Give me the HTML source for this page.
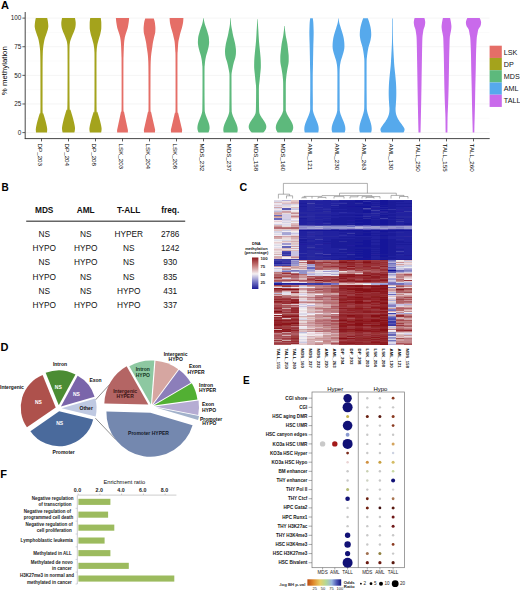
<!DOCTYPE html>
<html><head><meta charset="utf-8"><style>
html,body{margin:0;padding:0;background:#fff;}
body{width:520px;height:591px;overflow:hidden;}
svg{display:block;font-family:"Liberation Sans", sans-serif;}
text{font-family:"Liberation Sans", sans-serif;}
</style></head><body>
<svg width="520" height="591" viewBox="0 0 520 591" font-family="Liberation Sans, sans-serif">
<rect width="520" height="591" fill="#fff"/>
<text x="1" y="9.3" font-size="11" font-weight="bold" >A</text>
<line x1="25.5" x2="489.5" y1="132.60" y2="132.60" stroke="#ececec" stroke-width="0.6"/>
<line x1="25.5" x2="489.5" y1="103.97" y2="103.97" stroke="#ececec" stroke-width="0.6"/>
<line x1="25.5" x2="489.5" y1="75.35" y2="75.35" stroke="#ececec" stroke-width="0.6"/>
<line x1="25.5" x2="489.5" y1="46.72" y2="46.72" stroke="#ececec" stroke-width="0.6"/>
<line x1="25.5" x2="489.5" y1="18.10" y2="18.10" stroke="#ececec" stroke-width="0.6"/>
<line x1="25.5" x2="489.5" y1="118.29" y2="118.29" stroke="#f6f6f6" stroke-width="0.5"/>
<line x1="25.5" x2="489.5" y1="89.66" y2="89.66" stroke="#f6f6f6" stroke-width="0.5"/>
<line x1="25.5" x2="489.5" y1="61.04" y2="61.04" stroke="#f6f6f6" stroke-width="0.5"/>
<line x1="25.5" x2="489.5" y1="32.41" y2="32.41" stroke="#f6f6f6" stroke-width="0.5"/>
<path d="M47.20,18.10 L47.27,18.41 L47.36,18.84 L47.48,19.35 L47.60,19.90 L47.71,20.45 L47.80,20.96 L47.88,21.44 L47.94,21.93 L48.00,22.41 L48.06,22.89 L48.11,23.36 L48.15,23.82 L48.19,24.28 L48.24,24.72 L48.27,25.16 L48.30,25.60 L48.31,26.03 L48.30,26.46 L48.27,26.88 L48.22,27.29 L48.16,27.70 L48.08,28.12 L48.00,28.54 L47.90,28.98 L47.79,29.43 L47.67,29.91 L47.54,30.39 L47.40,30.87 L47.25,31.36 L47.10,31.84 L46.94,32.32 L46.78,32.79 L46.61,33.27 L46.44,33.75 L46.27,34.23 L46.10,34.70 L45.93,35.18 L45.76,35.66 L45.59,36.13 L45.42,36.61 L45.26,37.09 L45.10,37.56 L44.95,38.04 L44.81,38.52 L44.67,39.00 L44.54,39.47 L44.41,39.95 L44.30,40.43 L44.20,40.91 L44.11,41.39 L44.02,41.88 L43.95,42.36 L43.87,42.83 L43.80,43.29 L43.73,43.72 L43.66,44.12 L43.59,44.51 L43.53,44.91 L43.47,45.34 L43.40,45.81 L43.33,46.33 L43.26,46.89 L43.19,47.48 L43.12,48.07 L43.06,48.67 L43.00,49.24 L42.96,49.71 L42.92,50.06 L42.89,50.41 L42.86,50.87 L42.83,51.55 L42.80,52.56 L42.76,53.79 L42.73,55.11 L42.69,56.65 L42.66,58.54 L42.62,60.92 L42.60,63.90 L42.58,67.78 L42.57,72.52 L42.56,77.74 L42.55,83.06 L42.55,88.12 L42.55,92.52 L42.55,96.43 L42.54,100.17 L42.53,103.64 L42.53,106.73 L42.56,109.36 L42.60,111.42 L42.67,112.73 L42.77,113.33 L42.89,113.46 L43.01,113.36 L43.14,113.26 L43.25,113.39 L43.36,113.72 L43.47,114.05 L43.57,114.38 L43.68,114.70 L43.78,115.03 L43.88,115.36 L43.98,115.69 L44.09,116.02 L44.19,116.35 L44.29,116.68 L44.39,117.00 L44.48,117.33 L44.58,117.66 L44.68,117.99 L44.78,118.32 L44.87,118.65 L44.96,118.98 L45.06,119.31 L45.15,119.63 L45.24,119.96 L45.33,120.29 L45.42,120.62 L45.51,120.95 L45.60,121.28 L45.68,121.61 L45.77,121.93 L45.85,122.26 L45.94,122.59 L46.02,122.92 L46.10,123.25 L46.18,123.58 L46.25,123.91 L46.33,124.24 L46.41,124.56 L46.48,124.89 L46.55,125.22 L46.62,125.55 L46.69,125.88 L46.75,126.21 L46.82,126.54 L46.88,126.86 L46.94,127.19 L46.99,127.53 L47.04,127.89 L47.09,128.25 L47.14,128.59 L47.17,128.90 L47.20,129.16 L47.21,129.37 L47.22,129.53 L47.21,129.66 L47.20,129.78 L47.19,129.89 L47.19,130.02 L47.18,130.17 L47.17,130.31 L47.17,130.45 L47.16,130.60 L47.15,130.74 L47.14,130.88 L47.13,131.03 L47.12,131.17 L47.11,131.31 L47.10,131.45 L47.09,131.60 L47.07,131.74 L47.06,131.89 L47.04,132.06 L47.02,132.22 L47.00,132.38 L46.98,132.51 L46.97,132.60 L36.03,132.60 L36.02,132.51 L36.00,132.38 L35.98,132.22 L35.96,132.06 L35.94,131.89 L35.93,131.74 L35.91,131.60 L35.90,131.45 L35.89,131.31 L35.88,131.17 L35.87,131.03 L35.86,130.88 L35.85,130.74 L35.84,130.60 L35.83,130.45 L35.83,130.31 L35.82,130.17 L35.81,130.02 L35.81,129.89 L35.80,129.78 L35.79,129.66 L35.78,129.53 L35.79,129.37 L35.80,129.16 L35.83,128.90 L35.86,128.59 L35.91,128.25 L35.96,127.89 L36.01,127.53 L36.06,127.19 L36.12,126.86 L36.18,126.54 L36.25,126.21 L36.31,125.88 L36.38,125.55 L36.45,125.22 L36.52,124.89 L36.59,124.56 L36.67,124.24 L36.75,123.91 L36.82,123.58 L36.90,123.25 L36.98,122.92 L37.06,122.59 L37.15,122.26 L37.23,121.93 L37.32,121.61 L37.40,121.28 L37.49,120.95 L37.58,120.62 L37.67,120.29 L37.76,119.96 L37.85,119.63 L37.94,119.31 L38.04,118.98 L38.13,118.65 L38.22,118.32 L38.32,117.99 L38.42,117.66 L38.52,117.33 L38.61,117.00 L38.71,116.68 L38.81,116.35 L38.91,116.02 L39.02,115.69 L39.12,115.36 L39.22,115.03 L39.32,114.70 L39.43,114.38 L39.53,114.05 L39.64,113.72 L39.75,113.39 L39.86,113.26 L39.99,113.36 L40.11,113.46 L40.23,113.33 L40.33,112.73 L40.40,111.42 L40.44,109.36 L40.47,106.73 L40.47,103.64 L40.46,100.17 L40.45,96.43 L40.45,92.52 L40.45,88.12 L40.45,83.06 L40.44,77.74 L40.43,72.52 L40.42,67.78 L40.40,63.90 L40.38,60.92 L40.34,58.54 L40.31,56.65 L40.27,55.11 L40.24,53.79 L40.20,52.56 L40.17,51.55 L40.14,50.87 L40.11,50.41 L40.08,50.06 L40.04,49.71 L40.00,49.24 L39.94,48.67 L39.88,48.07 L39.81,47.48 L39.74,46.89 L39.67,46.33 L39.60,45.81 L39.53,45.34 L39.47,44.91 L39.41,44.51 L39.34,44.12 L39.27,43.72 L39.20,43.29 L39.13,42.83 L39.05,42.36 L38.98,41.88 L38.89,41.39 L38.80,40.91 L38.70,40.43 L38.59,39.95 L38.46,39.47 L38.33,39.00 L38.19,38.52 L38.05,38.04 L37.90,37.56 L37.74,37.09 L37.58,36.61 L37.41,36.13 L37.24,35.66 L37.07,35.18 L36.90,34.70 L36.73,34.23 L36.56,33.75 L36.39,33.27 L36.22,32.79 L36.06,32.32 L35.90,31.84 L35.75,31.36 L35.60,30.87 L35.46,30.39 L35.33,29.91 L35.21,29.43 L35.10,28.98 L35.00,28.54 L34.92,28.12 L34.84,27.70 L34.78,27.29 L34.73,26.88 L34.70,26.46 L34.69,26.03 L34.70,25.60 L34.73,25.16 L34.76,24.72 L34.81,24.28 L34.85,23.82 L34.89,23.36 L34.94,22.89 L35.00,22.41 L35.06,21.93 L35.12,21.44 L35.20,20.96 L35.29,20.45 L35.40,19.90 L35.52,19.35 L35.64,18.84 L35.73,18.41 L35.80,18.10Z" fill="#A4A31C"/>
<path d="M75.00,18.10 L75.06,18.42 L75.14,18.88 L75.24,19.41 L75.34,19.97 L75.43,20.51 L75.50,20.96 L75.55,21.33 L75.60,21.65 L75.64,21.95 L75.67,22.24 L75.69,22.56 L75.70,22.91 L75.70,23.31 L75.70,23.74 L75.69,24.20 L75.67,24.66 L75.64,25.11 L75.60,25.54 L75.55,25.96 L75.50,26.37 L75.44,26.77 L75.37,27.16 L75.29,27.56 L75.20,27.95 L75.10,28.34 L75.00,28.72 L74.88,29.10 L74.76,29.48 L74.63,29.86 L74.50,30.24 L74.36,30.62 L74.22,31.00 L74.07,31.38 L73.91,31.76 L73.76,32.15 L73.60,32.53 L73.44,32.91 L73.27,33.29 L73.10,33.67 L72.93,34.05 L72.76,34.44 L72.60,34.82 L72.44,35.20 L72.29,35.58 L72.14,35.96 L72.00,36.34 L71.85,36.73 L71.70,37.11 L71.55,37.49 L71.39,37.87 L71.24,38.25 L71.09,38.63 L70.94,39.02 L70.80,39.40 L70.67,39.78 L70.54,40.16 L70.42,40.54 L70.30,40.92 L70.19,41.31 L70.10,41.69 L70.02,42.07 L69.95,42.45 L69.89,42.83 L69.84,43.21 L69.80,43.60 L69.75,43.98 L69.71,44.27 L69.67,44.47 L69.64,44.66 L69.61,44.96 L69.59,45.46 L69.56,46.27 L69.54,47.27 L69.51,48.35 L69.49,49.64 L69.48,51.25 L69.46,53.30 L69.45,55.88 L69.44,59.17 L69.43,63.09 L69.43,67.44 L69.43,72.02 L69.44,76.63 L69.45,81.07 L69.47,85.68 L69.48,90.66 L69.50,95.67 L69.53,100.37 L69.58,104.40 L69.65,107.41 L69.74,109.18 L69.86,109.95 L70.00,110.06 L70.14,109.83 L70.28,109.60 L70.41,109.70 L70.53,110.08 L70.66,110.46 L70.78,110.84 L70.90,111.23 L71.02,111.61 L71.14,111.99 L71.26,112.37 L71.38,112.75 L71.50,113.13 L71.61,113.52 L71.73,113.90 L71.84,114.28 L71.96,114.66 L72.07,115.04 L72.18,115.42 L72.29,115.81 L72.40,116.19 L72.51,116.57 L72.62,116.95 L72.72,117.33 L72.83,117.71 L72.93,118.10 L73.03,118.48 L73.14,118.86 L73.24,119.24 L73.34,119.62 L73.43,120.00 L73.53,120.39 L73.62,120.77 L73.72,121.15 L73.81,121.53 L73.90,121.91 L73.99,122.29 L74.08,122.68 L74.16,123.06 L74.24,123.44 L74.32,123.82 L74.40,124.20 L74.48,124.58 L74.56,124.97 L74.63,125.35 L74.69,125.73 L74.76,126.12 L74.82,126.54 L74.88,126.95 L74.93,127.34 L74.97,127.70 L75.00,128.02 L75.01,128.28 L75.02,128.49 L75.01,128.66 L74.99,128.83 L74.97,128.99 L74.96,129.16 L74.94,129.36 L74.93,129.55 L74.91,129.74 L74.89,129.93 L74.86,130.12 L74.84,130.31 L74.81,130.50 L74.78,130.69 L74.75,130.88 L74.71,131.07 L74.67,131.26 L74.63,131.45 L74.59,131.66 L74.54,131.88 L74.48,132.10 L74.43,132.30 L74.38,132.48 L74.35,132.60 L62.65,132.60 L62.62,132.48 L62.57,132.30 L62.52,132.10 L62.46,131.88 L62.41,131.66 L62.37,131.45 L62.33,131.26 L62.29,131.07 L62.25,130.88 L62.22,130.69 L62.19,130.50 L62.16,130.31 L62.14,130.12 L62.11,129.93 L62.09,129.74 L62.07,129.55 L62.06,129.36 L62.04,129.16 L62.03,128.99 L62.01,128.83 L61.99,128.66 L61.98,128.49 L61.99,128.28 L62.00,128.02 L62.03,127.70 L62.07,127.34 L62.12,126.95 L62.18,126.54 L62.24,126.12 L62.31,125.73 L62.37,125.35 L62.44,124.97 L62.52,124.58 L62.60,124.20 L62.68,123.82 L62.76,123.44 L62.84,123.06 L62.92,122.68 L63.01,122.29 L63.10,121.91 L63.19,121.53 L63.28,121.15 L63.38,120.77 L63.47,120.39 L63.57,120.00 L63.66,119.62 L63.76,119.24 L63.86,118.86 L63.97,118.48 L64.07,118.10 L64.17,117.71 L64.28,117.33 L64.38,116.95 L64.49,116.57 L64.60,116.19 L64.71,115.81 L64.82,115.42 L64.93,115.04 L65.04,114.66 L65.16,114.28 L65.27,113.90 L65.39,113.52 L65.50,113.13 L65.62,112.75 L65.74,112.37 L65.86,111.99 L65.98,111.61 L66.10,111.23 L66.22,110.84 L66.34,110.46 L66.47,110.08 L66.59,109.70 L66.72,109.60 L66.86,109.83 L67.00,110.06 L67.14,109.95 L67.26,109.18 L67.35,107.41 L67.42,104.40 L67.47,100.37 L67.50,95.67 L67.52,90.66 L67.53,85.68 L67.55,81.07 L67.56,76.63 L67.57,72.02 L67.57,67.44 L67.57,63.09 L67.56,59.17 L67.55,55.88 L67.54,53.30 L67.52,51.25 L67.51,49.64 L67.49,48.35 L67.46,47.27 L67.44,46.27 L67.41,45.46 L67.39,44.96 L67.36,44.66 L67.33,44.47 L67.29,44.27 L67.25,43.98 L67.20,43.60 L67.16,43.21 L67.11,42.83 L67.05,42.45 L66.98,42.07 L66.90,41.69 L66.81,41.31 L66.70,40.92 L66.58,40.54 L66.46,40.16 L66.33,39.78 L66.20,39.40 L66.06,39.02 L65.91,38.63 L65.76,38.25 L65.61,37.87 L65.45,37.49 L65.30,37.11 L65.15,36.73 L65.00,36.34 L64.86,35.96 L64.71,35.58 L64.56,35.20 L64.40,34.82 L64.24,34.44 L64.07,34.05 L63.90,33.67 L63.73,33.29 L63.56,32.91 L63.40,32.53 L63.24,32.15 L63.09,31.76 L62.93,31.38 L62.78,31.00 L62.64,30.62 L62.50,30.24 L62.37,29.86 L62.24,29.48 L62.12,29.10 L62.00,28.72 L61.90,28.34 L61.80,27.95 L61.71,27.56 L61.63,27.16 L61.56,26.77 L61.50,26.37 L61.45,25.96 L61.40,25.54 L61.36,25.11 L61.33,24.66 L61.31,24.20 L61.30,23.74 L61.30,23.31 L61.30,22.91 L61.31,22.56 L61.33,22.24 L61.36,21.95 L61.40,21.65 L61.45,21.33 L61.50,20.96 L61.57,20.51 L61.66,19.97 L61.76,19.41 L61.86,18.88 L61.94,18.42 L62.00,18.10Z" fill="#A4A31C"/>
<path d="M100.80,18.10 L100.84,18.42 L100.90,18.88 L100.97,19.41 L101.04,19.97 L101.10,20.51 L101.15,20.96 L101.19,21.30 L101.22,21.56 L101.25,21.80 L101.27,22.07 L101.29,22.42 L101.30,22.91 L101.31,23.60 L101.32,24.46 L101.33,25.41 L101.32,26.36 L101.32,27.23 L101.30,27.95 L101.28,28.49 L101.24,28.91 L101.20,29.26 L101.16,29.58 L101.11,29.89 L101.05,30.24 L100.99,30.62 L100.92,31.00 L100.84,31.38 L100.76,31.76 L100.68,32.15 L100.60,32.53 L100.52,32.91 L100.44,33.29 L100.37,33.67 L100.28,34.05 L100.20,34.44 L100.10,34.82 L99.99,35.20 L99.88,35.58 L99.76,35.96 L99.64,36.34 L99.52,36.73 L99.40,37.11 L99.28,37.49 L99.16,37.87 L99.04,38.25 L98.93,38.63 L98.81,39.02 L98.70,39.40 L98.59,39.78 L98.49,40.16 L98.39,40.54 L98.30,40.92 L98.20,41.31 L98.10,41.69 L98.00,42.07 L97.89,42.45 L97.79,42.83 L97.69,43.21 L97.59,43.60 L97.50,43.98 L97.42,44.36 L97.35,44.74 L97.28,45.12 L97.22,45.50 L97.16,45.89 L97.10,46.27 L97.04,46.65 L96.99,47.03 L96.93,47.40 L96.89,47.79 L96.84,48.17 L96.80,48.56 L96.77,48.92 L96.74,49.26 L96.72,49.59 L96.69,49.97 L96.67,50.41 L96.65,50.96 L96.62,51.40 L96.59,51.67 L96.57,52.00 L96.54,52.65 L96.52,53.86 L96.50,55.88 L96.49,58.87 L96.49,62.65 L96.48,67.00 L96.49,71.67 L96.49,76.44 L96.50,81.07 L96.50,85.95 L96.50,91.34 L96.51,96.83 L96.52,102.00 L96.55,106.42 L96.60,109.70 L96.68,111.58 L96.79,112.36 L96.92,112.41 L97.05,112.08 L97.19,111.76 L97.31,111.80 L97.43,112.15 L97.54,112.50 L97.66,112.85 L97.77,113.20 L97.88,113.55 L97.99,113.90 L98.10,114.25 L98.22,114.60 L98.32,114.95 L98.43,115.30 L98.54,115.65 L98.65,116.00 L98.75,116.35 L98.86,116.70 L98.96,117.05 L99.07,117.40 L99.17,117.75 L99.27,118.10 L99.37,118.45 L99.47,118.80 L99.57,119.15 L99.67,119.50 L99.76,119.85 L99.86,120.20 L99.95,120.55 L100.04,120.90 L100.14,121.25 L100.23,121.60 L100.31,121.95 L100.40,122.29 L100.49,122.64 L100.57,122.99 L100.65,123.34 L100.74,123.69 L100.82,124.04 L100.89,124.39 L100.97,124.74 L101.04,125.09 L101.12,125.44 L101.19,125.79 L101.25,126.14 L101.31,126.49 L101.37,126.86 L101.43,127.23 L101.48,127.61 L101.53,127.97 L101.57,128.31 L101.60,128.59 L101.61,128.82 L101.62,129.01 L101.61,129.16 L101.60,129.30 L101.58,129.44 L101.57,129.59 L101.56,129.76 L101.55,129.93 L101.53,130.10 L101.52,130.26 L101.50,130.43 L101.48,130.60 L101.46,130.76 L101.43,130.93 L101.41,131.10 L101.38,131.26 L101.36,131.43 L101.33,131.60 L101.29,131.78 L101.25,131.97 L101.21,132.16 L101.17,132.34 L101.14,132.49 L101.11,132.60 L89.89,132.60 L89.86,132.49 L89.83,132.34 L89.79,132.16 L89.75,131.97 L89.71,131.78 L89.67,131.60 L89.64,131.43 L89.62,131.26 L89.59,131.10 L89.57,130.93 L89.54,130.76 L89.52,130.60 L89.50,130.43 L89.48,130.26 L89.47,130.10 L89.45,129.93 L89.44,129.76 L89.43,129.59 L89.42,129.44 L89.40,129.30 L89.39,129.16 L89.38,129.01 L89.39,128.82 L89.40,128.59 L89.43,128.31 L89.47,127.97 L89.52,127.61 L89.57,127.23 L89.63,126.86 L89.69,126.49 L89.75,126.14 L89.81,125.79 L89.88,125.44 L89.96,125.09 L90.03,124.74 L90.11,124.39 L90.18,124.04 L90.26,123.69 L90.35,123.34 L90.43,122.99 L90.51,122.64 L90.60,122.29 L90.69,121.95 L90.77,121.60 L90.86,121.25 L90.96,120.90 L91.05,120.55 L91.14,120.20 L91.24,119.85 L91.33,119.50 L91.43,119.15 L91.53,118.80 L91.63,118.45 L91.73,118.10 L91.83,117.75 L91.93,117.40 L92.04,117.05 L92.14,116.70 L92.25,116.35 L92.35,116.00 L92.46,115.65 L92.57,115.30 L92.68,114.95 L92.78,114.60 L92.90,114.25 L93.01,113.90 L93.12,113.55 L93.23,113.20 L93.34,112.85 L93.46,112.50 L93.57,112.15 L93.69,111.80 L93.81,111.76 L93.95,112.08 L94.08,112.41 L94.21,112.36 L94.32,111.58 L94.40,109.70 L94.45,106.42 L94.48,102.00 L94.49,96.83 L94.50,91.34 L94.50,85.95 L94.50,81.07 L94.51,76.44 L94.51,71.67 L94.52,67.00 L94.51,62.65 L94.51,58.87 L94.50,55.88 L94.48,53.86 L94.46,52.65 L94.43,52.00 L94.41,51.67 L94.38,51.40 L94.35,50.96 L94.33,50.41 L94.31,49.97 L94.28,49.59 L94.26,49.26 L94.23,48.92 L94.20,48.56 L94.16,48.17 L94.11,47.79 L94.07,47.40 L94.01,47.03 L93.96,46.65 L93.90,46.27 L93.84,45.89 L93.78,45.50 L93.72,45.12 L93.65,44.74 L93.58,44.36 L93.50,43.98 L93.41,43.60 L93.31,43.21 L93.21,42.83 L93.11,42.45 L93.00,42.07 L92.90,41.69 L92.80,41.31 L92.70,40.92 L92.61,40.54 L92.51,40.16 L92.41,39.78 L92.30,39.40 L92.19,39.02 L92.07,38.63 L91.96,38.25 L91.84,37.87 L91.72,37.49 L91.60,37.11 L91.48,36.73 L91.36,36.34 L91.24,35.96 L91.12,35.58 L91.01,35.20 L90.90,34.82 L90.80,34.44 L90.72,34.05 L90.63,33.67 L90.56,33.29 L90.48,32.91 L90.40,32.53 L90.32,32.15 L90.24,31.76 L90.16,31.38 L90.08,31.00 L90.01,30.62 L89.95,30.24 L89.89,29.89 L89.84,29.58 L89.80,29.26 L89.76,28.91 L89.72,28.49 L89.70,27.95 L89.68,27.23 L89.68,26.36 L89.67,25.41 L89.68,24.46 L89.69,23.60 L89.70,22.91 L89.71,22.42 L89.73,22.07 L89.75,21.80 L89.78,21.56 L89.81,21.30 L89.85,20.96 L89.90,20.51 L89.96,19.97 L90.03,19.41 L90.10,18.88 L90.16,18.42 L90.20,18.10Z" fill="#A4A31C"/>
<path d="M129.10,18.10 L129.08,18.38 L129.05,18.76 L129.02,19.22 L128.98,19.70 L128.94,20.18 L128.90,20.62 L128.86,21.01 L128.81,21.39 L128.76,21.76 L128.71,22.14 L128.66,22.52 L128.60,22.91 L128.54,23.32 L128.48,23.73 L128.41,24.15 L128.34,24.58 L128.27,25.01 L128.20,25.43 L128.12,25.85 L128.05,26.28 L127.97,26.70 L127.89,27.12 L127.80,27.54 L127.70,27.95 L127.60,28.34 L127.49,28.73 L127.37,29.11 L127.25,29.48 L127.12,29.86 L127.00,30.24 L126.87,30.62 L126.74,31.00 L126.60,31.38 L126.46,31.76 L126.33,32.15 L126.20,32.53 L126.08,32.91 L125.96,33.29 L125.84,33.67 L125.72,34.05 L125.61,34.44 L125.50,34.82 L125.39,35.20 L125.29,35.58 L125.18,35.96 L125.08,36.34 L124.99,36.73 L124.90,37.11 L124.82,37.49 L124.75,37.87 L124.68,38.25 L124.62,38.63 L124.56,39.02 L124.50,39.40 L124.44,39.75 L124.39,40.08 L124.34,40.40 L124.30,40.75 L124.25,41.17 L124.20,41.69 L124.15,42.31 L124.10,43.03 L124.04,43.81 L123.99,44.62 L123.94,45.45 L123.90,46.27 L123.86,47.09 L123.82,47.94 L123.79,48.80 L123.76,49.66 L123.73,50.50 L123.70,51.30 L123.67,52.06 L123.65,52.79 L123.62,53.49 L123.60,54.20 L123.58,54.91 L123.56,55.66 L123.54,56.25 L123.52,56.64 L123.50,57.04 L123.48,57.67 L123.46,58.74 L123.45,60.46 L123.44,62.90 L123.43,65.89 L123.42,69.32 L123.41,73.07 L123.40,77.03 L123.40,81.07 L123.40,85.62 L123.39,90.83 L123.39,96.24 L123.40,101.41 L123.41,105.85 L123.45,109.13 L123.51,111.00 L123.58,111.81 L123.67,111.90 L123.76,111.63 L123.86,111.37 L123.94,111.46 L124.03,111.84 L124.11,112.23 L124.19,112.62 L124.27,113.01 L124.36,113.40 L124.44,113.78 L124.52,114.17 L124.60,114.56 L124.69,114.95 L124.77,115.34 L124.85,115.72 L124.93,116.11 L125.02,116.50 L125.10,116.89 L125.18,117.28 L125.26,117.66 L125.35,118.05 L125.43,118.44 L125.51,118.83 L125.59,119.22 L125.67,119.60 L125.76,119.99 L125.84,120.38 L125.92,120.77 L126.00,121.16 L126.09,121.54 L126.17,121.93 L126.25,122.32 L126.33,122.71 L126.42,123.10 L126.50,123.48 L126.58,123.87 L126.66,124.26 L126.75,124.65 L126.83,125.04 L126.91,125.42 L126.99,125.81 L127.08,126.20 L127.16,126.59 L127.24,126.98 L127.32,127.36 L127.41,127.75 L127.49,128.16 L127.59,128.59 L127.68,129.02 L127.77,129.43 L127.85,129.79 L127.90,130.08 L127.93,130.28 L127.94,130.42 L127.93,130.50 L127.92,130.56 L127.90,130.63 L127.90,130.71 L127.90,130.82 L127.89,130.92 L127.89,131.03 L127.89,131.13 L127.89,131.24 L127.89,131.34 L127.88,131.45 L127.88,131.55 L127.88,131.66 L127.88,131.76 L127.87,131.87 L127.87,131.97 L127.87,132.08 L127.86,132.20 L127.86,132.32 L127.85,132.44 L127.85,132.53 L127.85,132.60 L117.15,132.60 L117.15,132.53 L117.15,132.44 L117.14,132.32 L117.14,132.20 L117.13,132.08 L117.13,131.97 L117.13,131.87 L117.12,131.76 L117.12,131.66 L117.12,131.55 L117.12,131.45 L117.11,131.34 L117.11,131.24 L117.11,131.13 L117.11,131.03 L117.11,130.92 L117.10,130.82 L117.10,130.71 L117.10,130.63 L117.08,130.56 L117.07,130.50 L117.06,130.42 L117.07,130.28 L117.10,130.08 L117.15,129.79 L117.23,129.43 L117.32,129.02 L117.41,128.59 L117.51,128.16 L117.59,127.75 L117.68,127.36 L117.76,126.98 L117.84,126.59 L117.92,126.20 L118.01,125.81 L118.09,125.42 L118.17,125.04 L118.25,124.65 L118.34,124.26 L118.42,123.87 L118.50,123.48 L118.58,123.10 L118.67,122.71 L118.75,122.32 L118.83,121.93 L118.91,121.54 L119.00,121.16 L119.08,120.77 L119.16,120.38 L119.24,119.99 L119.33,119.60 L119.41,119.22 L119.49,118.83 L119.57,118.44 L119.65,118.05 L119.74,117.66 L119.82,117.28 L119.90,116.89 L119.98,116.50 L120.07,116.11 L120.15,115.72 L120.23,115.34 L120.31,114.95 L120.40,114.56 L120.48,114.17 L120.56,113.78 L120.64,113.40 L120.73,113.01 L120.81,112.62 L120.89,112.23 L120.97,111.84 L121.06,111.46 L121.14,111.37 L121.24,111.63 L121.33,111.90 L121.42,111.81 L121.49,111.00 L121.55,109.13 L121.59,105.85 L121.60,101.41 L121.61,96.24 L121.61,90.83 L121.60,85.62 L121.60,81.07 L121.60,77.03 L121.59,73.07 L121.58,69.32 L121.57,65.89 L121.56,62.90 L121.55,60.46 L121.54,58.74 L121.52,57.67 L121.50,57.04 L121.48,56.64 L121.46,56.25 L121.44,55.66 L121.42,54.91 L121.40,54.20 L121.38,53.49 L121.35,52.79 L121.33,52.06 L121.30,51.30 L121.27,50.50 L121.24,49.66 L121.21,48.80 L121.18,47.94 L121.14,47.09 L121.10,46.27 L121.06,45.45 L121.01,44.62 L120.96,43.81 L120.90,43.03 L120.85,42.31 L120.80,41.69 L120.75,41.17 L120.70,40.75 L120.66,40.40 L120.61,40.08 L120.56,39.75 L120.50,39.40 L120.44,39.02 L120.38,38.63 L120.32,38.25 L120.25,37.87 L120.18,37.49 L120.10,37.11 L120.01,36.73 L119.92,36.34 L119.82,35.96 L119.71,35.58 L119.61,35.20 L119.50,34.82 L119.39,34.44 L119.28,34.05 L119.16,33.67 L119.04,33.29 L118.92,32.91 L118.80,32.53 L118.67,32.15 L118.54,31.76 L118.40,31.38 L118.26,31.00 L118.13,30.62 L118.00,30.24 L117.88,29.86 L117.75,29.48 L117.63,29.11 L117.51,28.73 L117.40,28.34 L117.30,27.95 L117.20,27.54 L117.11,27.12 L117.03,26.70 L116.95,26.28 L116.88,25.85 L116.80,25.43 L116.73,25.01 L116.66,24.58 L116.59,24.15 L116.52,23.73 L116.46,23.32 L116.40,22.91 L116.34,22.52 L116.29,22.14 L116.24,21.76 L116.19,21.39 L116.14,21.01 L116.10,20.62 L116.06,20.18 L116.02,19.70 L115.98,19.22 L115.95,18.76 L115.92,18.38 L115.90,18.10Z" fill="#E56E67"/>
<path d="M153.80,18.56 L153.88,18.82 L153.99,19.20 L154.12,19.64 L154.26,20.11 L154.39,20.56 L154.50,20.96 L154.59,21.31 L154.66,21.62 L154.72,21.92 L154.79,22.23 L154.84,22.55 L154.90,22.91 L154.96,23.31 L155.01,23.74 L155.06,24.20 L155.11,24.66 L155.16,25.11 L155.20,25.54 L155.24,25.96 L155.28,26.37 L155.32,26.77 L155.36,27.16 L155.38,27.56 L155.40,27.95 L155.41,28.34 L155.41,28.72 L155.40,29.10 L155.38,29.48 L155.37,29.86 L155.35,30.24 L155.33,30.62 L155.32,31.00 L155.30,31.38 L155.28,31.76 L155.25,32.15 L155.20,32.53 L155.14,32.91 L155.06,33.29 L154.98,33.67 L154.89,34.05 L154.79,34.44 L154.70,34.82 L154.60,35.20 L154.50,35.58 L154.40,35.96 L154.30,36.34 L154.20,36.73 L154.10,37.11 L154.01,37.49 L153.93,37.87 L153.84,38.25 L153.76,38.63 L153.68,39.02 L153.60,39.40 L153.52,39.78 L153.43,40.16 L153.34,40.54 L153.26,40.92 L153.18,41.31 L153.10,41.69 L153.03,42.07 L152.96,42.45 L152.89,42.83 L152.82,43.21 L152.76,43.60 L152.70,43.98 L152.65,44.33 L152.61,44.65 L152.57,44.97 L152.53,45.33 L152.47,45.75 L152.40,46.27 L152.31,46.91 L152.19,47.65 L152.07,48.46 L151.94,49.31 L151.82,50.15 L151.70,50.96 L151.59,51.75 L151.48,52.53 L151.38,53.32 L151.27,54.10 L151.18,54.88 L151.10,55.66 L151.03,56.41 L150.97,57.14 L150.93,57.87 L150.88,58.61 L150.84,59.39 L150.80,60.24 L150.76,61.05 L150.72,61.79 L150.69,62.57 L150.66,63.49 L150.63,64.66 L150.60,66.19 L150.58,68.00 L150.56,69.99 L150.54,72.24 L150.52,74.79 L150.51,77.72 L150.50,81.07 L150.49,85.31 L150.47,90.47 L150.46,96.00 L150.46,101.36 L150.47,105.99 L150.50,109.36 L150.56,111.24 L150.63,112.04 L150.72,112.11 L150.82,111.83 L150.92,111.54 L151.01,111.62 L151.10,112.00 L151.18,112.38 L151.27,112.75 L151.35,113.13 L151.44,113.51 L151.52,113.89 L151.61,114.26 L151.69,114.64 L151.78,115.02 L151.86,115.40 L151.95,115.77 L152.03,116.15 L152.12,116.53 L152.20,116.91 L152.29,117.28 L152.37,117.66 L152.46,118.04 L152.54,118.41 L152.63,118.79 L152.71,119.17 L152.80,119.55 L152.89,119.92 L152.97,120.30 L153.06,120.68 L153.14,121.06 L153.23,121.43 L153.31,121.81 L153.40,122.19 L153.48,122.57 L153.57,122.94 L153.65,123.32 L153.74,123.70 L153.82,124.08 L153.91,124.45 L153.99,124.83 L154.08,125.21 L154.16,125.59 L154.25,125.96 L154.33,126.34 L154.42,126.72 L154.50,127.10 L154.59,127.47 L154.68,127.87 L154.78,128.29 L154.88,128.70 L154.97,129.10 L155.05,129.45 L155.10,129.74 L155.13,129.95 L155.14,130.09 L155.13,130.19 L155.11,130.27 L155.10,130.35 L155.09,130.45 L155.09,130.57 L155.08,130.69 L155.08,130.81 L155.07,130.93 L155.06,131.05 L155.06,131.17 L155.05,131.29 L155.04,131.41 L155.03,131.53 L155.03,131.65 L155.02,131.77 L155.01,131.88 L154.99,132.01 L154.98,132.15 L154.97,132.29 L154.95,132.41 L154.94,132.52 L154.93,132.60 L144.07,132.60 L144.06,132.52 L144.05,132.41 L144.03,132.29 L144.02,132.15 L144.01,132.01 L143.99,131.88 L143.98,131.77 L143.97,131.65 L143.97,131.53 L143.96,131.41 L143.95,131.29 L143.94,131.17 L143.94,131.05 L143.93,130.93 L143.92,130.81 L143.92,130.69 L143.91,130.57 L143.91,130.45 L143.90,130.35 L143.89,130.27 L143.87,130.19 L143.86,130.09 L143.87,129.95 L143.90,129.74 L143.95,129.45 L144.03,129.10 L144.12,128.70 L144.22,128.29 L144.32,127.87 L144.41,127.47 L144.50,127.10 L144.58,126.72 L144.67,126.34 L144.75,125.96 L144.84,125.59 L144.92,125.21 L145.01,124.83 L145.09,124.45 L145.18,124.08 L145.26,123.70 L145.35,123.32 L145.43,122.94 L145.52,122.57 L145.60,122.19 L145.69,121.81 L145.77,121.43 L145.86,121.06 L145.94,120.68 L146.03,120.30 L146.11,119.92 L146.20,119.55 L146.29,119.17 L146.37,118.79 L146.46,118.41 L146.54,118.04 L146.63,117.66 L146.71,117.28 L146.80,116.91 L146.88,116.53 L146.97,116.15 L147.05,115.77 L147.14,115.40 L147.22,115.02 L147.31,114.64 L147.39,114.26 L147.48,113.89 L147.56,113.51 L147.65,113.13 L147.73,112.75 L147.82,112.38 L147.90,112.00 L147.99,111.62 L148.08,111.54 L148.18,111.83 L148.28,112.11 L148.37,112.04 L148.44,111.24 L148.50,109.36 L148.53,105.99 L148.54,101.36 L148.54,96.00 L148.53,90.47 L148.51,85.31 L148.50,81.07 L148.49,77.72 L148.48,74.79 L148.46,72.24 L148.44,69.99 L148.42,68.00 L148.40,66.19 L148.37,64.66 L148.34,63.49 L148.31,62.57 L148.28,61.79 L148.24,61.05 L148.20,60.24 L148.16,59.39 L148.12,58.61 L148.07,57.87 L148.03,57.14 L147.97,56.41 L147.90,55.66 L147.82,54.88 L147.73,54.10 L147.62,53.32 L147.52,52.53 L147.41,51.75 L147.30,50.96 L147.18,50.15 L147.06,49.31 L146.93,48.46 L146.81,47.65 L146.69,46.91 L146.60,46.27 L146.53,45.75 L146.47,45.33 L146.43,44.97 L146.39,44.65 L146.35,44.33 L146.30,43.98 L146.24,43.60 L146.18,43.21 L146.11,42.83 L146.04,42.45 L145.97,42.07 L145.90,41.69 L145.82,41.31 L145.74,40.92 L145.66,40.54 L145.57,40.16 L145.48,39.78 L145.40,39.40 L145.32,39.02 L145.24,38.63 L145.16,38.25 L145.07,37.87 L144.99,37.49 L144.90,37.11 L144.80,36.73 L144.70,36.34 L144.60,35.96 L144.50,35.58 L144.40,35.20 L144.30,34.82 L144.21,34.44 L144.11,34.05 L144.02,33.67 L143.94,33.29 L143.86,32.91 L143.80,32.53 L143.75,32.15 L143.72,31.76 L143.70,31.38 L143.68,31.00 L143.67,30.62 L143.65,30.24 L143.63,29.86 L143.62,29.48 L143.60,29.10 L143.59,28.72 L143.59,28.34 L143.60,27.95 L143.62,27.56 L143.64,27.16 L143.68,26.77 L143.72,26.37 L143.76,25.96 L143.80,25.54 L143.84,25.11 L143.89,24.66 L143.94,24.20 L143.99,23.74 L144.04,23.31 L144.10,22.91 L144.16,22.55 L144.21,22.23 L144.28,21.92 L144.34,21.62 L144.41,21.31 L144.50,20.96 L144.61,20.56 L144.74,20.11 L144.88,19.64 L145.01,19.20 L145.12,18.82 L145.20,18.56Z" fill="#E56E67"/>
<path d="M183.40,18.10 L183.38,18.38 L183.36,18.76 L183.34,19.22 L183.31,19.70 L183.28,20.18 L183.25,20.62 L183.22,21.01 L183.18,21.39 L183.15,21.76 L183.11,22.14 L183.06,22.52 L183.00,22.91 L182.93,23.32 L182.86,23.73 L182.77,24.15 L182.68,24.58 L182.59,25.01 L182.50,25.43 L182.41,25.85 L182.31,26.28 L182.21,26.70 L182.11,27.12 L182.01,27.54 L181.90,27.95 L181.79,28.34 L181.67,28.73 L181.56,29.11 L181.44,29.48 L181.32,29.86 L181.20,30.24 L181.08,30.62 L180.96,31.00 L180.84,31.38 L180.73,31.76 L180.61,32.15 L180.50,32.53 L180.39,32.91 L180.29,33.29 L180.19,33.67 L180.09,34.05 L179.99,34.44 L179.90,34.82 L179.81,35.20 L179.73,35.58 L179.65,35.96 L179.57,36.34 L179.49,36.73 L179.40,37.11 L179.31,37.49 L179.22,37.87 L179.12,38.25 L179.03,38.63 L178.94,39.02 L178.85,39.40 L178.77,39.75 L178.69,40.08 L178.62,40.40 L178.54,40.75 L178.47,41.17 L178.40,41.69 L178.33,42.31 L178.26,43.03 L178.19,43.81 L178.12,44.62 L178.06,45.45 L178.00,46.27 L177.94,47.09 L177.89,47.94 L177.84,48.80 L177.79,49.66 L177.74,50.50 L177.70,51.30 L177.66,51.83 L177.62,52.03 L177.58,52.21 L177.55,52.67 L177.52,53.72 L177.50,55.66 L177.48,58.63 L177.47,62.43 L177.46,66.81 L177.45,71.54 L177.45,76.38 L177.45,81.07 L177.45,86.04 L177.44,91.53 L177.44,97.13 L177.45,102.40 L177.46,106.93 L177.50,110.27 L177.56,112.20 L177.64,113.00 L177.73,113.04 L177.82,112.72 L177.92,112.39 L178.01,112.44 L178.10,112.80 L178.18,113.16 L178.27,113.52 L178.35,113.88 L178.44,114.24 L178.52,114.60 L178.61,114.96 L178.69,115.32 L178.78,115.68 L178.86,116.04 L178.95,116.40 L179.03,116.76 L179.12,117.12 L179.20,117.48 L179.29,117.84 L179.37,118.20 L179.46,118.56 L179.54,118.92 L179.63,119.28 L179.71,119.64 L179.80,120.00 L179.89,120.37 L179.97,120.73 L180.06,121.09 L180.14,121.45 L180.23,121.81 L180.31,122.17 L180.40,122.53 L180.48,122.89 L180.57,123.25 L180.65,123.61 L180.74,123.97 L180.82,124.33 L180.91,124.69 L180.99,125.05 L181.08,125.41 L181.16,125.77 L181.25,126.13 L181.33,126.49 L181.42,126.85 L181.50,127.21 L181.59,127.57 L181.68,127.95 L181.78,128.35 L181.88,128.75 L181.97,129.12 L182.05,129.46 L182.10,129.74 L182.13,129.94 L182.14,130.08 L182.13,130.19 L182.11,130.27 L182.10,130.35 L182.09,130.45 L182.09,130.57 L182.08,130.69 L182.08,130.81 L182.07,130.93 L182.06,131.05 L182.06,131.17 L182.05,131.29 L182.04,131.41 L182.03,131.53 L182.03,131.65 L182.02,131.77 L182.01,131.88 L181.99,132.01 L181.98,132.15 L181.97,132.29 L181.95,132.41 L181.94,132.52 L181.93,132.60 L171.07,132.60 L171.06,132.52 L171.05,132.41 L171.03,132.29 L171.02,132.15 L171.01,132.01 L170.99,131.88 L170.98,131.77 L170.97,131.65 L170.97,131.53 L170.96,131.41 L170.95,131.29 L170.94,131.17 L170.94,131.05 L170.93,130.93 L170.92,130.81 L170.92,130.69 L170.91,130.57 L170.91,130.45 L170.90,130.35 L170.89,130.27 L170.87,130.19 L170.86,130.08 L170.87,129.94 L170.90,129.74 L170.95,129.46 L171.03,129.12 L171.12,128.75 L171.22,128.35 L171.32,127.95 L171.41,127.57 L171.50,127.21 L171.58,126.85 L171.67,126.49 L171.75,126.13 L171.84,125.77 L171.92,125.41 L172.01,125.05 L172.09,124.69 L172.18,124.33 L172.26,123.97 L172.35,123.61 L172.43,123.25 L172.52,122.89 L172.60,122.53 L172.69,122.17 L172.77,121.81 L172.86,121.45 L172.94,121.09 L173.03,120.73 L173.11,120.37 L173.20,120.00 L173.29,119.64 L173.37,119.28 L173.46,118.92 L173.54,118.56 L173.63,118.20 L173.71,117.84 L173.80,117.48 L173.88,117.12 L173.97,116.76 L174.05,116.40 L174.14,116.04 L174.22,115.68 L174.31,115.32 L174.39,114.96 L174.48,114.60 L174.56,114.24 L174.65,113.88 L174.73,113.52 L174.82,113.16 L174.90,112.80 L174.99,112.44 L175.08,112.39 L175.18,112.72 L175.27,113.04 L175.36,113.00 L175.44,112.20 L175.50,110.27 L175.54,106.93 L175.55,102.40 L175.56,97.13 L175.56,91.53 L175.55,86.04 L175.55,81.07 L175.55,76.38 L175.55,71.54 L175.54,66.81 L175.53,62.43 L175.52,58.63 L175.50,55.66 L175.48,53.72 L175.45,52.67 L175.42,52.21 L175.38,52.03 L175.34,51.83 L175.30,51.30 L175.26,50.50 L175.21,49.66 L175.16,48.80 L175.11,47.94 L175.06,47.09 L175.00,46.27 L174.94,45.45 L174.88,44.62 L174.81,43.81 L174.74,43.03 L174.67,42.31 L174.60,41.69 L174.53,41.17 L174.46,40.75 L174.38,40.40 L174.31,40.08 L174.23,39.75 L174.15,39.40 L174.06,39.02 L173.97,38.63 L173.88,38.25 L173.78,37.87 L173.69,37.49 L173.60,37.11 L173.51,36.73 L173.43,36.34 L173.35,35.96 L173.27,35.58 L173.19,35.20 L173.10,34.82 L173.01,34.44 L172.91,34.05 L172.81,33.67 L172.71,33.29 L172.61,32.91 L172.50,32.53 L172.39,32.15 L172.27,31.76 L172.16,31.38 L172.04,31.00 L171.92,30.62 L171.80,30.24 L171.68,29.86 L171.56,29.48 L171.44,29.11 L171.33,28.73 L171.21,28.34 L171.10,27.95 L170.99,27.54 L170.89,27.12 L170.79,26.70 L170.69,26.28 L170.59,25.85 L170.50,25.43 L170.41,25.01 L170.32,24.58 L170.23,24.15 L170.14,23.73 L170.07,23.32 L170.00,22.91 L169.94,22.52 L169.89,22.14 L169.85,21.76 L169.82,21.39 L169.78,21.01 L169.75,20.62 L169.72,20.18 L169.69,19.70 L169.66,19.22 L169.64,18.76 L169.62,18.38 L169.60,18.10Z" fill="#E56E67"/>
<path d="M203.75,18.21 L203.75,18.58 L203.82,19.09 L203.90,19.70 L204.00,20.34 L204.10,20.97 L204.20,21.53 L204.31,22.04 L204.42,22.51 L204.54,22.98 L204.67,23.44 L204.80,23.91 L204.95,24.40 L205.11,24.90 L205.28,25.41 L205.46,25.93 L205.64,26.45 L205.82,26.97 L206.00,27.49 L206.17,28.00 L206.34,28.52 L206.51,29.03 L206.67,29.55 L206.84,30.07 L207.00,30.58 L207.16,31.10 L207.33,31.61 L207.49,32.13 L207.65,32.64 L207.80,33.16 L207.95,33.67 L208.09,34.19 L208.23,34.70 L208.37,35.22 L208.49,35.73 L208.60,36.25 L208.70,36.76 L208.78,37.28 L208.84,37.79 L208.89,38.30 L208.93,38.82 L208.97,39.33 L209.00,39.85 L209.03,40.38 L209.07,40.92 L209.09,41.46 L209.11,42.00 L209.11,42.53 L209.10,43.06 L209.07,43.58 L209.01,44.10 L208.95,44.61 L208.87,45.12 L208.79,45.64 L208.70,46.15 L208.60,46.67 L208.50,47.20 L208.38,47.72 L208.26,48.25 L208.13,48.78 L208.00,49.30 L207.86,49.83 L207.71,50.35 L207.56,50.88 L207.41,51.40 L207.25,51.93 L207.10,52.45 L206.95,52.97 L206.79,53.48 L206.64,53.99 L206.49,54.50 L206.34,55.02 L206.20,55.54 L206.07,56.07 L205.94,56.61 L205.82,57.14 L205.71,57.68 L205.60,58.22 L205.50,58.75 L205.41,59.27 L205.33,59.78 L205.25,60.29 L205.18,60.80 L205.11,61.32 L205.05,61.84 L204.99,62.37 L204.94,62.91 L204.88,63.45 L204.84,63.99 L204.79,64.52 L204.75,65.04 L204.71,65.44 L204.67,65.68 L204.63,65.92 L204.60,66.29 L204.57,66.95 L204.55,68.02 L204.53,69.57 L204.52,71.47 L204.51,73.66 L204.50,76.05 L204.50,78.54 L204.50,81.07 L204.50,83.77 L204.51,86.71 L204.51,89.76 L204.52,92.80 L204.53,95.67 L204.55,98.25 L204.57,100.60 L204.59,102.84 L204.62,104.92 L204.64,106.79 L204.67,108.40 L204.70,109.70 L204.72,110.58 L204.74,111.07 L204.77,111.30 L204.79,111.40 L204.82,111.49 L204.87,111.72 L204.92,112.06 L204.99,112.40 L205.06,112.73 L205.14,113.07 L205.23,113.41 L205.32,113.75 L205.41,114.08 L205.52,114.42 L205.62,114.76 L205.74,115.09 L205.85,115.43 L205.97,115.77 L206.09,116.11 L206.22,116.44 L206.35,116.78 L206.48,117.12 L206.61,117.45 L206.74,117.79 L206.88,118.13 L207.01,118.47 L207.15,118.80 L207.29,119.14 L207.42,119.48 L207.56,119.81 L207.69,120.15 L207.82,120.49 L207.95,120.83 L208.08,121.16 L208.21,121.50 L208.33,121.84 L208.45,122.17 L208.56,122.51 L208.68,122.85 L208.78,123.19 L208.89,123.52 L208.98,123.86 L209.07,124.20 L209.16,124.53 L209.24,124.87 L209.31,125.21 L209.38,125.55 L209.43,125.88 L209.48,126.23 L209.52,126.59 L209.55,126.95 L209.57,127.29 L209.59,127.62 L209.60,127.91 L209.60,128.15 L209.60,128.36 L209.59,128.55 L209.57,128.72 L209.55,128.89 L209.52,129.08 L209.50,129.27 L209.46,129.47 L209.43,129.67 L209.39,129.86 L209.34,130.06 L209.29,130.25 L209.24,130.45 L209.18,130.64 L209.12,130.84 L209.06,131.04 L208.99,131.23 L208.91,131.43 L208.83,131.64 L208.73,131.86 L208.62,132.09 L208.52,132.30 L208.44,132.47 L208.38,132.60 L198.62,132.60 L198.56,132.47 L198.48,132.30 L198.38,132.09 L198.27,131.86 L198.17,131.64 L198.09,131.43 L198.01,131.23 L197.94,131.04 L197.88,130.84 L197.82,130.64 L197.76,130.45 L197.71,130.25 L197.66,130.06 L197.61,129.86 L197.57,129.67 L197.54,129.47 L197.50,129.27 L197.48,129.08 L197.45,128.89 L197.43,128.72 L197.41,128.55 L197.40,128.36 L197.40,128.15 L197.40,127.91 L197.41,127.62 L197.43,127.29 L197.45,126.95 L197.48,126.59 L197.52,126.23 L197.57,125.88 L197.62,125.55 L197.69,125.21 L197.76,124.87 L197.84,124.53 L197.93,124.20 L198.02,123.86 L198.11,123.52 L198.22,123.19 L198.32,122.85 L198.44,122.51 L198.55,122.17 L198.67,121.84 L198.79,121.50 L198.92,121.16 L199.05,120.83 L199.18,120.49 L199.31,120.15 L199.44,119.81 L199.58,119.48 L199.71,119.14 L199.85,118.80 L199.99,118.47 L200.12,118.13 L200.26,117.79 L200.39,117.45 L200.52,117.12 L200.65,116.78 L200.78,116.44 L200.91,116.11 L201.03,115.77 L201.15,115.43 L201.26,115.09 L201.38,114.76 L201.48,114.42 L201.59,114.08 L201.68,113.75 L201.77,113.41 L201.86,113.07 L201.94,112.73 L202.01,112.40 L202.08,112.06 L202.13,111.72 L202.18,111.49 L202.21,111.40 L202.23,111.30 L202.26,111.07 L202.28,110.58 L202.30,109.70 L202.33,108.40 L202.36,106.79 L202.38,104.92 L202.41,102.84 L202.43,100.60 L202.45,98.25 L202.47,95.67 L202.48,92.80 L202.49,89.76 L202.49,86.71 L202.50,83.77 L202.50,81.07 L202.50,78.54 L202.50,76.05 L202.49,73.66 L202.48,71.47 L202.47,69.57 L202.45,68.02 L202.43,66.95 L202.40,66.29 L202.37,65.92 L202.33,65.68 L202.29,65.44 L202.25,65.04 L202.21,64.52 L202.16,63.99 L202.12,63.45 L202.06,62.91 L202.01,62.37 L201.95,61.84 L201.89,61.32 L201.82,60.80 L201.75,60.29 L201.67,59.78 L201.59,59.27 L201.50,58.75 L201.40,58.22 L201.29,57.68 L201.18,57.14 L201.06,56.61 L200.93,56.07 L200.80,55.54 L200.66,55.02 L200.51,54.50 L200.36,53.99 L200.21,53.48 L200.05,52.97 L199.90,52.45 L199.75,51.93 L199.59,51.40 L199.44,50.88 L199.29,50.35 L199.14,49.83 L199.00,49.30 L198.87,48.78 L198.74,48.25 L198.62,47.72 L198.50,47.20 L198.40,46.67 L198.30,46.15 L198.21,45.64 L198.13,45.12 L198.05,44.61 L197.99,44.10 L197.93,43.58 L197.90,43.06 L197.89,42.53 L197.89,42.00 L197.91,41.46 L197.93,40.92 L197.97,40.38 L198.00,39.85 L198.03,39.33 L198.07,38.82 L198.11,38.30 L198.16,37.79 L198.22,37.28 L198.30,36.76 L198.40,36.25 L198.51,35.73 L198.63,35.22 L198.77,34.70 L198.91,34.19 L199.05,33.67 L199.20,33.16 L199.35,32.64 L199.51,32.13 L199.67,31.61 L199.84,31.10 L200.00,30.58 L200.16,30.07 L200.33,29.55 L200.49,29.03 L200.66,28.52 L200.83,28.00 L201.00,27.49 L201.18,26.97 L201.36,26.45 L201.54,25.93 L201.72,25.41 L201.89,24.90 L202.05,24.40 L202.20,23.91 L202.33,23.44 L202.46,22.98 L202.58,22.51 L202.69,22.04 L202.80,21.53 L202.90,20.97 L203.00,20.34 L203.10,19.70 L203.18,19.09 L203.25,18.58 L203.25,18.21Z" fill="#5DB97C"/>
<path d="M230.75,18.21 L230.75,18.58 L230.75,19.09 L230.79,19.70 L230.83,20.34 L230.86,20.97 L230.90,21.53 L230.93,22.04 L230.96,22.51 L230.98,22.98 L231.01,23.44 L231.05,23.91 L231.10,24.40 L231.16,24.90 L231.23,25.41 L231.30,25.93 L231.38,26.45 L231.46,26.97 L231.55,27.49 L231.64,28.00 L231.74,28.52 L231.84,29.03 L231.94,29.55 L232.05,30.07 L232.15,30.58 L232.25,31.10 L232.35,31.61 L232.45,32.13 L232.55,32.64 L232.65,33.16 L232.75,33.67 L232.85,34.19 L232.96,34.70 L233.06,35.22 L233.17,35.73 L233.28,36.25 L233.40,36.76 L233.53,37.28 L233.66,37.79 L233.79,38.30 L233.93,38.82 L234.07,39.33 L234.20,39.85 L234.33,40.38 L234.46,40.92 L234.59,41.46 L234.72,42.00 L234.84,42.53 L234.95,43.06 L235.05,43.58 L235.15,44.10 L235.25,44.61 L235.34,45.12 L235.42,45.64 L235.50,46.15 L235.58,46.67 L235.66,47.20 L235.73,47.72 L235.80,48.25 L235.86,48.78 L235.90,49.30 L235.93,49.83 L235.95,50.35 L235.97,50.88 L235.97,51.40 L235.96,51.93 L235.95,52.45 L235.93,52.97 L235.91,53.48 L235.87,53.99 L235.83,54.50 L235.77,55.02 L235.70,55.54 L235.61,56.07 L235.51,56.61 L235.40,57.14 L235.27,57.68 L235.14,58.22 L235.00,58.75 L234.85,59.27 L234.68,59.78 L234.51,60.29 L234.33,60.80 L234.16,61.32 L234.00,61.84 L233.85,62.37 L233.71,62.91 L233.57,63.45 L233.44,63.99 L233.32,64.52 L233.20,65.04 L233.09,65.55 L232.99,66.05 L232.89,66.54 L232.79,67.03 L232.70,67.52 L232.60,68.02 L232.50,68.53 L232.39,69.04 L232.29,69.56 L232.19,70.08 L232.09,70.60 L232.00,71.11 L231.91,71.59 L231.82,72.00 L231.74,72.42 L231.66,72.89 L231.60,73.47 L231.55,74.20 L231.52,75.01 L231.50,75.83 L231.49,76.76 L231.49,77.88 L231.50,79.29 L231.50,81.07 L231.50,83.40 L231.51,86.23 L231.51,89.34 L231.52,92.52 L231.53,95.57 L231.55,98.25 L231.57,100.67 L231.59,103.00 L231.62,105.20 L231.64,107.19 L231.67,108.90 L231.70,110.27 L231.73,111.20 L231.75,111.72 L231.78,111.97 L231.81,112.08 L231.85,112.19 L231.91,112.44 L231.97,112.80 L232.05,113.16 L232.14,113.52 L232.24,113.88 L232.35,114.24 L232.46,114.60 L232.57,114.96 L232.70,115.32 L232.83,115.68 L232.97,116.04 L233.11,116.40 L233.26,116.76 L233.40,117.12 L233.56,117.48 L233.72,117.84 L233.88,118.20 L234.04,118.56 L234.20,118.92 L234.37,119.28 L234.53,119.64 L234.70,120.00 L234.87,120.37 L235.03,120.73 L235.20,121.09 L235.36,121.45 L235.52,121.81 L235.68,122.17 L235.84,122.53 L236.00,122.89 L236.14,123.25 L236.29,123.61 L236.43,123.97 L236.57,124.33 L236.70,124.69 L236.83,125.05 L236.94,125.41 L237.05,125.77 L237.16,126.13 L237.26,126.49 L237.35,126.85 L237.43,127.21 L237.49,127.57 L237.55,127.95 L237.60,128.35 L237.63,128.75 L237.66,129.12 L237.68,129.46 L237.70,129.74 L237.71,129.94 L237.71,130.08 L237.70,130.19 L237.69,130.27 L237.68,130.35 L237.67,130.45 L237.66,130.57 L237.64,130.69 L237.63,130.81 L237.61,130.93 L237.59,131.05 L237.57,131.17 L237.55,131.29 L237.53,131.41 L237.50,131.53 L237.48,131.65 L237.45,131.77 L237.42,131.88 L237.38,132.01 L237.34,132.15 L237.30,132.29 L237.26,132.41 L237.22,132.52 L237.20,132.60 L223.80,132.60 L223.78,132.52 L223.74,132.41 L223.70,132.29 L223.66,132.15 L223.62,132.01 L223.58,131.88 L223.55,131.77 L223.52,131.65 L223.50,131.53 L223.47,131.41 L223.45,131.29 L223.43,131.17 L223.41,131.05 L223.39,130.93 L223.37,130.81 L223.36,130.69 L223.34,130.57 L223.33,130.45 L223.32,130.35 L223.31,130.27 L223.30,130.19 L223.29,130.08 L223.29,129.94 L223.30,129.74 L223.32,129.46 L223.34,129.12 L223.37,128.75 L223.40,128.35 L223.45,127.95 L223.51,127.57 L223.57,127.21 L223.65,126.85 L223.74,126.49 L223.84,126.13 L223.95,125.77 L224.06,125.41 L224.17,125.05 L224.30,124.69 L224.43,124.33 L224.57,123.97 L224.71,123.61 L224.86,123.25 L225.00,122.89 L225.16,122.53 L225.32,122.17 L225.48,121.81 L225.64,121.45 L225.80,121.09 L225.97,120.73 L226.13,120.37 L226.30,120.00 L226.47,119.64 L226.63,119.28 L226.80,118.92 L226.96,118.56 L227.12,118.20 L227.28,117.84 L227.44,117.48 L227.60,117.12 L227.74,116.76 L227.89,116.40 L228.03,116.04 L228.17,115.68 L228.30,115.32 L228.43,114.96 L228.54,114.60 L228.65,114.24 L228.76,113.88 L228.86,113.52 L228.95,113.16 L229.03,112.80 L229.09,112.44 L229.15,112.19 L229.19,112.08 L229.22,111.97 L229.25,111.72 L229.27,111.20 L229.30,110.27 L229.33,108.90 L229.36,107.19 L229.38,105.20 L229.41,103.00 L229.43,100.67 L229.45,98.25 L229.47,95.57 L229.48,92.52 L229.49,89.34 L229.49,86.23 L229.50,83.40 L229.50,81.07 L229.50,79.29 L229.51,77.88 L229.51,76.76 L229.50,75.83 L229.48,75.01 L229.45,74.20 L229.40,73.47 L229.34,72.89 L229.26,72.42 L229.18,72.00 L229.09,71.59 L229.00,71.11 L228.91,70.60 L228.81,70.08 L228.71,69.56 L228.61,69.04 L228.50,68.53 L228.40,68.02 L228.30,67.52 L228.21,67.03 L228.11,66.54 L228.01,66.05 L227.91,65.55 L227.80,65.04 L227.68,64.52 L227.56,63.99 L227.43,63.45 L227.29,62.91 L227.15,62.37 L227.00,61.84 L226.84,61.32 L226.67,60.80 L226.49,60.29 L226.32,59.78 L226.15,59.27 L226.00,58.75 L225.86,58.22 L225.73,57.68 L225.60,57.14 L225.49,56.61 L225.39,56.07 L225.30,55.54 L225.23,55.02 L225.17,54.50 L225.13,53.99 L225.09,53.48 L225.07,52.97 L225.05,52.45 L225.04,51.93 L225.03,51.40 L225.03,50.88 L225.05,50.35 L225.07,49.83 L225.10,49.30 L225.14,48.78 L225.20,48.25 L225.27,47.72 L225.34,47.20 L225.42,46.67 L225.50,46.15 L225.58,45.64 L225.66,45.12 L225.75,44.61 L225.85,44.10 L225.95,43.58 L226.05,43.06 L226.16,42.53 L226.28,42.00 L226.41,41.46 L226.54,40.92 L226.67,40.38 L226.80,39.85 L226.93,39.33 L227.07,38.82 L227.21,38.30 L227.34,37.79 L227.47,37.28 L227.60,36.76 L227.72,36.25 L227.83,35.73 L227.94,35.22 L228.04,34.70 L228.15,34.19 L228.25,33.67 L228.35,33.16 L228.45,32.64 L228.55,32.13 L228.65,31.61 L228.75,31.10 L228.85,30.58 L228.95,30.07 L229.06,29.55 L229.16,29.03 L229.26,28.52 L229.36,28.00 L229.45,27.49 L229.54,26.97 L229.62,26.45 L229.70,25.93 L229.77,25.41 L229.84,24.90 L229.90,24.40 L229.95,23.91 L229.99,23.44 L230.02,22.98 L230.04,22.51 L230.07,22.04 L230.10,21.53 L230.14,20.97 L230.17,20.34 L230.21,19.70 L230.25,19.09 L230.25,18.58 L230.25,18.21Z" fill="#5DB97C"/>
<path d="M257.75,19.24 L257.75,19.87 L257.78,20.73 L257.83,21.76 L257.89,22.86 L257.94,23.96 L258.00,24.97 L258.06,25.91 L258.11,26.83 L258.17,27.75 L258.23,28.67 L258.29,29.61 L258.35,30.58 L258.41,31.58 L258.46,32.59 L258.52,33.63 L258.58,34.67 L258.64,35.72 L258.70,36.76 L258.77,37.81 L258.84,38.86 L258.91,39.91 L258.98,40.96 L259.06,42.01 L259.15,43.06 L259.25,44.10 L259.35,45.15 L259.47,46.18 L259.58,47.22 L259.69,48.26 L259.80,49.30 L259.91,50.38 L260.02,51.49 L260.12,52.61 L260.23,53.69 L260.32,54.68 L260.40,55.54 L260.46,56.25 L260.51,56.84 L260.55,57.34 L260.59,57.80 L260.62,58.25 L260.65,58.75 L260.68,59.23 L260.71,59.67 L260.74,60.11 L260.76,60.58 L260.78,61.15 L260.80,61.84 L260.82,62.69 L260.83,63.67 L260.85,64.74 L260.85,65.85 L260.84,66.96 L260.80,68.02 L260.73,69.05 L260.64,70.08 L260.54,71.11 L260.42,72.14 L260.31,73.17 L260.20,74.20 L260.10,75.25 L260.00,76.30 L259.90,77.35 L259.80,78.41 L259.70,79.46 L259.60,80.50 L259.49,81.52 L259.36,82.50 L259.24,83.48 L259.12,84.48 L259.02,85.54 L258.95,86.69 L258.91,87.92 L258.88,89.21 L258.88,90.56 L258.88,91.96 L258.89,93.38 L258.90,94.81 L258.91,96.34 L258.92,97.96 L258.94,99.62 L258.96,101.22 L258.98,102.70 L259.00,103.97 L259.02,105.02 L259.03,105.90 L259.05,106.66 L259.07,107.33 L259.08,107.94 L259.10,108.55 L259.12,109.14 L259.13,109.68 L259.14,110.17 L259.16,110.61 L259.18,111.03 L259.20,111.42 L259.23,111.77 L259.26,112.07 L259.29,112.34 L259.33,112.60 L259.38,112.85 L259.44,113.12 L259.53,113.41 L259.62,113.69 L259.73,113.97 L259.84,114.26 L259.97,114.54 L260.10,114.83 L260.23,115.11 L260.38,115.40 L260.54,115.68 L260.70,115.96 L260.87,116.25 L261.04,116.53 L261.22,116.82 L261.40,117.10 L261.59,117.38 L261.78,117.67 L261.97,117.95 L262.16,118.24 L262.35,118.52 L262.55,118.80 L262.75,119.09 L262.95,119.37 L263.15,119.66 L263.34,119.94 L263.53,120.23 L263.72,120.51 L263.91,120.79 L264.10,121.08 L264.28,121.36 L264.46,121.65 L264.63,121.93 L264.80,122.21 L264.96,122.50 L265.12,122.78 L265.27,123.07 L265.40,123.35 L265.53,123.64 L265.66,123.92 L265.77,124.20 L265.88,124.49 L265.97,124.77 L266.06,125.06 L266.13,125.34 L266.18,125.63 L266.23,125.92 L266.27,126.21 L266.29,126.49 L266.30,126.76 L266.30,127.02 L266.28,127.27 L266.25,127.51 L266.21,127.74 L266.16,127.98 L266.10,128.22 L266.03,128.46 L265.95,128.71 L265.85,128.95 L265.75,129.19 L265.63,129.44 L265.51,129.68 L265.37,129.92 L265.22,130.17 L265.06,130.41 L264.89,130.65 L264.71,130.90 L264.52,131.14 L264.29,131.40 L264.03,131.68 L263.76,131.96 L263.51,132.22 L263.29,132.44 L263.13,132.60 L251.87,132.60 L251.71,132.44 L251.49,132.22 L251.24,131.96 L250.97,131.68 L250.71,131.40 L250.48,131.14 L250.29,130.90 L250.11,130.65 L249.94,130.41 L249.78,130.17 L249.63,129.92 L249.49,129.68 L249.37,129.44 L249.25,129.19 L249.15,128.95 L249.05,128.71 L248.97,128.46 L248.90,128.22 L248.84,127.98 L248.79,127.74 L248.75,127.51 L248.72,127.27 L248.70,127.02 L248.70,126.76 L248.71,126.49 L248.73,126.21 L248.77,125.92 L248.82,125.63 L248.87,125.34 L248.94,125.06 L249.03,124.77 L249.12,124.49 L249.23,124.20 L249.34,123.92 L249.47,123.64 L249.60,123.35 L249.73,123.07 L249.88,122.78 L250.04,122.50 L250.20,122.21 L250.37,121.93 L250.54,121.65 L250.72,121.36 L250.90,121.08 L251.09,120.79 L251.28,120.51 L251.47,120.23 L251.66,119.94 L251.85,119.66 L252.05,119.37 L252.25,119.09 L252.45,118.80 L252.65,118.52 L252.84,118.24 L253.03,117.95 L253.22,117.67 L253.41,117.38 L253.60,117.10 L253.78,116.82 L253.96,116.53 L254.13,116.25 L254.30,115.96 L254.46,115.68 L254.62,115.40 L254.77,115.11 L254.90,114.83 L255.03,114.54 L255.16,114.26 L255.27,113.97 L255.38,113.69 L255.47,113.41 L255.56,113.12 L255.62,112.85 L255.67,112.60 L255.71,112.34 L255.74,112.07 L255.77,111.77 L255.80,111.42 L255.82,111.03 L255.84,110.61 L255.86,110.17 L255.87,109.68 L255.88,109.14 L255.90,108.55 L255.92,107.94 L255.93,107.33 L255.95,106.66 L255.97,105.90 L255.98,105.02 L256.00,103.97 L256.02,102.70 L256.04,101.22 L256.06,99.62 L256.08,97.96 L256.09,96.34 L256.10,94.81 L256.11,93.38 L256.12,91.96 L256.12,90.56 L256.12,89.21 L256.09,87.92 L256.05,86.69 L255.98,85.54 L255.88,84.48 L255.76,83.48 L255.64,82.50 L255.51,81.52 L255.40,80.50 L255.30,79.46 L255.20,78.41 L255.10,77.35 L255.00,76.30 L254.90,75.25 L254.80,74.20 L254.69,73.17 L254.58,72.14 L254.46,71.11 L254.36,70.08 L254.27,69.05 L254.20,68.02 L254.16,66.96 L254.15,65.85 L254.15,64.74 L254.17,63.67 L254.18,62.69 L254.20,61.84 L254.22,61.15 L254.24,60.58 L254.26,60.11 L254.29,59.67 L254.32,59.23 L254.35,58.75 L254.38,58.25 L254.41,57.80 L254.45,57.34 L254.49,56.84 L254.54,56.25 L254.60,55.54 L254.68,54.68 L254.77,53.69 L254.88,52.61 L254.98,51.49 L255.09,50.38 L255.20,49.30 L255.31,48.26 L255.42,47.22 L255.53,46.18 L255.65,45.15 L255.75,44.10 L255.85,43.06 L255.94,42.01 L256.02,40.96 L256.09,39.91 L256.16,38.86 L256.23,37.81 L256.30,36.76 L256.36,35.72 L256.42,34.67 L256.48,33.63 L256.54,32.59 L256.59,31.58 L256.65,30.58 L256.71,29.61 L256.77,28.67 L256.83,27.75 L256.89,26.83 L256.94,25.91 L257.00,24.97 L257.06,23.96 L257.11,22.86 L257.17,21.76 L257.22,20.73 L257.25,19.87 L257.25,19.24Z" fill="#5DB97C"/>
<path d="M284.75,26.00 L284.75,26.26 L284.75,26.63 L284.79,27.07 L284.83,27.53 L284.86,27.99 L284.90,28.40 L284.93,28.77 L284.96,29.11 L284.99,29.45 L285.02,29.80 L285.06,30.17 L285.10,30.58 L285.15,31.04 L285.22,31.54 L285.28,32.07 L285.36,32.61 L285.43,33.15 L285.50,33.67 L285.57,34.19 L285.64,34.70 L285.71,35.22 L285.78,35.73 L285.86,36.25 L285.95,36.76 L286.05,37.28 L286.15,37.79 L286.27,38.30 L286.38,38.82 L286.49,39.33 L286.60,39.85 L286.70,40.38 L286.81,40.92 L286.91,41.46 L287.01,42.00 L287.11,42.53 L287.20,43.06 L287.28,43.58 L287.36,44.10 L287.44,44.61 L287.51,45.12 L287.58,45.64 L287.65,46.15 L287.71,46.67 L287.77,47.20 L287.83,47.72 L287.89,48.25 L287.94,48.78 L288.00,49.30 L288.06,49.83 L288.12,50.35 L288.18,50.88 L288.24,51.40 L288.29,51.93 L288.35,52.45 L288.41,52.97 L288.46,53.48 L288.52,53.99 L288.57,54.50 L288.62,55.02 L288.65,55.54 L288.67,56.07 L288.69,56.61 L288.70,57.14 L288.70,57.68 L288.70,58.22 L288.70,58.75 L288.70,59.27 L288.71,59.78 L288.71,60.29 L288.70,60.80 L288.68,61.32 L288.65,61.84 L288.60,62.37 L288.54,62.91 L288.46,63.45 L288.38,63.99 L288.29,64.52 L288.20,65.04 L288.11,65.55 L288.01,66.05 L287.90,66.54 L287.80,67.03 L287.70,67.52 L287.60,68.02 L287.51,68.53 L287.43,69.04 L287.34,69.56 L287.26,70.08 L287.18,70.60 L287.10,71.11 L287.02,71.59 L286.94,72.03 L286.86,72.46 L286.78,72.94 L286.69,73.50 L286.60,74.20 L286.49,75.07 L286.38,76.07 L286.25,77.16 L286.14,78.29 L286.03,79.42 L285.95,80.50 L285.89,81.48 L285.86,82.37 L285.83,83.26 L285.82,84.23 L285.81,85.34 L285.80,86.69 L285.79,88.31 L285.79,90.16 L285.79,92.16 L285.79,94.23 L285.80,96.29 L285.80,98.25 L285.80,100.23 L285.79,102.32 L285.78,104.40 L285.78,106.35 L285.79,108.04 L285.80,109.36 L285.82,110.22 L285.85,110.70 L285.88,110.93 L285.93,111.03 L285.98,111.14 L286.05,111.37 L286.14,111.70 L286.24,112.04 L286.35,112.37 L286.47,112.71 L286.60,113.04 L286.73,113.38 L286.88,113.71 L287.03,114.05 L287.20,114.38 L287.37,114.72 L287.54,115.05 L287.72,115.39 L287.90,115.72 L288.09,116.06 L288.29,116.39 L288.49,116.73 L288.69,117.06 L288.89,117.40 L289.09,117.73 L289.29,118.07 L289.50,118.40 L289.71,118.74 L289.91,119.07 L290.11,119.41 L290.31,119.74 L290.51,120.08 L290.71,120.41 L290.91,120.75 L291.10,121.08 L291.28,121.42 L291.46,121.75 L291.63,122.09 L291.80,122.42 L291.97,122.76 L292.12,123.09 L292.27,123.43 L292.40,123.76 L292.53,124.10 L292.65,124.43 L292.76,124.77 L292.86,125.10 L292.95,125.44 L293.02,125.78 L293.08,126.13 L293.12,126.49 L293.16,126.83 L293.18,127.15 L293.20,127.45 L293.20,127.70 L293.20,127.93 L293.18,128.14 L293.15,128.33 L293.12,128.53 L293.08,128.74 L293.04,128.95 L292.99,129.16 L292.93,129.38 L292.87,129.59 L292.80,129.81 L292.72,130.02 L292.64,130.24 L292.55,130.45 L292.45,130.67 L292.35,130.88 L292.24,131.10 L292.12,131.31 L291.99,131.54 L291.83,131.79 L291.67,132.04 L291.51,132.27 L291.38,132.46 L291.29,132.60 L277.71,132.60 L277.62,132.46 L277.49,132.27 L277.33,132.04 L277.17,131.79 L277.01,131.54 L276.88,131.31 L276.76,131.10 L276.65,130.88 L276.55,130.67 L276.45,130.45 L276.36,130.24 L276.28,130.02 L276.20,129.81 L276.13,129.59 L276.07,129.38 L276.01,129.16 L275.96,128.95 L275.92,128.74 L275.88,128.53 L275.85,128.33 L275.82,128.14 L275.80,127.93 L275.80,127.70 L275.80,127.45 L275.82,127.15 L275.84,126.83 L275.88,126.49 L275.92,126.13 L275.98,125.78 L276.05,125.44 L276.14,125.10 L276.24,124.77 L276.35,124.43 L276.47,124.10 L276.60,123.76 L276.73,123.43 L276.88,123.09 L277.03,122.76 L277.20,122.42 L277.37,122.09 L277.54,121.75 L277.72,121.42 L277.90,121.08 L278.09,120.75 L278.29,120.41 L278.49,120.08 L278.69,119.74 L278.89,119.41 L279.09,119.07 L279.29,118.74 L279.50,118.40 L279.71,118.07 L279.91,117.73 L280.11,117.40 L280.31,117.06 L280.51,116.73 L280.71,116.39 L280.91,116.06 L281.10,115.72 L281.28,115.39 L281.46,115.05 L281.63,114.72 L281.80,114.38 L281.97,114.05 L282.12,113.71 L282.27,113.38 L282.40,113.04 L282.53,112.71 L282.65,112.37 L282.76,112.04 L282.86,111.70 L282.95,111.37 L283.02,111.14 L283.07,111.03 L283.12,110.93 L283.15,110.70 L283.18,110.22 L283.20,109.36 L283.21,108.04 L283.22,106.35 L283.22,104.40 L283.21,102.32 L283.20,100.23 L283.20,98.25 L283.20,96.29 L283.21,94.23 L283.21,92.16 L283.21,90.16 L283.21,88.31 L283.20,86.69 L283.19,85.34 L283.18,84.23 L283.17,83.26 L283.14,82.37 L283.11,81.48 L283.05,80.50 L282.97,79.42 L282.86,78.29 L282.75,77.16 L282.62,76.07 L282.51,75.07 L282.40,74.20 L282.31,73.50 L282.22,72.94 L282.14,72.46 L282.06,72.03 L281.98,71.59 L281.90,71.11 L281.82,70.60 L281.74,70.08 L281.66,69.56 L281.57,69.04 L281.49,68.53 L281.40,68.02 L281.30,67.52 L281.20,67.03 L281.10,66.54 L280.99,66.05 L280.89,65.55 L280.80,65.04 L280.71,64.52 L280.62,63.99 L280.54,63.45 L280.46,62.91 L280.40,62.37 L280.35,61.84 L280.32,61.32 L280.30,60.80 L280.29,60.29 L280.29,59.78 L280.30,59.27 L280.30,58.75 L280.30,58.22 L280.30,57.68 L280.30,57.14 L280.31,56.61 L280.33,56.07 L280.35,55.54 L280.38,55.02 L280.43,54.50 L280.48,53.99 L280.54,53.48 L280.59,52.97 L280.65,52.45 L280.71,51.93 L280.76,51.40 L280.82,50.88 L280.88,50.35 L280.94,49.83 L281.00,49.30 L281.06,48.78 L281.11,48.25 L281.17,47.72 L281.23,47.20 L281.29,46.67 L281.35,46.15 L281.42,45.64 L281.49,45.12 L281.56,44.61 L281.64,44.10 L281.72,43.58 L281.80,43.06 L281.89,42.53 L281.99,42.00 L282.09,41.46 L282.19,40.92 L282.30,40.38 L282.40,39.85 L282.51,39.33 L282.62,38.82 L282.73,38.30 L282.85,37.79 L282.95,37.28 L283.05,36.76 L283.14,36.25 L283.22,35.73 L283.29,35.22 L283.36,34.70 L283.43,34.19 L283.50,33.67 L283.57,33.15 L283.64,32.61 L283.72,32.07 L283.78,31.54 L283.85,31.04 L283.90,30.58 L283.94,30.17 L283.98,29.80 L284.01,29.45 L284.04,29.11 L284.07,28.77 L284.10,28.40 L284.14,27.99 L284.17,27.53 L284.21,27.07 L284.25,26.63 L284.25,26.26 L284.25,26.00Z" fill="#5DB97C"/>
<path d="M312.80,18.33 L312.84,18.62 L312.90,19.02 L312.96,19.50 L313.03,20.01 L313.10,20.51 L313.15,20.96 L313.19,21.33 L313.23,21.65 L313.26,21.95 L313.29,22.29 L313.32,22.71 L313.35,23.25 L313.38,23.96 L313.42,24.80 L313.46,25.71 L313.49,26.66 L313.52,27.57 L313.55,28.40 L313.57,29.13 L313.60,29.78 L313.62,30.40 L313.64,31.04 L313.65,31.73 L313.65,32.53 L313.65,33.44 L313.64,34.44 L313.62,35.50 L313.60,36.58 L313.57,37.66 L313.55,38.71 L313.52,39.71 L313.49,40.68 L313.45,41.65 L313.42,42.64 L313.38,43.68 L313.35,44.78 L313.32,45.96 L313.30,47.21 L313.27,48.51 L313.25,49.82 L313.22,51.15 L313.20,52.45 L313.18,53.74 L313.15,55.02 L313.12,56.31 L313.10,57.60 L313.07,58.91 L313.05,60.24 L313.02,61.60 L313.00,63.00 L312.98,64.41 L312.95,65.81 L312.93,67.17 L312.90,68.48 L312.87,69.62 L312.84,70.59 L312.82,71.52 L312.79,72.56 L312.77,73.82 L312.75,75.46 L312.74,77.60 L312.74,80.16 L312.73,82.96 L312.74,85.80 L312.74,88.52 L312.75,90.92 L312.76,93.03 L312.78,95.00 L312.80,96.84 L312.82,98.56 L312.84,100.17 L312.85,101.69 L312.85,103.11 L312.84,104.43 L312.82,105.65 L312.80,106.75 L312.80,107.72 L312.80,108.55 L312.82,109.20 L312.84,109.65 L312.86,109.98 L312.90,110.24 L312.95,110.50 L313.00,110.82 L313.07,111.20 L313.15,111.57 L313.24,111.95 L313.33,112.33 L313.44,112.71 L313.54,113.08 L313.66,113.46 L313.78,113.84 L313.91,114.22 L314.05,114.59 L314.19,114.97 L314.33,115.35 L314.48,115.73 L314.63,116.10 L314.78,116.48 L314.94,116.86 L315.10,117.24 L315.26,117.61 L315.42,117.99 L315.58,118.37 L315.75,118.75 L315.92,119.12 L316.08,119.50 L316.24,119.88 L316.40,120.26 L316.56,120.63 L316.72,121.01 L316.87,121.39 L317.02,121.76 L317.17,122.14 L317.31,122.52 L317.45,122.90 L317.59,123.27 L317.72,123.65 L317.84,124.03 L317.96,124.41 L318.06,124.78 L318.17,125.16 L318.26,125.54 L318.35,125.92 L318.43,126.29 L318.50,126.67 L318.55,127.06 L318.60,127.48 L318.63,127.89 L318.66,128.28 L318.68,128.64 L318.70,128.94 L318.71,129.17 L318.71,129.34 L318.70,129.48 L318.69,129.60 L318.68,129.71 L318.67,129.85 L318.66,130.00 L318.64,130.16 L318.63,130.31 L318.61,130.46 L318.59,130.62 L318.57,130.77 L318.55,130.92 L318.53,131.07 L318.50,131.23 L318.48,131.38 L318.45,131.53 L318.42,131.68 L318.38,131.85 L318.34,132.02 L318.30,132.20 L318.26,132.36 L318.22,132.50 L318.20,132.60 L304.80,132.60 L304.78,132.50 L304.74,132.36 L304.70,132.20 L304.66,132.02 L304.62,131.85 L304.58,131.68 L304.55,131.53 L304.52,131.38 L304.50,131.23 L304.47,131.07 L304.45,130.92 L304.43,130.77 L304.41,130.62 L304.39,130.46 L304.37,130.31 L304.36,130.16 L304.34,130.00 L304.33,129.85 L304.32,129.71 L304.31,129.60 L304.30,129.48 L304.29,129.34 L304.29,129.17 L304.30,128.94 L304.32,128.64 L304.34,128.28 L304.37,127.89 L304.40,127.48 L304.45,127.06 L304.50,126.67 L304.57,126.29 L304.65,125.92 L304.74,125.54 L304.83,125.16 L304.94,124.78 L305.04,124.41 L305.16,124.03 L305.28,123.65 L305.41,123.27 L305.55,122.90 L305.69,122.52 L305.83,122.14 L305.98,121.76 L306.13,121.39 L306.28,121.01 L306.44,120.63 L306.60,120.26 L306.76,119.88 L306.92,119.50 L307.08,119.12 L307.25,118.75 L307.42,118.37 L307.58,117.99 L307.74,117.61 L307.90,117.24 L308.06,116.86 L308.22,116.48 L308.37,116.10 L308.52,115.73 L308.67,115.35 L308.81,114.97 L308.95,114.59 L309.09,114.22 L309.22,113.84 L309.34,113.46 L309.46,113.08 L309.56,112.71 L309.67,112.33 L309.76,111.95 L309.85,111.57 L309.93,111.20 L310.00,110.82 L310.05,110.50 L310.10,110.24 L310.14,109.98 L310.16,109.65 L310.18,109.20 L310.20,108.55 L310.20,107.72 L310.20,106.75 L310.18,105.65 L310.16,104.43 L310.15,103.11 L310.15,101.69 L310.16,100.17 L310.18,98.56 L310.20,96.84 L310.22,95.00 L310.24,93.03 L310.25,90.92 L310.26,88.52 L310.26,85.80 L310.27,82.96 L310.26,80.16 L310.26,77.60 L310.25,75.46 L310.23,73.82 L310.21,72.56 L310.18,71.52 L310.16,70.59 L310.13,69.62 L310.10,68.48 L310.07,67.17 L310.05,65.81 L310.02,64.41 L310.00,63.00 L309.98,61.60 L309.95,60.24 L309.93,58.91 L309.90,57.60 L309.88,56.31 L309.85,55.02 L309.82,53.74 L309.80,52.45 L309.78,51.15 L309.75,49.82 L309.73,48.51 L309.70,47.21 L309.68,45.96 L309.65,44.78 L309.62,43.68 L309.58,42.64 L309.55,41.65 L309.51,40.68 L309.48,39.71 L309.45,38.71 L309.43,37.66 L309.40,36.58 L309.38,35.50 L309.36,34.44 L309.35,33.44 L309.35,32.53 L309.35,31.73 L309.36,31.04 L309.38,30.40 L309.40,29.78 L309.43,29.13 L309.45,28.40 L309.48,27.57 L309.51,26.66 L309.54,25.71 L309.58,24.80 L309.62,23.96 L309.65,23.25 L309.68,22.71 L309.71,22.29 L309.74,21.95 L309.77,21.65 L309.81,21.33 L309.85,20.96 L309.90,20.51 L309.97,20.01 L310.04,19.50 L310.10,19.02 L310.16,18.62 L310.20,18.33Z" fill="#56A9EC"/>
<path d="M338.75,18.56 L338.75,18.82 L338.76,19.19 L338.80,19.62 L338.84,20.08 L338.89,20.54 L338.95,20.96 L339.01,21.34 L339.07,21.70 L339.13,22.06 L339.21,22.43 L339.30,22.83 L339.40,23.25 L339.52,23.72 L339.66,24.22 L339.82,24.75 L339.98,25.28 L340.14,25.82 L340.30,26.34 L340.46,26.86 L340.63,27.37 L340.80,27.89 L340.97,28.40 L341.14,28.92 L341.30,29.44 L341.46,29.95 L341.62,30.47 L341.78,30.99 L341.94,31.50 L342.10,32.02 L342.25,32.53 L342.40,33.03 L342.55,33.52 L342.69,34.02 L342.84,34.51 L342.97,35.00 L343.10,35.50 L343.22,36.01 L343.34,36.53 L343.45,37.04 L343.56,37.56 L343.66,38.08 L343.75,38.60 L343.84,39.11 L343.92,39.63 L344.00,40.14 L344.08,40.66 L344.14,41.17 L344.20,41.69 L344.25,42.20 L344.29,42.72 L344.33,43.23 L344.36,43.75 L344.38,44.26 L344.40,44.78 L344.41,45.29 L344.42,45.81 L344.42,46.32 L344.41,46.84 L344.39,47.35 L344.35,47.87 L344.29,48.39 L344.21,48.90 L344.12,49.42 L344.02,49.93 L343.91,50.45 L343.80,50.96 L343.68,51.48 L343.56,51.99 L343.43,52.51 L343.29,53.02 L343.15,53.54 L343.00,54.05 L342.84,54.57 L342.68,55.08 L342.51,55.60 L342.34,56.11 L342.17,56.63 L342.00,57.14 L341.83,57.66 L341.65,58.17 L341.48,58.69 L341.31,59.21 L341.15,59.72 L341.00,60.24 L340.87,60.75 L340.75,61.27 L340.64,61.79 L340.54,62.31 L340.44,62.82 L340.35,63.33 L340.26,63.79 L340.18,64.21 L340.10,64.62 L340.03,65.08 L339.96,65.62 L339.90,66.30 L339.84,67.06 L339.78,67.83 L339.72,68.69 L339.67,69.71 L339.63,70.95 L339.60,72.49 L339.58,74.44 L339.58,76.76 L339.58,79.31 L339.59,81.94 L339.59,84.49 L339.60,86.80 L339.61,88.88 L339.61,90.85 L339.62,92.74 L339.63,94.58 L339.64,96.41 L339.65,98.25 L339.66,100.20 L339.66,102.24 L339.67,104.27 L339.67,106.17 L339.68,107.82 L339.70,109.13 L339.72,110.00 L339.74,110.50 L339.77,110.77 L339.80,110.92 L339.84,111.06 L339.89,111.33 L339.96,111.70 L340.03,112.06 L340.12,112.43 L340.21,112.80 L340.31,113.16 L340.41,113.53 L340.52,113.90 L340.64,114.26 L340.77,114.63 L340.90,115.00 L341.03,115.36 L341.16,115.73 L341.30,116.10 L341.45,116.46 L341.60,116.83 L341.75,117.20 L341.90,117.56 L342.06,117.93 L342.21,118.30 L342.37,118.66 L342.52,119.03 L342.68,119.40 L342.84,119.77 L342.99,120.13 L343.15,120.50 L343.30,120.87 L343.45,121.23 L343.60,121.60 L343.75,121.97 L343.89,122.33 L344.02,122.70 L344.15,123.07 L344.28,123.43 L344.41,123.80 L344.53,124.17 L344.64,124.53 L344.74,124.90 L344.84,125.27 L344.93,125.63 L345.02,126.00 L345.09,126.37 L345.16,126.74 L345.21,127.12 L345.25,127.52 L345.29,127.92 L345.32,128.30 L345.34,128.64 L345.35,128.94 L345.36,129.16 L345.36,129.34 L345.35,129.47 L345.33,129.59 L345.32,129.71 L345.30,129.85 L345.29,130.00 L345.27,130.16 L345.24,130.31 L345.22,130.46 L345.19,130.62 L345.16,130.77 L345.13,130.92 L345.09,131.07 L345.06,131.23 L345.02,131.38 L344.97,131.53 L344.93,131.68 L344.87,131.85 L344.81,132.02 L344.75,132.20 L344.69,132.36 L344.63,132.50 L344.60,132.60 L332.40,132.60 L332.37,132.50 L332.31,132.36 L332.25,132.20 L332.19,132.02 L332.13,131.85 L332.07,131.68 L332.03,131.53 L331.98,131.38 L331.94,131.23 L331.91,131.07 L331.87,130.92 L331.84,130.77 L331.81,130.62 L331.78,130.46 L331.76,130.31 L331.73,130.16 L331.71,130.00 L331.70,129.85 L331.68,129.71 L331.67,129.59 L331.65,129.47 L331.64,129.34 L331.64,129.16 L331.65,128.94 L331.66,128.64 L331.68,128.30 L331.71,127.92 L331.75,127.52 L331.79,127.12 L331.84,126.74 L331.91,126.37 L331.98,126.00 L332.07,125.63 L332.16,125.27 L332.26,124.90 L332.36,124.53 L332.47,124.17 L332.59,123.80 L332.72,123.43 L332.85,123.07 L332.98,122.70 L333.11,122.33 L333.25,121.97 L333.40,121.60 L333.55,121.23 L333.70,120.87 L333.85,120.50 L334.01,120.13 L334.16,119.77 L334.32,119.40 L334.48,119.03 L334.63,118.66 L334.79,118.30 L334.94,117.93 L335.10,117.56 L335.25,117.20 L335.40,116.83 L335.55,116.46 L335.70,116.10 L335.84,115.73 L335.97,115.36 L336.10,115.00 L336.23,114.63 L336.36,114.26 L336.48,113.90 L336.59,113.53 L336.69,113.16 L336.79,112.80 L336.88,112.43 L336.97,112.06 L337.04,111.70 L337.11,111.33 L337.16,111.06 L337.20,110.92 L337.23,110.77 L337.26,110.50 L337.28,110.00 L337.30,109.13 L337.32,107.82 L337.33,106.17 L337.33,104.27 L337.34,102.24 L337.34,100.20 L337.35,98.25 L337.36,96.41 L337.37,94.58 L337.38,92.74 L337.39,90.85 L337.39,88.88 L337.40,86.80 L337.41,84.49 L337.41,81.94 L337.42,79.31 L337.42,76.76 L337.42,74.44 L337.40,72.49 L337.37,70.95 L337.33,69.71 L337.28,68.69 L337.22,67.83 L337.16,67.06 L337.10,66.30 L337.04,65.62 L336.97,65.08 L336.90,64.62 L336.82,64.21 L336.74,63.79 L336.65,63.33 L336.56,62.82 L336.46,62.31 L336.36,61.79 L336.25,61.27 L336.13,60.75 L336.00,60.24 L335.85,59.72 L335.69,59.21 L335.52,58.69 L335.35,58.17 L335.17,57.66 L335.00,57.14 L334.83,56.63 L334.66,56.11 L334.49,55.60 L334.32,55.08 L334.16,54.57 L334.00,54.05 L333.85,53.54 L333.71,53.02 L333.57,52.51 L333.44,51.99 L333.32,51.48 L333.20,50.96 L333.09,50.45 L332.98,49.93 L332.88,49.42 L332.79,48.90 L332.71,48.39 L332.65,47.87 L332.61,47.35 L332.59,46.84 L332.58,46.32 L332.58,45.81 L332.59,45.29 L332.60,44.78 L332.62,44.26 L332.64,43.75 L332.67,43.23 L332.71,42.72 L332.75,42.20 L332.80,41.69 L332.86,41.17 L332.92,40.66 L333.00,40.14 L333.08,39.63 L333.16,39.11 L333.25,38.60 L333.34,38.08 L333.44,37.56 L333.55,37.04 L333.66,36.53 L333.78,36.01 L333.90,35.50 L334.03,35.00 L334.16,34.51 L334.31,34.02 L334.45,33.52 L334.60,33.03 L334.75,32.53 L334.90,32.02 L335.06,31.50 L335.22,30.99 L335.38,30.47 L335.54,29.95 L335.70,29.44 L335.86,28.92 L336.03,28.40 L336.20,27.89 L336.37,27.37 L336.54,26.86 L336.70,26.34 L336.86,25.82 L337.02,25.28 L337.18,24.75 L337.34,24.22 L337.48,23.72 L337.60,23.25 L337.70,22.83 L337.79,22.43 L337.87,22.06 L337.93,21.70 L337.99,21.34 L338.05,20.96 L338.11,20.54 L338.16,20.08 L338.20,19.62 L338.24,19.19 L338.25,18.82 L338.25,18.56Z" fill="#56A9EC"/>
<path d="M367.80,18.33 L367.91,18.62 L368.07,19.02 L368.26,19.50 L368.45,20.01 L368.64,20.51 L368.80,20.96 L368.93,21.35 L369.05,21.72 L369.16,22.08 L369.27,22.44 L369.38,22.83 L369.50,23.25 L369.63,23.72 L369.77,24.22 L369.91,24.75 L370.04,25.28 L370.18,25.82 L370.30,26.34 L370.42,26.86 L370.53,27.37 L370.63,27.89 L370.73,28.40 L370.82,28.92 L370.90,29.44 L370.96,29.95 L371.02,30.47 L371.06,30.99 L371.09,31.50 L371.12,32.02 L371.15,32.53 L371.18,33.03 L371.20,33.52 L371.22,34.02 L371.22,34.51 L371.22,35.00 L371.20,35.50 L371.16,36.01 L371.11,36.53 L371.05,37.04 L370.97,37.56 L370.89,38.08 L370.80,38.60 L370.70,39.11 L370.60,39.63 L370.48,40.14 L370.36,40.66 L370.23,41.17 L370.10,41.69 L369.96,42.20 L369.81,42.72 L369.66,43.23 L369.50,43.75 L369.35,44.26 L369.20,44.78 L369.05,45.29 L368.90,45.81 L368.76,46.32 L368.61,46.84 L368.48,47.35 L368.35,47.87 L368.23,48.39 L368.13,48.90 L368.02,49.42 L367.93,49.93 L367.84,50.45 L367.75,50.96 L367.67,51.48 L367.59,51.99 L367.51,52.51 L367.44,53.02 L367.37,53.54 L367.30,54.05 L367.23,54.57 L367.16,55.08 L367.09,55.60 L367.02,56.11 L366.96,56.63 L366.90,57.14 L366.85,57.63 L366.80,58.06 L366.75,58.50 L366.71,58.98 L366.68,59.55 L366.65,60.24 L366.63,60.91 L366.62,61.50 L366.61,62.18 L366.61,63.10 L366.60,64.42 L366.60,66.30 L366.60,68.96 L366.59,72.32 L366.59,76.07 L366.59,79.93 L366.59,83.61 L366.60,86.80 L366.61,89.56 L366.63,92.13 L366.65,94.52 L366.67,96.72 L366.69,98.73 L366.70,100.54 L366.71,102.13 L366.72,103.50 L366.72,104.68 L366.73,105.71 L366.74,106.60 L366.75,107.41 L366.77,108.07 L366.79,108.54 L366.81,108.89 L366.84,109.17 L366.87,109.45 L366.92,109.80 L366.98,110.20 L367.04,110.60 L367.12,111.00 L367.20,111.40 L367.28,111.79 L367.37,112.19 L367.47,112.59 L367.57,112.99 L367.68,113.39 L367.80,113.79 L367.91,114.19 L368.03,114.59 L368.16,114.98 L368.28,115.38 L368.41,115.78 L368.55,116.18 L368.68,116.58 L368.81,116.98 L368.95,117.38 L369.09,117.77 L369.23,118.17 L369.36,118.57 L369.50,118.97 L369.64,119.37 L369.77,119.77 L369.90,120.17 L370.04,120.56 L370.17,120.96 L370.29,121.36 L370.42,121.76 L370.54,122.16 L370.65,122.56 L370.77,122.96 L370.88,123.36 L370.98,123.75 L371.08,124.15 L371.17,124.55 L371.25,124.95 L371.33,125.35 L371.41,125.75 L371.47,126.15 L371.53,126.54 L371.58,126.96 L371.62,127.40 L371.65,127.83 L371.67,128.25 L371.69,128.62 L371.70,128.94 L371.71,129.17 L371.71,129.35 L371.70,129.49 L371.69,129.60 L371.67,129.72 L371.66,129.85 L371.65,130.00 L371.63,130.16 L371.61,130.31 L371.59,130.46 L371.57,130.62 L371.55,130.77 L371.52,130.92 L371.49,131.07 L371.46,131.23 L371.42,131.38 L371.39,131.53 L371.35,131.68 L371.31,131.85 L371.26,132.02 L371.20,132.20 L371.15,132.36 L371.11,132.50 L371.08,132.60 L359.92,132.60 L359.89,132.50 L359.85,132.36 L359.80,132.20 L359.74,132.02 L359.69,131.85 L359.65,131.68 L359.61,131.53 L359.58,131.38 L359.54,131.23 L359.51,131.07 L359.48,130.92 L359.45,130.77 L359.43,130.62 L359.41,130.46 L359.39,130.31 L359.37,130.16 L359.35,130.00 L359.34,129.85 L359.33,129.72 L359.31,129.60 L359.30,129.49 L359.29,129.35 L359.29,129.17 L359.30,128.94 L359.31,128.62 L359.33,128.25 L359.35,127.83 L359.38,127.40 L359.42,126.96 L359.47,126.54 L359.53,126.15 L359.59,125.75 L359.67,125.35 L359.75,124.95 L359.83,124.55 L359.92,124.15 L360.02,123.75 L360.12,123.36 L360.23,122.96 L360.35,122.56 L360.46,122.16 L360.58,121.76 L360.71,121.36 L360.83,120.96 L360.96,120.56 L361.10,120.17 L361.23,119.77 L361.36,119.37 L361.50,118.97 L361.64,118.57 L361.77,118.17 L361.91,117.77 L362.05,117.38 L362.19,116.98 L362.32,116.58 L362.45,116.18 L362.59,115.78 L362.72,115.38 L362.84,114.98 L362.97,114.59 L363.09,114.19 L363.20,113.79 L363.32,113.39 L363.43,112.99 L363.53,112.59 L363.63,112.19 L363.72,111.79 L363.80,111.40 L363.88,111.00 L363.96,110.60 L364.02,110.20 L364.08,109.80 L364.13,109.45 L364.16,109.17 L364.19,108.89 L364.21,108.54 L364.23,108.07 L364.25,107.41 L364.26,106.60 L364.27,105.71 L364.28,104.68 L364.28,103.50 L364.29,102.13 L364.30,100.54 L364.31,98.73 L364.33,96.72 L364.35,94.52 L364.37,92.13 L364.39,89.56 L364.40,86.80 L364.41,83.61 L364.41,79.93 L364.41,76.07 L364.41,72.32 L364.40,68.96 L364.40,66.30 L364.40,64.42 L364.39,63.10 L364.39,62.18 L364.38,61.50 L364.37,60.91 L364.35,60.24 L364.32,59.55 L364.29,58.98 L364.25,58.50 L364.20,58.06 L364.15,57.63 L364.10,57.14 L364.04,56.63 L363.98,56.11 L363.91,55.60 L363.84,55.08 L363.77,54.57 L363.70,54.05 L363.63,53.54 L363.56,53.02 L363.49,52.51 L363.41,51.99 L363.33,51.48 L363.25,50.96 L363.16,50.45 L363.07,49.93 L362.98,49.42 L362.87,48.90 L362.77,48.39 L362.65,47.87 L362.52,47.35 L362.39,46.84 L362.24,46.32 L362.10,45.81 L361.95,45.29 L361.80,44.78 L361.65,44.26 L361.50,43.75 L361.34,43.23 L361.19,42.72 L361.04,42.20 L360.90,41.69 L360.77,41.17 L360.64,40.66 L360.52,40.14 L360.40,39.63 L360.30,39.11 L360.20,38.60 L360.11,38.08 L360.03,37.56 L359.95,37.04 L359.89,36.53 L359.84,36.01 L359.80,35.50 L359.78,35.00 L359.78,34.51 L359.78,34.02 L359.80,33.52 L359.82,33.03 L359.85,32.53 L359.88,32.02 L359.91,31.50 L359.94,30.99 L359.98,30.47 L360.04,29.95 L360.10,29.44 L360.18,28.92 L360.27,28.40 L360.37,27.89 L360.47,27.37 L360.58,26.86 L360.70,26.34 L360.82,25.82 L360.96,25.28 L361.09,24.75 L361.23,24.22 L361.37,23.72 L361.50,23.25 L361.62,22.83 L361.73,22.44 L361.84,22.08 L361.95,21.72 L362.07,21.35 L362.20,20.96 L362.36,20.51 L362.55,20.01 L362.74,19.50 L362.93,19.02 L363.09,18.62 L363.20,18.33Z" fill="#56A9EC"/>
<path d="M392.80,18.44 L392.80,19.65 L392.81,21.31 L392.82,23.28 L392.82,25.41 L392.84,27.55 L392.85,29.55 L392.87,31.46 L392.88,33.43 L392.90,35.40 L392.93,37.34 L392.96,39.22 L393.00,41.00 L393.05,42.66 L393.11,44.22 L393.18,45.72 L393.25,47.19 L393.32,48.66 L393.40,50.16 L393.48,51.71 L393.56,53.30 L393.65,54.88 L393.73,56.44 L393.82,57.93 L393.90,59.32 L393.97,60.57 L394.04,61.69 L394.10,62.75 L394.16,63.82 L394.25,64.94 L394.35,66.19 L394.48,67.60 L394.64,69.12 L394.81,70.70 L394.98,72.30 L395.15,73.86 L395.30,75.35 L395.44,76.75 L395.57,78.11 L395.69,79.43 L395.81,80.74 L395.91,82.04 L396.00,83.36 L396.08,84.71 L396.14,86.08 L396.20,87.44 L396.24,88.79 L396.28,90.11 L396.30,91.38 L396.31,92.59 L396.31,93.75 L396.29,94.89 L396.27,96.00 L396.24,97.12 L396.20,98.25 L396.15,99.43 L396.08,100.64 L396.01,101.86 L395.93,103.03 L395.86,104.13 L395.80,105.12 L395.74,105.96 L395.68,106.68 L395.62,107.33 L395.58,107.94 L395.55,108.57 L395.55,109.24 L395.57,109.97 L395.61,110.72 L395.67,111.48 L395.75,112.24 L395.86,112.99 L396.00,113.71 L396.17,114.41 L396.37,115.10 L396.60,115.78 L396.85,116.44 L397.12,117.09 L397.40,117.71 L397.70,118.32 L398.01,118.91 L398.34,119.48 L398.69,120.04 L399.04,120.60 L399.40,121.15 L399.76,121.69 L400.13,122.20 L400.51,122.70 L400.89,123.22 L401.29,123.76 L401.70,124.36 L402.16,125.02 L402.68,125.75 L403.21,126.51 L403.70,127.26 L404.11,127.97 L404.40,128.59 L404.54,129.14 L404.57,129.64 L404.52,130.09 L404.42,130.50 L404.30,130.88 L404.20,131.23 L404.09,131.54 L403.95,131.83 L403.79,132.08 L403.63,132.29 L403.49,132.47 L403.40,132.60 L381.60,132.60 L381.51,132.47 L381.37,132.29 L381.21,132.08 L381.05,131.83 L380.91,131.54 L380.80,131.23 L380.70,130.88 L380.58,130.50 L380.48,130.09 L380.43,129.64 L380.46,129.14 L380.60,128.59 L380.89,127.97 L381.30,127.26 L381.79,126.51 L382.32,125.75 L382.84,125.02 L383.30,124.36 L383.71,123.76 L384.11,123.22 L384.49,122.70 L384.87,122.20 L385.24,121.69 L385.60,121.15 L385.96,120.60 L386.31,120.04 L386.66,119.48 L386.99,118.91 L387.30,118.32 L387.60,117.71 L387.88,117.09 L388.15,116.44 L388.40,115.78 L388.63,115.10 L388.83,114.41 L389.00,113.71 L389.14,112.99 L389.25,112.24 L389.33,111.48 L389.39,110.72 L389.43,109.97 L389.45,109.24 L389.45,108.57 L389.42,107.94 L389.38,107.33 L389.32,106.68 L389.26,105.96 L389.20,105.12 L389.14,104.13 L389.07,103.03 L388.99,101.86 L388.92,100.64 L388.85,99.43 L388.80,98.25 L388.76,97.12 L388.73,96.00 L388.71,94.89 L388.69,93.75 L388.69,92.59 L388.70,91.38 L388.72,90.11 L388.76,88.79 L388.80,87.44 L388.86,86.08 L388.92,84.71 L389.00,83.36 L389.09,82.04 L389.19,80.74 L389.31,79.43 L389.43,78.11 L389.56,76.75 L389.70,75.35 L389.85,73.86 L390.02,72.30 L390.19,70.70 L390.36,69.12 L390.52,67.60 L390.65,66.19 L390.75,64.94 L390.84,63.82 L390.90,62.75 L390.96,61.69 L391.03,60.57 L391.10,59.32 L391.18,57.93 L391.27,56.44 L391.35,54.88 L391.44,53.30 L391.52,51.71 L391.60,50.16 L391.68,48.66 L391.75,47.19 L391.82,45.72 L391.89,44.22 L391.95,42.66 L392.00,41.00 L392.04,39.22 L392.07,37.34 L392.10,35.40 L392.12,33.43 L392.13,31.46 L392.15,29.55 L392.16,27.55 L392.18,25.41 L392.18,23.28 L392.19,21.31 L392.20,19.65 L392.20,18.44Z" fill="#56A9EC"/>
<path d="M424.40,18.10 L424.47,18.35 L424.57,18.69 L424.69,19.09 L424.81,19.53 L424.92,19.98 L425.00,20.39 L425.06,20.77 L425.12,21.15 L425.17,21.53 L425.20,21.92 L425.21,22.34 L425.20,22.79 L425.16,23.30 L425.11,23.84 L425.03,24.40 L424.94,24.98 L424.83,25.56 L424.70,26.11 L424.55,26.64 L424.37,27.13 L424.17,27.62 L423.97,28.14 L423.77,28.70 L423.60,29.32 L423.44,30.04 L423.30,30.84 L423.16,31.68 L423.03,32.54 L422.91,33.36 L422.80,34.13 L422.71,34.78 L422.63,35.32 L422.57,35.83 L422.51,36.40 L422.45,37.11 L422.40,38.02 L422.35,39.20 L422.30,40.57 L422.26,42.08 L422.22,43.65 L422.18,45.23 L422.15,46.72 L422.12,48.10 L422.10,49.38 L422.07,50.67 L422.05,52.03 L422.03,53.55 L422.00,55.31 L421.96,57.32 L421.93,59.51 L421.88,61.86 L421.84,64.35 L421.80,66.94 L421.75,69.62 L421.70,72.47 L421.65,75.52 L421.60,78.68 L421.55,81.86 L421.50,84.98 L421.45,87.94 L421.40,90.80 L421.35,93.61 L421.30,96.35 L421.25,99.01 L421.20,101.56 L421.15,103.97 L421.11,106.22 L421.06,108.32 L421.02,110.31 L420.98,112.22 L420.94,114.11 L420.90,116.00 L420.86,117.94 L420.81,119.90 L420.77,121.83 L420.73,123.67 L420.69,125.37 L420.65,126.88 L420.62,128.19 L420.59,129.38 L420.56,130.42 L420.54,131.31 L420.52,132.04 L420.50,132.60 L418.50,132.60 L418.48,132.04 L418.46,131.31 L418.44,130.42 L418.41,129.38 L418.38,128.19 L418.35,126.88 L418.31,125.37 L418.27,123.67 L418.23,121.83 L418.19,119.90 L418.14,117.94 L418.10,116.00 L418.06,114.11 L418.02,112.22 L417.98,110.31 L417.94,108.32 L417.89,106.22 L417.85,103.97 L417.80,101.56 L417.75,99.01 L417.70,96.35 L417.65,93.61 L417.60,90.80 L417.55,87.94 L417.50,84.98 L417.45,81.86 L417.40,78.68 L417.35,75.52 L417.30,72.47 L417.25,69.62 L417.20,66.94 L417.16,64.35 L417.12,61.86 L417.07,59.51 L417.04,57.32 L417.00,55.31 L416.97,53.55 L416.95,52.03 L416.93,50.67 L416.90,49.38 L416.88,48.10 L416.85,46.72 L416.82,45.23 L416.78,43.65 L416.74,42.08 L416.70,40.57 L416.65,39.20 L416.60,38.02 L416.55,37.11 L416.49,36.40 L416.43,35.83 L416.37,35.32 L416.29,34.78 L416.20,34.13 L416.09,33.36 L415.97,32.54 L415.84,31.68 L415.70,30.84 L415.56,30.04 L415.40,29.32 L415.23,28.70 L415.03,28.14 L414.83,27.62 L414.63,27.13 L414.45,26.64 L414.30,26.11 L414.17,25.56 L414.06,24.98 L413.97,24.40 L413.89,23.84 L413.84,23.30 L413.80,22.79 L413.79,22.34 L413.80,21.92 L413.83,21.53 L413.88,21.15 L413.94,20.77 L414.00,20.39 L414.08,19.98 L414.19,19.53 L414.31,19.09 L414.43,18.69 L414.53,18.35 L414.60,18.10Z" fill="#C96AEB"/>
<path d="M450.10,18.10 L450.18,18.47 L450.29,18.99 L450.42,19.60 L450.56,20.26 L450.69,20.92 L450.80,21.53 L450.90,22.12 L451.00,22.72 L451.09,23.32 L451.17,23.91 L451.24,24.46 L451.30,24.97 L451.35,25.40 L451.38,25.78 L451.41,26.11 L451.42,26.45 L451.42,26.83 L451.40,27.26 L451.37,27.77 L451.31,28.32 L451.25,28.91 L451.17,29.51 L451.09,30.11 L451.00,30.69 L450.90,31.26 L450.78,31.82 L450.66,32.38 L450.53,32.95 L450.41,33.53 L450.30,34.13 L450.20,34.70 L450.10,35.22 L450.00,35.75 L449.91,36.35 L449.83,37.09 L449.75,38.02 L449.68,39.20 L449.63,40.57 L449.58,42.08 L449.54,43.65 L449.49,45.23 L449.45,46.72 L449.41,48.10 L449.36,49.38 L449.32,50.67 L449.28,52.03 L449.24,53.55 L449.20,55.31 L449.16,57.32 L449.12,59.51 L449.08,61.86 L449.04,64.35 L449.00,66.94 L448.95,69.62 L448.90,72.47 L448.85,75.52 L448.79,78.68 L448.73,81.86 L448.67,84.98 L448.60,87.94 L448.53,90.80 L448.44,93.61 L448.36,96.35 L448.27,99.01 L448.19,101.56 L448.10,103.97 L448.01,106.22 L447.92,108.32 L447.83,110.31 L447.74,112.22 L447.66,114.11 L447.60,116.00 L447.55,117.94 L447.52,119.90 L447.50,121.83 L447.48,123.67 L447.47,125.37 L447.45,126.88 L447.44,128.19 L447.42,129.38 L447.42,130.42 L447.41,131.31 L447.40,132.04 L447.40,132.60 L445.60,132.60 L445.60,132.04 L445.59,131.31 L445.58,130.42 L445.58,129.38 L445.56,128.19 L445.55,126.88 L445.53,125.37 L445.52,123.67 L445.50,121.83 L445.48,119.90 L445.45,117.94 L445.40,116.00 L445.34,114.11 L445.26,112.22 L445.17,110.31 L445.08,108.32 L444.99,106.22 L444.90,103.97 L444.81,101.56 L444.73,99.01 L444.64,96.35 L444.56,93.61 L444.47,90.80 L444.40,87.94 L444.33,84.98 L444.27,81.86 L444.21,78.68 L444.15,75.52 L444.10,72.47 L444.05,69.62 L444.00,66.94 L443.96,64.35 L443.92,61.86 L443.88,59.51 L443.84,57.32 L443.80,55.31 L443.76,53.55 L443.72,52.03 L443.68,50.67 L443.64,49.38 L443.59,48.10 L443.55,46.72 L443.51,45.23 L443.46,43.65 L443.42,42.08 L443.37,40.57 L443.32,39.20 L443.25,38.02 L443.17,37.09 L443.09,36.35 L443.00,35.75 L442.90,35.22 L442.80,34.70 L442.70,34.13 L442.59,33.53 L442.47,32.95 L442.34,32.38 L442.22,31.82 L442.10,31.26 L442.00,30.69 L441.91,30.11 L441.83,29.51 L441.75,28.91 L441.69,28.32 L441.63,27.77 L441.60,27.26 L441.58,26.83 L441.58,26.45 L441.59,26.11 L441.62,25.78 L441.65,25.40 L441.70,24.97 L441.76,24.46 L441.83,23.91 L441.91,23.32 L442.00,22.72 L442.10,22.12 L442.20,21.53 L442.31,20.92 L442.44,20.26 L442.58,19.60 L442.71,18.99 L442.82,18.47 L442.90,18.10Z" fill="#C96AEB"/>
<path d="M479.70,18.10 L479.82,18.35 L479.98,18.69 L480.18,19.09 L480.37,19.53 L480.56,19.98 L480.70,20.39 L480.81,20.77 L480.92,21.15 L481.01,21.53 L481.07,21.92 L481.10,22.34 L481.10,22.79 L481.06,23.30 L481.00,23.84 L480.90,24.40 L480.77,24.98 L480.60,25.56 L480.40,26.11 L480.13,26.64 L479.79,27.13 L479.42,27.62 L479.04,28.14 L478.69,28.70 L478.40,29.32 L478.17,30.04 L477.98,30.84 L477.82,31.68 L477.67,32.54 L477.53,33.36 L477.40,34.13 L477.27,34.78 L477.15,35.32 L477.04,35.83 L476.94,36.40 L476.84,37.11 L476.75,38.02 L476.66,39.20 L476.58,40.57 L476.50,42.08 L476.43,43.65 L476.36,45.23 L476.30,46.72 L476.24,48.10 L476.19,49.38 L476.14,50.67 L476.09,52.03 L476.05,53.55 L476.00,55.31 L475.96,57.32 L475.92,59.51 L475.88,61.86 L475.85,64.35 L475.80,66.94 L475.75,69.62 L475.68,72.47 L475.61,75.52 L475.53,78.68 L475.45,81.86 L475.37,84.98 L475.30,87.94 L475.24,90.80 L475.19,93.61 L475.14,96.35 L475.09,99.01 L475.05,101.56 L475.00,103.97 L474.95,106.22 L474.90,108.32 L474.85,110.31 L474.80,112.22 L474.75,114.11 L474.70,116.00 L474.65,117.94 L474.59,119.90 L474.54,121.83 L474.49,123.67 L474.44,125.37 L474.40,126.88 L474.37,128.19 L474.35,129.38 L474.33,130.42 L474.32,131.31 L474.31,132.04 L474.30,132.60 L472.70,132.60 L472.69,132.04 L472.68,131.31 L472.67,130.42 L472.65,129.38 L472.63,128.19 L472.60,126.88 L472.56,125.37 L472.51,123.67 L472.46,121.83 L472.41,119.90 L472.35,117.94 L472.30,116.00 L472.25,114.11 L472.20,112.22 L472.15,110.31 L472.10,108.32 L472.05,106.22 L472.00,103.97 L471.95,101.56 L471.91,99.01 L471.86,96.35 L471.81,93.61 L471.76,90.80 L471.70,87.94 L471.63,84.98 L471.55,81.86 L471.47,78.68 L471.39,75.52 L471.32,72.47 L471.25,69.62 L471.20,66.94 L471.15,64.35 L471.12,61.86 L471.08,59.51 L471.04,57.32 L471.00,55.31 L470.95,53.55 L470.91,52.03 L470.86,50.67 L470.81,49.38 L470.76,48.10 L470.70,46.72 L470.64,45.23 L470.57,43.65 L470.50,42.08 L470.42,40.57 L470.34,39.20 L470.25,38.02 L470.16,37.11 L470.06,36.40 L469.96,35.83 L469.85,35.32 L469.73,34.78 L469.60,34.13 L469.47,33.36 L469.33,32.54 L469.18,31.68 L469.02,30.84 L468.83,30.04 L468.60,29.32 L468.31,28.70 L467.96,28.14 L467.58,27.62 L467.21,27.13 L466.87,26.64 L466.60,26.11 L466.40,25.56 L466.23,24.98 L466.10,24.40 L466.00,23.84 L465.94,23.30 L465.90,22.79 L465.90,22.34 L465.93,21.92 L465.99,21.53 L466.08,21.15 L466.19,20.77 L466.30,20.39 L466.44,19.98 L466.63,19.53 L466.82,19.09 L467.02,18.69 L467.18,18.35 L467.30,18.10Z" fill="#C96AEB"/>
<line x1="25.2" x2="25.2" y1="12" y2="139" stroke="#333" stroke-width="0.9"/>
<line x1="24.8" x2="489.7" y1="138.6" y2="138.6" stroke="#333" stroke-width="0.9"/>
<line x1="22.4" x2="25" y1="132.60" y2="132.60" stroke="#333" stroke-width="0.8"/>
<text x="21.3" y="134.80" font-size="6.4" text-anchor="end" fill="#1a1a1a" >0</text>
<line x1="22.4" x2="25" y1="103.97" y2="103.97" stroke="#333" stroke-width="0.8"/>
<text x="21.3" y="106.17" font-size="6.4" text-anchor="end" fill="#1a1a1a" >25</text>
<line x1="22.4" x2="25" y1="75.35" y2="75.35" stroke="#333" stroke-width="0.8"/>
<text x="21.3" y="77.55" font-size="6.4" text-anchor="end" fill="#1a1a1a" >50</text>
<line x1="22.4" x2="25" y1="46.72" y2="46.72" stroke="#333" stroke-width="0.8"/>
<text x="21.3" y="48.92" font-size="6.4" text-anchor="end" fill="#1a1a1a" >75</text>
<line x1="22.4" x2="25" y1="18.10" y2="18.10" stroke="#333" stroke-width="0.8"/>
<text x="21.3" y="20.30" font-size="6.4" text-anchor="end" fill="#1a1a1a" >100</text>
<text transform="translate(7.2,70.7) rotate(-90)" font-size="7.8" text-anchor="middle" fill="#000" >% methylation</text>
<line x1="41.50" x2="41.50" y1="138.6" y2="141.4" stroke="#333" stroke-width="0.8"/>
<text transform="translate(37.60,143.6) rotate(90)" font-size="6.2" fill="#000" >DP_203</text>
<line x1="68.50" x2="68.50" y1="138.6" y2="141.4" stroke="#333" stroke-width="0.8"/>
<text transform="translate(64.60,143.6) rotate(90)" font-size="6.2" fill="#000" >DP_204</text>
<line x1="95.50" x2="95.50" y1="138.6" y2="141.4" stroke="#333" stroke-width="0.8"/>
<text transform="translate(91.60,143.6) rotate(90)" font-size="6.2" fill="#000" >DP_208</text>
<line x1="122.50" x2="122.50" y1="138.6" y2="141.4" stroke="#333" stroke-width="0.8"/>
<text transform="translate(118.60,143.6) rotate(90)" font-size="6.2" fill="#000" >LSK_203</text>
<line x1="149.50" x2="149.50" y1="138.6" y2="141.4" stroke="#333" stroke-width="0.8"/>
<text transform="translate(145.60,143.6) rotate(90)" font-size="6.2" fill="#000" >LSK_204</text>
<line x1="176.50" x2="176.50" y1="138.6" y2="141.4" stroke="#333" stroke-width="0.8"/>
<text transform="translate(172.60,143.6) rotate(90)" font-size="6.2" fill="#000" >LSK_208</text>
<line x1="203.50" x2="203.50" y1="138.6" y2="141.4" stroke="#333" stroke-width="0.8"/>
<text transform="translate(199.60,143.6) rotate(90)" font-size="6.2" fill="#000" >MDS_232</text>
<line x1="230.50" x2="230.50" y1="138.6" y2="141.4" stroke="#333" stroke-width="0.8"/>
<text transform="translate(226.60,143.6) rotate(90)" font-size="6.2" fill="#000" >MDS_237</text>
<line x1="257.50" x2="257.50" y1="138.6" y2="141.4" stroke="#333" stroke-width="0.8"/>
<text transform="translate(253.60,143.6) rotate(90)" font-size="6.2" fill="#000" >MDS_158</text>
<line x1="284.50" x2="284.50" y1="138.6" y2="141.4" stroke="#333" stroke-width="0.8"/>
<text transform="translate(280.60,143.6) rotate(90)" font-size="6.2" fill="#000" >MDS_160</text>
<line x1="311.50" x2="311.50" y1="138.6" y2="141.4" stroke="#333" stroke-width="0.8"/>
<text transform="translate(307.60,143.6) rotate(90)" font-size="6.2" fill="#000" >AML_121</text>
<line x1="338.50" x2="338.50" y1="138.6" y2="141.4" stroke="#333" stroke-width="0.8"/>
<text transform="translate(334.60,143.6) rotate(90)" font-size="6.2" fill="#000" >AML_230</text>
<line x1="365.50" x2="365.50" y1="138.6" y2="141.4" stroke="#333" stroke-width="0.8"/>
<text transform="translate(361.60,143.6) rotate(90)" font-size="6.2" fill="#000" >AML_263</text>
<line x1="392.50" x2="392.50" y1="138.6" y2="141.4" stroke="#333" stroke-width="0.8"/>
<text transform="translate(388.60,143.6) rotate(90)" font-size="6.2" fill="#000" >AML_130</text>
<line x1="419.50" x2="419.50" y1="138.6" y2="141.4" stroke="#333" stroke-width="0.8"/>
<text transform="translate(415.60,143.6) rotate(90)" font-size="6.2" fill="#000" >TALL_250</text>
<line x1="446.50" x2="446.50" y1="138.6" y2="141.4" stroke="#333" stroke-width="0.8"/>
<text transform="translate(442.60,143.6) rotate(90)" font-size="6.2" fill="#000" >TALL_155</text>
<line x1="473.50" x2="473.50" y1="138.6" y2="141.4" stroke="#333" stroke-width="0.8"/>
<text transform="translate(469.60,143.6) rotate(90)" font-size="6.2" fill="#000" >TALL_260</text>
<rect x="489.6" y="45.70" width="12.2" height="12.25" fill="#E56E67"/>
<text x="503.8" y="54.70" font-size="7.2" fill="#111" >LSK</text>
<rect x="489.6" y="57.95" width="12.2" height="12.25" fill="#A4A31C"/>
<text x="503.8" y="66.90" font-size="7.2" fill="#111" >DP</text>
<rect x="489.6" y="70.20" width="12.2" height="12.25" fill="#5DB97C"/>
<text x="503.8" y="79.10" font-size="7.2" fill="#111" >MDS</text>
<rect x="489.6" y="82.45" width="12.2" height="12.25" fill="#56A9EC"/>
<text x="503.8" y="91.20" font-size="7.2" fill="#111" >AML</text>
<rect x="489.6" y="94.70" width="12.2" height="12.25" fill="#C96AEB"/>
<text x="503.8" y="103.10" font-size="7.2" fill="#111" >TALL</text>
<text x="1.4" y="190.8" font-size="10" font-weight="bold" fill="#000">B</text>
<text x="44.2" y="212.9" font-size="8.3" font-weight="bold" text-anchor="middle" fill="#111">MDS</text>
<text x="85.7" y="212.9" font-size="8.3" font-weight="bold" text-anchor="middle" fill="#111">AML</text>
<text x="128.7" y="212.9" font-size="8.3" font-weight="bold" text-anchor="middle" fill="#111">T-ALL</text>
<text x="170.2" y="212.9" font-size="8.3" font-weight="bold" text-anchor="middle" fill="#111">freq.</text>
<line x1="26.2" x2="185.2" y1="221.3" y2="221.3" stroke="#666" stroke-width="1.5"/>
<text x="44.2" y="236.90" font-size="8.3" text-anchor="middle" fill="#111">NS</text>
<text x="85.7" y="236.90" font-size="8.3" text-anchor="middle" fill="#111">NS</text>
<text x="128.7" y="236.90" font-size="8.3" text-anchor="middle" fill="#111">HYPER</text>
<text x="170.2" y="236.90" font-size="8.3" text-anchor="middle" fill="#111">2786</text>
<text x="44.2" y="251.10" font-size="8.3" text-anchor="middle" fill="#111">HYPO</text>
<text x="85.7" y="251.10" font-size="8.3" text-anchor="middle" fill="#111">HYPO</text>
<text x="128.7" y="251.10" font-size="8.3" text-anchor="middle" fill="#111">NS</text>
<text x="170.2" y="251.10" font-size="8.3" text-anchor="middle" fill="#111">1242</text>
<text x="44.2" y="265.30" font-size="8.3" text-anchor="middle" fill="#111">NS</text>
<text x="85.7" y="265.30" font-size="8.3" text-anchor="middle" fill="#111">HYPO</text>
<text x="128.7" y="265.30" font-size="8.3" text-anchor="middle" fill="#111">NS</text>
<text x="170.2" y="265.30" font-size="8.3" text-anchor="middle" fill="#111">930</text>
<text x="44.2" y="279.50" font-size="8.3" text-anchor="middle" fill="#111">HYPO</text>
<text x="85.7" y="279.50" font-size="8.3" text-anchor="middle" fill="#111">NS</text>
<text x="128.7" y="279.50" font-size="8.3" text-anchor="middle" fill="#111">NS</text>
<text x="170.2" y="279.50" font-size="8.3" text-anchor="middle" fill="#111">835</text>
<text x="44.2" y="293.70" font-size="8.3" text-anchor="middle" fill="#111">NS</text>
<text x="85.7" y="293.70" font-size="8.3" text-anchor="middle" fill="#111">NS</text>
<text x="128.7" y="293.70" font-size="8.3" text-anchor="middle" fill="#111">HYPO</text>
<text x="170.2" y="293.70" font-size="8.3" text-anchor="middle" fill="#111">431</text>
<text x="44.2" y="307.90" font-size="8.3" text-anchor="middle" fill="#111">HYPO</text>
<text x="85.7" y="307.90" font-size="8.3" text-anchor="middle" fill="#111">HYPO</text>
<text x="128.7" y="307.90" font-size="8.3" text-anchor="middle" fill="#111">HYPO</text>
<text x="170.2" y="307.90" font-size="8.3" text-anchor="middle" fill="#111">337</text>
<text x="239.6" y="191.1" font-size="10.6" font-weight="bold" fill="#000">C</text>
<path fill="#e1dbe7" d="M274.3 200 h8.1 v1h-8.1zM298.6 341 h8.1 v1h-8.1z" shape-rendering="crispEdges"/>
<path fill="#b7b1db" d="M282.4 200 h8.1 v1h-8.1zM387.6 262 h8.1 v1h-8.1zM403.8 268 h8.1 v1h-8.1zM306.7 271 h8.1 v1h-8.1zM306.7 274 h8.1 v1h-8.1zM387.6 292 h8.1 v1h-8.1zM403.8 304 h8.1 v1h-8.1zM395.7 313 h8.1 v1h-8.1z" shape-rendering="crispEdges"/>
<path fill="#e1c9c9" d="M290.5 200 h8.1 v1h-8.1zM282.4 229 h8.1 v1h-8.1zM355.2 273 h8.1 v1h-8.1zM298.6 290 h8.1 v1h-8.1zM306.7 294 h8.1 v1h-8.1zM306.7 317 h8.1 v1h-8.1zM298.6 324 h8.1 v1h-8.1zM298.6 344 h8.1 v1h-8.1z" shape-rendering="crispEdges"/>
<path fill="#27279f" d="M298.6 200 h16.2 v1h-16.2zM306.7 201 h8.1 v1h-8.1zM306.7 202 h8.1 v1h-8.1zM306.7 204 h16.2 v1h-16.2zM306.7 205 h8.1 v1h-8.1zM306.7 206 h8.1 v1h-8.1zM306.7 207 h8.1 v1h-8.1zM306.7 208 h8.1 v1h-8.1zM322.9 208 h8.1 v1h-8.1zM306.7 209 h16.2 v1h-16.2zM379.5 209 h8.1 v1h-8.1zM306.7 210 h8.1 v1h-8.1zM298.6 212 h32.4 v1h-32.4zM379.5 212 h8.1 v1h-8.1zM395.7 212 h8.1 v1h-8.1zM298.6 213 h32.4 v1h-32.4zM363.3 213 h8.1 v1h-8.1zM306.7 214 h8.1 v1h-8.1zM306.7 215 h8.1 v1h-8.1zM371.4 215 h8.1 v1h-8.1zM314.8 216 h16.2 v1h-16.2zM395.7 216 h16.2 v1h-16.2zM298.6 217 h16.2 v1h-16.2zM395.7 217 h16.2 v1h-16.2zM306.7 218 h8.1 v1h-8.1zM322.9 218 h8.1 v1h-8.1zM306.7 219 h16.2 v1h-16.2zM306.7 220 h8.1 v1h-8.1zM306.7 222 h8.1 v1h-8.1zM306.7 223 h8.1 v1h-8.1zM306.7 224 h8.1 v1h-8.1zM306.7 231 h16.2 v1h-16.2zM314.8 232 h8.1 v1h-8.1zM395.7 232 h8.1 v1h-8.1zM306.7 233 h16.2 v1h-16.2zM314.8 234 h8.1 v1h-8.1zM306.7 235 h8.1 v1h-8.1zM298.6 236 h8.1 v1h-8.1zM314.8 236 h24.3 v1h-24.3zM395.7 236 h8.1 v1h-8.1zM306.7 237 h16.2 v1h-16.2zM306.7 238 h16.2 v1h-16.2zM395.7 239 h8.1 v1h-8.1zM306.7 240 h8.1 v1h-8.1zM306.7 241 h8.1 v1h-8.1zM306.7 245 h8.1 v1h-8.1zM306.7 246 h8.1 v1h-8.1zM306.7 248 h16.2 v1h-16.2zM306.7 250 h8.1 v1h-8.1zM306.7 251 h16.2 v1h-16.2zM306.7 252 h16.2 v1h-16.2zM339.1 252 h8.1 v1h-8.1zM306.7 253 h8.1 v1h-8.1zM306.7 254 h16.2 v1h-16.2zM395.7 254 h8.1 v1h-8.1zM306.7 255 h8.1 v1h-8.1zM298.6 256 h8.1 v1h-8.1zM314.8 256 h8.1 v1h-8.1zM306.7 257 h24.3 v1h-24.3zM306.7 258 h16.2 v1h-16.2zM306.7 259 h8.1 v1h-8.1zM322.9 259 h8.1 v1h-8.1zM282.4 263 h8.1 v1h-8.1zM298.6 283 h8.1 v1h-8.1z" shape-rendering="crispEdges"/>
<path fill="#2d2da5" d="M314.8 200 h8.1 v1h-8.1zM363.3 201 h8.1 v1h-8.1zM331.0 203 h8.1 v1h-8.1zM314.8 207 h8.1 v1h-8.1zM322.9 209 h8.1 v1h-8.1zM339.1 212 h8.1 v1h-8.1zM306.7 216 h8.1 v1h-8.1zM306.7 232 h8.1 v1h-8.1zM339.1 235 h8.1 v1h-8.1zM306.7 236 h8.1 v1h-8.1zM298.6 238 h8.1 v1h-8.1z" shape-rendering="crispEdges"/>
<path fill="#21219f" d="M322.9 200 h8.1 v1h-8.1zM339.1 200 h16.2 v1h-16.2zM371.4 200 h8.1 v1h-8.1zM387.6 200 h24.3 v1h-24.3zM298.6 201 h8.1 v1h-8.1zM314.8 201 h24.3 v1h-24.3zM403.8 201 h8.1 v1h-8.1zM298.6 202 h8.1 v1h-8.1zM314.8 202 h32.4 v1h-32.4zM371.4 202 h8.1 v1h-8.1zM395.7 202 h16.2 v1h-16.2zM314.8 203 h16.2 v1h-16.2zM298.6 204 h8.1 v1h-8.1zM322.9 204 h16.2 v1h-16.2zM371.4 204 h8.1 v1h-8.1zM395.7 204 h16.2 v1h-16.2zM298.6 205 h8.1 v1h-8.1zM314.8 205 h16.2 v1h-16.2zM395.7 205 h16.2 v1h-16.2zM314.8 206 h16.2 v1h-16.2zM298.6 207 h8.1 v1h-8.1zM322.9 207 h16.2 v1h-16.2zM371.4 207 h16.2 v1h-16.2zM395.7 207 h8.1 v1h-8.1zM298.6 208 h8.1 v1h-8.1zM314.8 208 h8.1 v1h-8.1zM395.7 208 h16.2 v1h-16.2zM298.6 209 h8.1 v1h-8.1zM331.0 209 h16.2 v1h-16.2zM371.4 209 h8.1 v1h-8.1zM403.8 209 h8.1 v1h-8.1zM298.6 210 h8.1 v1h-8.1zM314.8 210 h16.2 v1h-16.2zM395.7 210 h16.2 v1h-16.2zM298.6 211 h24.3 v1h-24.3zM371.4 211 h8.1 v1h-8.1zM331.0 212 h8.1 v1h-8.1zM347.1 212 h8.1 v1h-8.1zM371.4 212 h8.1 v1h-8.1zM403.8 212 h8.1 v1h-8.1zM331.0 213 h32.4 v1h-32.4zM387.6 213 h24.3 v1h-24.3zM298.6 214 h8.1 v1h-8.1zM314.8 214 h24.3 v1h-24.3zM363.3 214 h24.3 v1h-24.3zM395.7 214 h16.2 v1h-16.2zM298.6 215 h8.1 v1h-8.1zM314.8 215 h16.2 v1h-16.2zM363.3 215 h8.1 v1h-8.1zM395.7 215 h16.2 v1h-16.2zM331.0 216 h32.4 v1h-32.4zM371.4 216 h8.1 v1h-8.1zM387.6 216 h8.1 v1h-8.1zM314.8 217 h24.3 v1h-24.3zM371.4 217 h8.1 v1h-8.1zM314.8 218 h8.1 v1h-8.1zM403.8 218 h8.1 v1h-8.1zM298.6 219 h8.1 v1h-8.1zM322.9 219 h8.1 v1h-8.1zM371.4 219 h8.1 v1h-8.1zM387.6 219 h8.1 v1h-8.1zM403.8 219 h8.1 v1h-8.1zM298.6 220 h8.1 v1h-8.1zM314.8 220 h16.2 v1h-16.2zM395.7 220 h16.2 v1h-16.2zM298.6 221 h24.3 v1h-24.3zM403.8 221 h8.1 v1h-8.1zM298.6 222 h8.1 v1h-8.1zM314.8 222 h16.2 v1h-16.2zM395.7 222 h16.2 v1h-16.2zM298.6 223 h8.1 v1h-8.1zM347.1 223 h8.1 v1h-8.1zM395.7 223 h8.1 v1h-8.1zM298.6 224 h8.1 v1h-8.1zM314.8 224 h16.2 v1h-16.2zM395.7 224 h8.1 v1h-8.1zM298.6 231 h8.1 v1h-8.1zM322.9 231 h16.2 v1h-16.2zM371.4 231 h8.1 v1h-8.1zM395.7 231 h16.2 v1h-16.2zM298.6 232 h8.1 v1h-8.1zM322.9 232 h32.4 v1h-32.4zM371.4 232 h8.1 v1h-8.1zM387.6 232 h8.1 v1h-8.1zM403.8 232 h8.1 v1h-8.1zM298.6 233 h8.1 v1h-8.1zM322.9 233 h16.2 v1h-16.2zM395.7 233 h16.2 v1h-16.2zM298.6 234 h8.1 v1h-8.1zM322.9 234 h24.3 v1h-24.3zM371.4 234 h8.1 v1h-8.1zM395.7 234 h16.2 v1h-16.2zM298.6 235 h8.1 v1h-8.1zM314.8 235 h24.3 v1h-24.3zM347.1 235 h8.1 v1h-8.1zM395.7 235 h16.2 v1h-16.2zM339.1 236 h40.5 v1h-40.5zM387.6 236 h8.1 v1h-8.1zM298.6 237 h8.1 v1h-8.1zM322.9 237 h16.2 v1h-16.2zM371.4 237 h8.1 v1h-8.1zM387.6 237 h24.3 v1h-24.3zM322.9 238 h32.4 v1h-32.4zM371.4 238 h8.1 v1h-8.1zM387.6 238 h24.3 v1h-24.3zM306.7 239 h8.1 v1h-8.1zM322.9 239 h8.1 v1h-8.1zM403.8 239 h8.1 v1h-8.1zM314.8 240 h16.2 v1h-16.2zM371.4 240 h8.1 v1h-8.1zM395.7 240 h16.2 v1h-16.2zM298.6 241 h8.1 v1h-8.1zM314.8 241 h8.1 v1h-8.1zM371.4 241 h8.1 v1h-8.1zM403.8 241 h8.1 v1h-8.1zM306.7 242 h24.3 v1h-24.3zM298.6 243 h24.3 v1h-24.3zM371.4 243 h8.1 v1h-8.1zM395.7 243 h16.2 v1h-16.2zM306.7 244 h8.1 v1h-8.1zM322.9 244 h8.1 v1h-8.1zM371.4 244 h8.1 v1h-8.1zM298.6 245 h8.1 v1h-8.1zM314.8 245 h16.2 v1h-16.2zM395.7 245 h16.2 v1h-16.2zM298.6 246 h8.1 v1h-8.1zM314.8 246 h16.2 v1h-16.2zM395.7 246 h16.2 v1h-16.2zM298.6 247 h8.1 v1h-8.1zM314.8 247 h16.2 v1h-16.2zM403.8 247 h8.1 v1h-8.1zM298.6 248 h8.1 v1h-8.1zM322.9 248 h24.3 v1h-24.3zM371.4 248 h8.1 v1h-8.1zM395.7 248 h16.2 v1h-16.2zM298.6 249 h40.5 v1h-40.5zM403.8 249 h8.1 v1h-8.1zM298.6 250 h8.1 v1h-8.1zM322.9 250 h16.2 v1h-16.2zM371.4 250 h8.1 v1h-8.1zM395.7 250 h16.2 v1h-16.2zM298.6 251 h8.1 v1h-8.1zM322.9 251 h16.2 v1h-16.2zM403.8 251 h8.1 v1h-8.1zM298.6 252 h8.1 v1h-8.1zM322.9 252 h16.2 v1h-16.2zM371.4 252 h8.1 v1h-8.1zM395.7 252 h16.2 v1h-16.2zM322.9 253 h8.1 v1h-8.1zM403.8 253 h8.1 v1h-8.1zM298.6 254 h8.1 v1h-8.1zM331.0 254 h16.2 v1h-16.2zM403.8 254 h8.1 v1h-8.1zM298.6 255 h8.1 v1h-8.1zM314.8 255 h8.1 v1h-8.1zM395.7 255 h8.1 v1h-8.1zM322.9 256 h24.3 v1h-24.3zM371.4 256 h8.1 v1h-8.1zM387.6 256 h24.3 v1h-24.3zM298.6 257 h8.1 v1h-8.1zM331.0 257 h16.2 v1h-16.2zM355.2 257 h8.1 v1h-8.1zM371.4 257 h8.1 v1h-8.1zM395.7 257 h16.2 v1h-16.2zM298.6 258 h8.1 v1h-8.1zM322.9 258 h16.2 v1h-16.2zM371.4 258 h8.1 v1h-8.1zM395.7 258 h16.2 v1h-16.2zM298.6 259 h8.1 v1h-8.1zM314.8 259 h8.1 v1h-8.1zM387.6 259 h8.1 v1h-8.1zM274.3 263 h8.1 v1h-8.1zM274.3 283 h16.2 v1h-16.2z" shape-rendering="crispEdges"/>
<path fill="#3333a5" d="M331.0 200 h8.1 v1h-8.1zM339.1 203 h8.1 v1h-8.1zM331.0 205 h8.1 v1h-8.1zM387.6 209 h8.1 v1h-8.1zM371.4 213 h8.1 v1h-8.1zM363.3 216 h8.1 v1h-8.1zM322.9 223 h8.1 v1h-8.1zM371.4 225 h8.1 v1h-8.1zM395.7 229 h8.1 v1h-8.1zM339.1 249 h8.1 v1h-8.1zM282.4 253 h8.1 v1h-8.1zM298.6 253 h8.1 v1h-8.1zM347.1 254 h8.1 v1h-8.1zM282.4 255 h8.1 v1h-8.1zM298.6 284 h8.1 v1h-8.1z" shape-rendering="crispEdges"/>
<path fill="#1b1b99" d="M355.2 200 h16.2 v1h-16.2zM339.1 201 h16.2 v1h-16.2zM371.4 201 h8.1 v1h-8.1zM387.6 201 h16.2 v1h-16.2zM347.1 202 h16.2 v1h-16.2zM387.6 202 h8.1 v1h-8.1zM298.6 203 h8.1 v1h-8.1zM347.1 203 h8.1 v1h-8.1zM371.4 203 h8.1 v1h-8.1zM387.6 203 h24.3 v1h-24.3zM339.1 204 h32.4 v1h-32.4zM387.6 204 h8.1 v1h-8.1zM339.1 205 h56.7 v1h-56.7zM298.6 206 h8.1 v1h-8.1zM331.0 206 h16.2 v1h-16.2zM387.6 206 h24.3 v1h-24.3zM339.1 207 h24.3 v1h-24.3zM387.6 207 h8.1 v1h-8.1zM331.0 208 h32.4 v1h-32.4zM387.6 208 h8.1 v1h-8.1zM347.1 209 h16.2 v1h-16.2zM331.0 210 h32.4 v1h-32.4zM387.6 210 h8.1 v1h-8.1zM331.0 211 h32.4 v1h-32.4zM387.6 211 h8.1 v1h-8.1zM355.2 212 h8.1 v1h-8.1zM387.6 212 h8.1 v1h-8.1zM379.5 213 h8.1 v1h-8.1zM339.1 214 h24.3 v1h-24.3zM387.6 214 h8.1 v1h-8.1zM331.0 215 h24.3 v1h-24.3zM387.6 215 h8.1 v1h-8.1zM379.5 216 h8.1 v1h-8.1zM339.1 217 h32.4 v1h-32.4zM379.5 217 h16.2 v1h-16.2zM298.6 218 h8.1 v1h-8.1zM331.0 218 h24.3 v1h-24.3zM371.4 218 h8.1 v1h-8.1zM387.6 218 h16.2 v1h-16.2zM331.0 219 h32.4 v1h-32.4zM379.5 219 h8.1 v1h-8.1zM331.0 220 h16.2 v1h-16.2zM371.4 220 h8.1 v1h-8.1zM387.6 220 h8.1 v1h-8.1zM322.9 221 h32.4 v1h-32.4zM371.4 221 h8.1 v1h-8.1zM387.6 221 h8.1 v1h-8.1zM331.0 222 h32.4 v1h-32.4zM371.4 222 h8.1 v1h-8.1zM387.6 222 h8.1 v1h-8.1zM331.0 223 h16.2 v1h-16.2zM371.4 223 h8.1 v1h-8.1zM387.6 223 h8.1 v1h-8.1zM403.8 223 h8.1 v1h-8.1zM331.0 224 h24.3 v1h-24.3zM371.4 224 h8.1 v1h-8.1zM387.6 224 h8.1 v1h-8.1zM403.8 224 h8.1 v1h-8.1zM339.1 231 h24.3 v1h-24.3zM387.6 231 h8.1 v1h-8.1zM355.2 232 h16.2 v1h-16.2zM379.5 232 h8.1 v1h-8.1zM339.1 233 h8.1 v1h-8.1zM355.2 233 h8.1 v1h-8.1zM371.4 233 h24.3 v1h-24.3zM347.1 234 h16.2 v1h-16.2zM379.5 234 h16.2 v1h-16.2zM371.4 235 h8.1 v1h-8.1zM387.6 235 h8.1 v1h-8.1zM379.5 236 h8.1 v1h-8.1zM339.1 237 h32.4 v1h-32.4zM379.5 237 h8.1 v1h-8.1zM355.2 238 h16.2 v1h-16.2zM379.5 238 h8.1 v1h-8.1zM298.6 239 h8.1 v1h-8.1zM331.0 239 h48.6 v1h-48.6zM387.6 239 h8.1 v1h-8.1zM298.6 240 h8.1 v1h-8.1zM331.0 240 h32.4 v1h-32.4zM387.6 240 h8.1 v1h-8.1zM322.9 241 h16.2 v1h-16.2zM347.1 241 h16.2 v1h-16.2zM387.6 241 h16.2 v1h-16.2zM298.6 242 h8.1 v1h-8.1zM331.0 242 h24.3 v1h-24.3zM371.4 242 h8.1 v1h-8.1zM387.6 242 h24.3 v1h-24.3zM331.0 243 h32.4 v1h-32.4zM387.6 243 h8.1 v1h-8.1zM331.0 244 h32.4 v1h-32.4zM387.6 244 h24.3 v1h-24.3zM331.0 245 h16.2 v1h-16.2zM371.4 245 h8.1 v1h-8.1zM387.6 245 h8.1 v1h-8.1zM331.0 246 h24.3 v1h-24.3zM371.4 246 h8.1 v1h-8.1zM387.6 246 h8.1 v1h-8.1zM331.0 247 h48.6 v1h-48.6zM387.6 247 h8.1 v1h-8.1zM347.1 248 h24.3 v1h-24.3zM387.6 248 h8.1 v1h-8.1zM347.1 249 h8.1 v1h-8.1zM371.4 249 h8.1 v1h-8.1zM387.6 249 h16.2 v1h-16.2zM339.1 250 h24.3 v1h-24.3zM387.6 250 h8.1 v1h-8.1zM339.1 251 h16.2 v1h-16.2zM371.4 251 h8.1 v1h-8.1zM387.6 251 h8.1 v1h-8.1zM355.2 252 h8.1 v1h-8.1zM387.6 252 h8.1 v1h-8.1zM331.0 253 h24.3 v1h-24.3zM371.4 253 h8.1 v1h-8.1zM387.6 253 h16.2 v1h-16.2zM355.2 254 h8.1 v1h-8.1zM379.5 254 h16.2 v1h-16.2zM322.9 255 h32.4 v1h-32.4zM371.4 255 h8.1 v1h-8.1zM387.6 255 h8.1 v1h-8.1zM347.1 256 h16.2 v1h-16.2zM347.1 257 h8.1 v1h-8.1zM379.5 257 h16.2 v1h-16.2zM339.1 258 h16.2 v1h-16.2zM379.5 258 h16.2 v1h-16.2zM331.0 259 h24.3 v1h-24.3zM371.4 259 h8.1 v1h-8.1zM403.8 259 h8.1 v1h-8.1zM274.3 284 h8.1 v1h-8.1z" shape-rendering="crispEdges"/>
<path fill="#151599" d="M379.5 200 h8.1 v1h-8.1zM355.2 201 h8.1 v1h-8.1zM379.5 201 h8.1 v1h-8.1zM363.3 202 h8.1 v1h-8.1zM379.5 202 h8.1 v1h-8.1zM363.3 203 h8.1 v1h-8.1zM379.5 203 h8.1 v1h-8.1zM379.5 204 h8.1 v1h-8.1zM355.2 206 h16.2 v1h-16.2zM379.5 206 h8.1 v1h-8.1zM363.3 207 h8.1 v1h-8.1zM379.5 208 h8.1 v1h-8.1zM363.3 210 h8.1 v1h-8.1zM379.5 210 h8.1 v1h-8.1zM363.3 211 h8.1 v1h-8.1zM363.3 212 h8.1 v1h-8.1zM355.2 215 h8.1 v1h-8.1zM379.5 215 h8.1 v1h-8.1zM355.2 218 h8.1 v1h-8.1zM363.3 219 h8.1 v1h-8.1zM355.2 220 h16.2 v1h-16.2zM379.5 220 h8.1 v1h-8.1zM355.2 221 h16.2 v1h-16.2zM379.5 221 h8.1 v1h-8.1zM363.3 222 h8.1 v1h-8.1zM379.5 222 h8.1 v1h-8.1zM355.2 223 h16.2 v1h-16.2zM379.5 223 h8.1 v1h-8.1zM355.2 224 h16.2 v1h-16.2zM379.5 224 h8.1 v1h-8.1zM298.6 230 h113.3 v1h-113.3zM363.3 231 h8.1 v1h-8.1zM379.5 231 h8.1 v1h-8.1zM363.3 233 h8.1 v1h-8.1zM363.3 234 h8.1 v1h-8.1zM355.2 235 h16.2 v1h-16.2zM379.5 235 h8.1 v1h-8.1zM379.5 239 h8.1 v1h-8.1zM363.3 240 h8.1 v1h-8.1zM379.5 240 h8.1 v1h-8.1zM363.3 241 h8.1 v1h-8.1zM379.5 241 h8.1 v1h-8.1zM355.2 242 h16.2 v1h-16.2zM379.5 242 h8.1 v1h-8.1zM363.3 243 h8.1 v1h-8.1zM379.5 243 h8.1 v1h-8.1zM363.3 244 h8.1 v1h-8.1zM379.5 244 h8.1 v1h-8.1zM355.2 245 h16.2 v1h-16.2zM379.5 245 h8.1 v1h-8.1zM355.2 246 h16.2 v1h-16.2zM379.5 246 h8.1 v1h-8.1zM379.5 247 h8.1 v1h-8.1zM379.5 248 h8.1 v1h-8.1zM355.2 249 h16.2 v1h-16.2zM379.5 249 h8.1 v1h-8.1zM363.3 250 h8.1 v1h-8.1zM379.5 250 h8.1 v1h-8.1zM355.2 251 h16.2 v1h-16.2zM379.5 251 h8.1 v1h-8.1zM363.3 252 h8.1 v1h-8.1zM379.5 252 h8.1 v1h-8.1zM355.2 253 h16.2 v1h-16.2zM379.5 253 h8.1 v1h-8.1zM363.3 254 h8.1 v1h-8.1zM355.2 255 h16.2 v1h-16.2zM379.5 255 h8.1 v1h-8.1zM363.3 256 h8.1 v1h-8.1zM379.5 256 h8.1 v1h-8.1zM363.3 257 h8.1 v1h-8.1zM355.2 258 h8.1 v1h-8.1zM355.2 259 h16.2 v1h-16.2zM379.5 259 h8.1 v1h-8.1z" shape-rendering="crispEdges"/>
<path fill="#d5d5e7" d="M274.3 201 h8.1 v1h-8.1zM274.3 208 h8.1 v1h-8.1zM282.4 222 h8.1 v1h-8.1zM274.3 231 h8.1 v1h-8.1zM274.3 232 h8.1 v1h-8.1zM282.4 240 h8.1 v1h-8.1zM314.8 274 h8.1 v1h-8.1zM387.6 276 h8.1 v1h-8.1zM387.6 293 h8.1 v1h-8.1zM298.6 319 h8.1 v1h-8.1zM387.6 339 h8.1 v1h-8.1z" shape-rendering="crispEdges"/>
<path fill="#ede1e1" d="M282.4 201 h8.1 v1h-8.1zM282.4 239 h8.1 v1h-8.1zM274.3 251 h8.1 v1h-8.1zM395.7 261 h8.1 v1h-8.1zM290.5 269 h8.1 v1h-8.1zM339.1 271 h8.1 v1h-8.1zM298.6 291 h8.1 v1h-8.1zM298.6 310 h8.1 v1h-8.1zM387.6 331 h8.1 v1h-8.1z" shape-rendering="crispEdges"/>
<path fill="#e1c3c3" d="M290.5 201 h8.1 v1h-8.1zM274.3 230 h8.1 v1h-8.1zM274.3 249 h8.1 v1h-8.1zM403.8 262 h8.1 v1h-8.1zM403.8 277 h8.1 v1h-8.1zM290.5 281 h8.1 v1h-8.1zM290.5 294 h8.1 v1h-8.1zM403.8 310 h8.1 v1h-8.1zM403.8 332 h8.1 v1h-8.1zM314.8 336 h8.1 v1h-8.1zM395.7 337 h8.1 v1h-8.1zM306.7 338 h8.1 v1h-8.1z" shape-rendering="crispEdges"/>
<path fill="#dbbdc3" d="M274.3 202 h8.1 v1h-8.1zM282.4 203 h8.1 v1h-8.1zM290.5 223 h8.1 v1h-8.1zM282.4 256 h8.1 v1h-8.1zM387.6 285 h8.1 v1h-8.1zM403.8 293 h8.1 v1h-8.1zM306.7 296 h8.1 v1h-8.1zM387.6 296 h8.1 v1h-8.1zM387.6 299 h8.1 v1h-8.1zM314.8 305 h8.1 v1h-8.1zM314.8 310 h8.1 v1h-8.1zM282.4 318 h8.1 v1h-8.1zM395.7 332 h8.1 v1h-8.1z" shape-rendering="crispEdges"/>
<path fill="#e7cfd5" d="M282.4 202 h8.1 v1h-8.1zM274.3 221 h8.1 v1h-8.1zM290.5 230 h8.1 v1h-8.1zM274.3 250 h8.1 v1h-8.1zM395.7 265 h8.1 v1h-8.1zM403.8 294 h8.1 v1h-8.1zM298.6 299 h8.1 v1h-8.1zM298.6 303 h8.1 v1h-8.1zM306.7 328 h8.1 v1h-8.1zM298.6 343 h8.1 v1h-8.1z" shape-rendering="crispEdges"/>
<path fill="#d5abb1" d="M290.5 202 h8.1 v1h-8.1zM274.3 212 h8.1 v1h-8.1zM274.3 214 h8.1 v1h-8.1zM282.4 236 h8.1 v1h-8.1zM290.5 241 h8.1 v1h-8.1zM290.5 248 h8.1 v1h-8.1zM290.5 256 h8.1 v1h-8.1zM274.3 257 h8.1 v1h-8.1zM403.8 273 h8.1 v1h-8.1zM298.6 279 h8.1 v1h-8.1zM314.8 293 h8.1 v1h-8.1zM306.7 301 h8.1 v1h-8.1zM322.9 305 h8.1 v1h-8.1zM387.6 311 h8.1 v1h-8.1zM306.7 321 h8.1 v1h-8.1zM298.6 323 h8.1 v1h-8.1zM306.7 324 h8.1 v1h-8.1zM322.9 333 h8.1 v1h-8.1zM395.7 336 h8.1 v1h-8.1zM306.7 343 h8.1 v1h-8.1z" shape-rendering="crispEdges"/>
<path fill="#ede7ed" d="M274.3 203 h8.1 v1h-8.1zM282.4 223 h8.1 v1h-8.1zM274.3 233 h8.1 v1h-8.1zM282.4 245 h8.1 v1h-8.1zM290.5 249 h8.1 v1h-8.1zM306.7 287 h8.1 v1h-8.1zM298.6 305 h8.1 v1h-8.1zM298.6 308 h8.1 v1h-8.1zM298.6 327 h8.1 v1h-8.1zM395.7 333 h8.1 v1h-8.1zM298.6 340 h8.1 v1h-8.1z" shape-rendering="crispEdges"/>
<path fill="#dbb7b7" d="M290.5 203 h8.1 v1h-8.1zM290.5 217 h8.1 v1h-8.1zM290.5 224 h8.1 v1h-8.1zM274.3 225 h8.1 v1h-8.1zM395.7 273 h8.1 v1h-8.1zM387.6 288 h8.1 v1h-8.1zM290.5 295 h8.1 v1h-8.1zM298.6 296 h8.1 v1h-8.1zM306.7 311 h8.1 v1h-8.1zM306.7 318 h8.1 v1h-8.1zM306.7 327 h8.1 v1h-8.1zM322.9 332 h8.1 v1h-8.1zM314.8 337 h8.1 v1h-8.1z" shape-rendering="crispEdges"/>
<path fill="#4545ab" d="M306.7 203 h8.1 v1h-8.1zM274.3 260 h8.1 v1h-8.1zM306.7 284 h8.1 v1h-8.1zM387.6 319 h8.1 v1h-8.1z" shape-rendering="crispEdges"/>
<path fill="#2d2d9f" d="M355.2 203 h8.1 v1h-8.1zM371.4 206 h8.1 v1h-8.1zM363.3 209 h8.1 v1h-8.1zM322.9 211 h8.1 v1h-8.1zM298.6 216 h8.1 v1h-8.1zM363.3 218 h8.1 v1h-8.1zM395.7 219 h8.1 v1h-8.1zM339.1 241 h8.1 v1h-8.1zM306.7 256 h8.1 v1h-8.1zM274.3 261 h8.1 v1h-8.1zM274.3 262 h8.1 v1h-8.1zM290.5 284 h8.1 v1h-8.1z" shape-rendering="crispEdges"/>
<path fill="#e7e1ed" d="M274.3 204 h8.1 v1h-8.1zM282.4 221 h8.1 v1h-8.1zM282.4 235 h8.1 v1h-8.1zM282.4 282 h16.2 v1h-16.2zM282.4 293 h8.1 v1h-8.1zM298.6 293 h8.1 v1h-8.1zM282.4 294 h8.1 v1h-8.1z" shape-rendering="crispEdges"/>
<path fill="#cfc9e1" d="M282.4 204 h8.1 v1h-8.1zM290.5 208 h8.1 v1h-8.1zM403.8 272 h8.1 v1h-8.1zM314.8 275 h8.1 v1h-8.1zM387.6 280 h8.1 v1h-8.1zM298.6 286 h8.1 v1h-8.1zM282.4 287 h8.1 v1h-8.1zM395.7 305 h8.1 v1h-8.1z" shape-rendering="crispEdges"/>
<path fill="#dbd5e7" d="M290.5 204 h8.1 v1h-8.1zM282.4 205 h8.1 v1h-8.1zM274.3 210 h16.2 v1h-16.2zM282.4 220 h16.2 v1h-16.2zM314.8 271 h8.1 v1h-8.1zM331.0 273 h8.1 v1h-8.1zM306.7 275 h8.1 v1h-8.1zM298.6 314 h8.1 v1h-8.1zM387.6 343 h8.1 v1h-8.1z" shape-rendering="crispEdges"/>
<path fill="#e1c9cf" d="M274.3 205 h8.1 v1h-8.1zM274.3 229 h8.1 v1h-8.1zM290.5 239 h8.1 v1h-8.1zM403.8 264 h8.1 v1h-8.1zM403.8 281 h8.1 v1h-8.1zM290.5 304 h8.1 v1h-8.1zM306.7 319 h8.1 v1h-8.1zM387.6 328 h8.1 v1h-8.1zM322.9 334 h8.1 v1h-8.1zM306.7 337 h8.1 v1h-8.1z" shape-rendering="crispEdges"/>
<path fill="#ede7e7" d="M290.5 205 h8.1 v1h-8.1zM290.5 211 h8.1 v1h-8.1zM395.7 260 h8.1 v1h-8.1zM298.6 261 h8.1 v1h-8.1zM274.3 269 h8.1 v1h-8.1zM331.0 275 h8.1 v1h-8.1z" shape-rendering="crispEdges"/>
<path fill="#e1dbed" d="M274.3 206 h8.1 v1h-8.1zM282.4 224 h8.1 v1h-8.1zM290.5 234 h8.1 v1h-8.1zM395.7 263 h8.1 v1h-8.1zM322.9 274 h8.1 v1h-8.1zM322.9 275 h8.1 v1h-8.1zM298.6 300 h8.1 v1h-8.1zM306.7 313 h8.1 v1h-8.1zM403.8 333 h8.1 v1h-8.1zM298.6 336 h8.1 v1h-8.1zM387.6 342 h8.1 v1h-8.1z" shape-rendering="crispEdges"/>
<path fill="#e7dbdb" d="M282.4 206 h8.1 v1h-8.1zM282.4 213 h8.1 v1h-8.1zM282.4 226 h8.1 v1h-8.1zM282.4 238 h8.1 v1h-8.1zM282.4 249 h8.1 v1h-8.1zM298.6 298 h8.1 v1h-8.1zM298.6 321 h8.1 v1h-8.1z" shape-rendering="crispEdges"/>
<path fill="#ededed" d="M290.5 206 h8.1 v1h-8.1zM403.8 267 h8.1 v1h-8.1zM403.8 312 h8.1 v1h-8.1zM298.6 337 h8.1 v1h-8.1z" shape-rendering="crispEdges"/>
<path fill="#1b1599" d="M347.1 206 h8.1 v1h-8.1zM363.3 258 h8.1 v1h-8.1z" shape-rendering="crispEdges"/>
<path fill="#cfa5ab" d="M274.3 207 h8.1 v1h-8.1zM282.4 212 h8.1 v1h-8.1zM403.8 276 h8.1 v1h-8.1zM395.7 278 h8.1 v1h-8.1zM306.7 291 h8.1 v1h-8.1zM298.6 297 h8.1 v1h-8.1zM306.7 298 h8.1 v1h-8.1zM298.6 301 h8.1 v1h-8.1zM306.7 307 h8.1 v1h-8.1zM322.9 314 h8.1 v1h-8.1zM403.8 318 h8.1 v1h-8.1zM403.8 319 h8.1 v1h-8.1z" shape-rendering="crispEdges"/>
<path fill="#ede1e7" d="M282.4 207 h8.1 v1h-8.1zM314.8 270 h8.1 v1h-8.1zM298.6 282 h8.1 v1h-8.1zM274.3 287 h8.1 v1h-8.1zM298.6 311 h8.1 v1h-8.1z" shape-rendering="crispEdges"/>
<path fill="#dbbdbd" d="M290.5 207 h8.1 v1h-8.1zM290.5 229 h8.1 v1h-8.1zM282.4 241 h8.1 v1h-8.1zM282.4 248 h8.1 v1h-8.1zM290.5 250 h8.1 v1h-8.1zM298.6 267 h8.1 v1h-8.1zM339.1 284 h8.1 v1h-8.1zM387.6 291 h8.1 v1h-8.1zM298.6 292 h8.1 v1h-8.1zM306.7 309 h8.1 v1h-8.1zM331.0 341 h8.1 v1h-8.1zM290.5 344 h8.1 v1h-8.1z" shape-rendering="crispEdges"/>
<path fill="#27219f" d="M403.8 207 h8.1 v1h-8.1zM395.7 209 h8.1 v1h-8.1zM379.5 211 h8.1 v1h-8.1zM314.8 223 h8.1 v1h-8.1zM395.7 247 h8.1 v1h-8.1zM314.8 250 h8.1 v1h-8.1zM371.4 254 h8.1 v1h-8.1zM290.5 283 h8.1 v1h-8.1z" shape-rendering="crispEdges"/>
<path fill="#5757b1" d="M282.4 208 h8.1 v1h-8.1zM282.4 209 h8.1 v1h-8.1zM298.6 225 h8.1 v1h-8.1zM331.0 225 h16.2 v1h-16.2zM306.7 229 h8.1 v1h-8.1zM322.9 229 h8.1 v1h-8.1zM282.4 264 h8.1 v1h-8.1zM387.6 323 h8.1 v1h-8.1z" shape-rendering="crispEdges"/>
<path fill="#4b4bab" d="M363.3 208 h8.1 v1h-8.1zM371.4 229 h8.1 v1h-8.1z" shape-rendering="crispEdges"/>
<path fill="#211b99" d="M371.4 208 h8.1 v1h-8.1zM322.9 243 h8.1 v1h-8.1zM403.8 255 h8.1 v1h-8.1zM395.7 259 h8.1 v1h-8.1z" shape-rendering="crispEdges"/>
<path fill="#f3e7ed" d="M274.3 209 h8.1 v1h-8.1zM274.3 220 h8.1 v1h-8.1zM387.6 297 h8.1 v1h-8.1zM314.8 313 h8.1 v1h-8.1zM331.0 313 h8.1 v1h-8.1zM274.3 314 h8.1 v1h-8.1zM314.8 334 h8.1 v1h-8.1z" shape-rendering="crispEdges"/>
<path fill="#c3c3e1" d="M290.5 209 h8.1 v1h-8.1z" shape-rendering="crispEdges"/>
<path fill="#f3edf3" d="M290.5 210 h8.1 v1h-8.1zM290.5 219 h8.1 v1h-8.1zM274.3 222 h8.1 v1h-8.1zM274.3 223 h8.1 v1h-8.1zM282.4 231 h8.1 v1h-8.1zM274.3 235 h8.1 v1h-8.1zM274.3 246 h8.1 v1h-8.1zM282.4 257 h8.1 v1h-8.1zM274.3 267 h8.1 v1h-8.1zM322.9 272 h8.1 v1h-8.1zM403.8 279 h8.1 v1h-8.1zM290.5 287 h8.1 v1h-8.1zM314.8 294 h8.1 v1h-8.1zM298.6 295 h8.1 v1h-8.1zM306.7 304 h8.1 v1h-8.1zM298.6 312 h8.1 v1h-8.1zM298.6 326 h8.1 v1h-8.1zM387.6 330 h8.1 v1h-8.1zM306.7 332 h8.1 v1h-8.1zM298.6 338 h8.1 v1h-8.1zM314.8 341 h8.1 v1h-8.1z" shape-rendering="crispEdges"/>
<path fill="#3f3fab" d="M371.4 210 h8.1 v1h-8.1zM379.5 218 h8.1 v1h-8.1zM314.8 225 h8.1 v1h-8.1zM355.2 225 h8.1 v1h-8.1zM387.6 225 h8.1 v1h-8.1zM355.2 229 h8.1 v1h-8.1zM403.8 229 h8.1 v1h-8.1zM314.8 239 h8.1 v1h-8.1zM395.7 251 h8.1 v1h-8.1zM314.8 253 h8.1 v1h-8.1zM274.3 265 h16.2 v1h-16.2zM387.6 313 h8.1 v1h-8.1zM387.6 324 h8.1 v1h-8.1z" shape-rendering="crispEdges"/>
<path fill="#bdbddb" d="M274.3 211 h8.1 v1h-8.1zM395.7 266 h8.1 v1h-8.1zM274.3 293 h8.1 v1h-8.1zM387.6 303 h8.1 v1h-8.1zM387.6 327 h8.1 v1h-8.1zM298.6 332 h8.1 v1h-8.1z" shape-rendering="crispEdges"/>
<path fill="#cf9fa5" d="M282.4 211 h8.1 v1h-8.1zM290.5 225 h8.1 v1h-8.1zM290.5 246 h8.1 v1h-8.1zM282.4 268 h8.1 v1h-8.1zM298.6 268 h8.1 v1h-8.1zM331.0 294 h8.1 v1h-8.1zM322.9 318 h8.1 v1h-8.1zM298.6 325 h8.1 v1h-8.1zM322.9 337 h8.1 v1h-8.1zM322.9 339 h8.1 v1h-8.1zM395.7 340 h8.1 v1h-8.1z" shape-rendering="crispEdges"/>
<path fill="#211b9f" d="M395.7 211 h8.1 v1h-8.1zM347.1 220 h8.1 v1h-8.1zM298.6 244 h8.1 v1h-8.1zM347.1 245 h8.1 v1h-8.1zM347.1 252 h8.1 v1h-8.1z" shape-rendering="crispEdges"/>
<path fill="#3939a5" d="M403.8 211 h8.1 v1h-8.1zM395.7 221 h8.1 v1h-8.1zM379.5 225 h8.1 v1h-8.1zM331.0 229 h8.1 v1h-8.1zM387.6 229 h8.1 v1h-8.1zM347.1 233 h8.1 v1h-8.1zM306.7 247 h8.1 v1h-8.1zM274.3 259 h24.3 v1h-24.3zM282.4 260 h8.1 v1h-8.1zM282.4 261 h8.1 v1h-8.1zM306.7 283 h16.2 v1h-16.2zM282.4 284 h8.1 v1h-8.1zM314.8 284 h8.1 v1h-8.1zM387.6 321 h8.1 v1h-8.1z" shape-rendering="crispEdges"/>
<path fill="#d5b1b1" d="M290.5 212 h8.1 v1h-8.1zM274.3 217 h8.1 v1h-8.1zM290.5 237 h8.1 v1h-8.1zM282.4 250 h8.1 v1h-8.1zM274.3 254 h8.1 v1h-8.1zM274.3 256 h8.1 v1h-8.1zM298.6 264 h8.1 v1h-8.1zM290.5 268 h8.1 v1h-8.1zM314.8 306 h8.1 v1h-8.1zM322.9 307 h8.1 v1h-8.1zM306.7 308 h8.1 v1h-8.1zM298.6 316 h8.1 v1h-8.1zM298.6 320 h8.1 v1h-8.1zM274.3 329 h8.1 v1h-8.1zM306.7 330 h8.1 v1h-8.1zM395.7 335 h8.1 v1h-8.1zM306.7 341 h8.1 v1h-8.1z" shape-rendering="crispEdges"/>
<path fill="#cf9f9f" d="M274.3 213 h8.1 v1h-8.1zM395.7 264 h8.1 v1h-8.1zM347.1 283 h8.1 v1h-8.1zM403.8 295 h8.1 v1h-8.1zM314.8 309 h8.1 v1h-8.1zM403.8 309 h8.1 v1h-8.1zM274.3 316 h8.1 v1h-8.1zM306.7 316 h8.1 v1h-8.1zM306.7 320 h8.1 v1h-8.1zM403.8 327 h8.1 v1h-8.1zM322.9 328 h8.1 v1h-8.1zM395.7 339 h8.1 v1h-8.1z" shape-rendering="crispEdges"/>
<path fill="#c38d93" d="M290.5 213 h8.1 v1h-8.1zM290.5 257 h8.1 v1h-8.1zM290.5 278 h8.1 v1h-8.1zM282.4 281 h8.1 v1h-8.1zM322.9 282 h8.1 v1h-8.1zM403.8 286 h8.1 v1h-8.1zM322.9 298 h8.1 v1h-8.1zM403.8 311 h8.1 v1h-8.1zM322.9 312 h8.1 v1h-8.1zM395.7 312 h8.1 v1h-8.1zM314.8 316 h8.1 v1h-8.1zM331.0 319 h8.1 v1h-8.1zM322.9 326 h8.1 v1h-8.1zM403.8 340 h8.1 v1h-8.1z" shape-rendering="crispEdges"/>
<path fill="#d5cfe7" d="M282.4 214 h8.1 v1h-8.1zM282.4 215 h8.1 v1h-8.1zM282.4 216 h8.1 v1h-8.1zM282.4 217 h8.1 v1h-8.1zM282.4 218 h8.1 v1h-8.1zM274.3 271 h8.1 v1h-8.1zM282.4 278 h8.1 v1h-8.1zM298.6 294 h8.1 v1h-8.1zM387.6 295 h8.1 v1h-8.1zM387.6 298 h8.1 v1h-8.1z" shape-rendering="crispEdges"/>
<path fill="#e7d5d5" d="M290.5 214 h8.1 v1h-8.1zM290.5 258 h8.1 v1h-8.1zM298.6 269 h8.1 v1h-8.1zM403.8 278 h8.1 v1h-8.1zM387.6 301 h8.1 v1h-8.1zM298.6 317 h8.1 v1h-8.1zM298.6 322 h8.1 v1h-8.1zM403.8 336 h8.1 v1h-8.1zM322.9 344 h8.1 v1h-8.1z" shape-rendering="crispEdges"/>
<path fill="#6969bd" d="M274.3 215 h8.1 v1h-8.1zM274.3 218 h8.1 v1h-8.1zM274.3 219 h8.1 v1h-8.1zM347.1 225 h8.1 v1h-8.1zM347.1 226 h8.1 v1h-8.1zM306.7 267 h8.1 v1h-8.1zM387.6 269 h8.1 v1h-8.1zM387.6 294 h8.1 v1h-8.1z" shape-rendering="crispEdges"/>
<path fill="#d5b1b7" d="M290.5 215 h8.1 v1h-8.1zM290.5 226 h8.1 v1h-8.1zM290.5 238 h8.1 v1h-8.1zM290.5 293 h8.1 v1h-8.1zM306.7 293 h8.1 v1h-8.1zM274.3 295 h8.1 v1h-8.1zM403.8 305 h8.1 v1h-8.1zM306.7 312 h8.1 v1h-8.1zM322.9 313 h8.1 v1h-8.1zM306.7 315 h8.1 v1h-8.1zM387.6 315 h8.1 v1h-8.1zM395.7 318 h8.1 v1h-8.1zM306.7 326 h8.1 v1h-8.1zM331.0 333 h8.1 v1h-8.1zM282.4 335 h8.1 v1h-8.1zM306.7 336 h8.1 v1h-8.1zM403.8 337 h8.1 v1h-8.1zM306.7 342 h8.1 v1h-8.1z" shape-rendering="crispEdges"/>
<path fill="#c38d8d" d="M274.3 216 h8.1 v1h-8.1zM331.0 269 h8.1 v1h-8.1zM274.3 273 h8.1 v1h-8.1zM395.7 275 h8.1 v1h-8.1zM314.8 315 h8.1 v1h-8.1zM314.8 325 h8.1 v1h-8.1zM306.7 329 h8.1 v1h-8.1zM331.0 335 h8.1 v1h-8.1z" shape-rendering="crispEdges"/>
<path fill="#c38187" d="M290.5 216 h8.1 v1h-8.1zM290.5 306 h8.1 v1h-8.1zM322.9 311 h8.1 v1h-8.1zM314.8 322 h8.1 v1h-8.1zM403.8 323 h8.1 v1h-8.1zM331.0 342 h8.1 v1h-8.1z" shape-rendering="crispEdges"/>
<path fill="#eddbe1" d="M290.5 218 h8.1 v1h-8.1zM282.4 242 h8.1 v1h-8.1zM274.3 243 h8.1 v1h-8.1zM274.3 248 h8.1 v1h-8.1zM274.3 253 h8.1 v1h-8.1zM403.8 263 h8.1 v1h-8.1zM282.4 267 h8.1 v1h-8.1zM387.6 277 h8.1 v1h-8.1zM403.8 287 h8.1 v1h-8.1zM306.7 333 h8.1 v1h-8.1zM306.7 334 h8.1 v1h-8.1zM314.8 335 h8.1 v1h-8.1z" shape-rendering="crispEdges"/>
<path fill="#c9c9e1" d="M282.4 219 h8.1 v1h-8.1zM282.4 230 h8.1 v1h-8.1zM403.8 265 h8.1 v1h-8.1zM395.7 268 h8.1 v1h-8.1zM387.6 273 h8.1 v1h-8.1zM387.6 307 h8.1 v1h-8.1zM298.6 342 h8.1 v1h-8.1z" shape-rendering="crispEdges"/>
<path fill="#e1cfcf" d="M290.5 221 h8.1 v1h-8.1zM290.5 240 h8.1 v1h-8.1zM290.5 242 h8.1 v1h-8.1zM274.3 252 h8.1 v1h-8.1zM298.6 263 h8.1 v1h-8.1zM306.7 272 h8.1 v1h-8.1zM306.7 300 h8.1 v1h-8.1zM387.6 326 h8.1 v1h-8.1z" shape-rendering="crispEdges"/>
<path fill="#ededf3" d="M290.5 222 h8.1 v1h-8.1zM274.3 239 h8.1 v1h-8.1zM274.3 255 h8.1 v1h-8.1zM387.6 286 h8.1 v1h-8.1zM298.6 287 h8.1 v1h-8.1zM387.6 312 h8.1 v1h-8.1zM298.6 315 h8.1 v1h-8.1z" shape-rendering="crispEdges"/>
<path fill="#cfcfe7" d="M274.3 224 h8.1 v1h-8.1zM403.8 261 h8.1 v1h-8.1zM403.8 266 h8.1 v1h-8.1zM298.6 304 h8.1 v1h-8.1z" shape-rendering="crispEdges"/>
<path fill="#e1e1ed" d="M282.4 225 h8.1 v1h-8.1zM290.5 232 h8.1 v1h-8.1zM274.3 240 h8.1 v1h-8.1zM274.3 247 h8.1 v1h-8.1zM395.7 267 h8.1 v1h-8.1zM274.3 270 h8.1 v1h-8.1zM322.9 270 h8.1 v1h-8.1zM290.5 272 h8.1 v1h-8.1zM298.6 318 h8.1 v1h-8.1zM298.6 333 h8.1 v1h-8.1z" shape-rendering="crispEdges"/>
<path fill="#514bb1" d="M306.7 225 h8.1 v1h-8.1zM403.8 225 h8.1 v1h-8.1z" shape-rendering="crispEdges"/>
<path fill="#4b4bb1" d="M322.9 225 h8.1 v1h-8.1zM282.4 251 h8.1 v1h-8.1zM282.4 254 h8.1 v1h-8.1zM274.3 264 h8.1 v1h-8.1zM387.6 271 h8.1 v1h-8.1zM322.9 283 h8.1 v1h-8.1zM322.9 284 h8.1 v1h-8.1zM387.6 318 h8.1 v1h-8.1z" shape-rendering="crispEdges"/>
<path fill="#5757b7" d="M363.3 225 h8.1 v1h-8.1z" shape-rendering="crispEdges"/>
<path fill="#4b45ab" d="M395.7 225 h8.1 v1h-8.1z" shape-rendering="crispEdges"/>
<path fill="#c9999f" d="M274.3 226 h8.1 v1h-8.1zM274.3 266 h8.1 v1h-8.1zM298.6 266 h8.1 v1h-8.1zM298.6 275 h8.1 v1h-8.1zM306.7 286 h8.1 v1h-8.1zM314.8 303 h8.1 v1h-8.1zM403.8 303 h8.1 v1h-8.1zM314.8 312 h8.1 v1h-8.1zM314.8 314 h8.1 v1h-8.1zM306.7 331 h8.1 v1h-8.1zM282.4 332 h8.1 v1h-8.1z" shape-rendering="crispEdges"/>
<path fill="#9393cf" d="M298.6 226 h8.1 v1h-8.1zM395.7 226 h8.1 v1h-8.1zM339.1 228 h8.1 v1h-8.1z" shape-rendering="crispEdges"/>
<path fill="#9393c9" d="M306.7 226 h8.1 v1h-8.1zM322.9 226 h8.1 v1h-8.1zM387.6 226 h8.1 v1h-8.1zM322.9 227 h8.1 v1h-8.1zM331.0 228 h8.1 v1h-8.1zM387.6 261 h8.1 v1h-8.1zM290.5 262 h8.1 v1h-8.1zM298.6 270 h8.1 v1h-8.1zM290.5 271 h16.2 v1h-16.2zM403.8 271 h8.1 v1h-8.1zM298.6 272 h8.1 v1h-8.1zM298.6 273 h8.1 v1h-8.1zM387.6 337 h8.1 v1h-8.1z" shape-rendering="crispEdges"/>
<path fill="#ababd5" d="M314.8 226 h8.1 v1h-8.1zM282.4 232 h8.1 v1h-8.1zM282.4 270 h8.1 v1h-8.1zM387.6 278 h8.1 v1h-8.1zM371.4 283 h8.1 v1h-8.1zM387.6 300 h8.1 v1h-8.1z" shape-rendering="crispEdges"/>
<path fill="#8787c9" d="M331.0 226 h16.2 v1h-16.2zM322.9 228 h8.1 v1h-8.1z" shape-rendering="crispEdges"/>
<path fill="#9f99cf" d="M355.2 226 h8.1 v1h-8.1zM403.8 226 h8.1 v1h-8.1zM282.4 243 h8.1 v1h-8.1zM282.4 244 h8.1 v1h-8.1zM306.7 265 h8.1 v1h-8.1zM387.6 266 h8.1 v1h-8.1zM403.8 269 h8.1 v1h-8.1zM322.9 271 h8.1 v1h-8.1zM387.6 279 h8.1 v1h-8.1zM403.8 283 h8.1 v1h-8.1zM387.6 304 h8.1 v1h-8.1z" shape-rendering="crispEdges"/>
<path fill="#8d87c9" d="M363.3 226 h8.1 v1h-8.1zM298.6 227 h8.1 v1h-8.1zM290.5 261 h8.1 v1h-8.1zM290.5 263 h8.1 v1h-8.1z" shape-rendering="crispEdges"/>
<path fill="#9f9fcf" d="M371.4 226 h8.1 v1h-8.1zM306.7 227 h8.1 v1h-8.1zM379.5 228 h8.1 v1h-8.1zM290.5 264 h8.1 v1h-8.1zM306.7 264 h8.1 v1h-8.1zM306.7 270 h8.1 v1h-8.1zM387.6 274 h8.1 v1h-8.1zM403.8 313 h8.1 v1h-8.1zM387.6 333 h8.1 v1h-8.1zM387.6 338 h8.1 v1h-8.1z" shape-rendering="crispEdges"/>
<path fill="#8781c3" d="M379.5 226 h8.1 v1h-8.1zM395.7 227 h8.1 v1h-8.1z" shape-rendering="crispEdges"/>
<path fill="#b7696f" d="M274.3 227 h8.1 v1h-8.1zM331.0 261 h8.1 v1h-8.1zM298.6 262 h8.1 v1h-8.1zM331.0 268 h8.1 v1h-8.1zM331.0 282 h8.1 v1h-8.1zM322.9 286 h8.1 v1h-8.1zM331.0 303 h8.1 v1h-8.1zM290.5 313 h8.1 v1h-8.1zM314.8 331 h8.1 v1h-8.1zM395.7 331 h8.1 v1h-8.1z" shape-rendering="crispEdges"/>
<path fill="#bd7b7b" d="M282.4 227 h8.1 v1h-8.1zM274.3 272 h8.1 v1h-8.1zM306.7 277 h8.1 v1h-8.1zM306.7 288 h8.1 v1h-8.1zM403.8 290 h8.1 v1h-8.1zM274.3 294 h8.1 v1h-8.1zM331.0 301 h8.1 v1h-8.1zM306.7 302 h8.1 v1h-8.1zM331.0 310 h8.1 v1h-8.1zM395.7 321 h8.1 v1h-8.1z" shape-rendering="crispEdges"/>
<path fill="#b1696f" d="M290.5 227 h8.1 v1h-8.1zM282.4 228 h16.2 v1h-16.2zM322.9 260 h8.1 v1h-8.1zM314.8 266 h8.1 v1h-8.1zM290.5 273 h8.1 v1h-8.1zM274.3 276 h8.1 v1h-8.1zM274.3 278 h8.1 v1h-8.1zM314.8 279 h8.1 v1h-8.1zM314.8 288 h8.1 v1h-8.1zM395.7 298 h8.1 v1h-8.1zM395.7 300 h8.1 v1h-8.1zM331.0 318 h8.1 v1h-8.1zM322.9 323 h8.1 v1h-8.1z" shape-rendering="crispEdges"/>
<path fill="#9999cf" d="M314.8 227 h8.1 v1h-8.1zM331.0 227 h16.2 v1h-16.2zM403.8 227 h8.1 v1h-8.1zM298.6 228 h8.1 v1h-8.1zM371.4 228 h8.1 v1h-8.1zM403.8 228 h8.1 v1h-8.1zM290.5 265 h8.1 v1h-8.1z" shape-rendering="crispEdges"/>
<path fill="#a5a5d5" d="M347.1 227 h8.1 v1h-8.1zM363.3 227 h8.1 v1h-8.1zM306.7 228 h8.1 v1h-8.1zM282.4 233 h8.1 v1h-8.1zM282.4 234 h8.1 v1h-8.1zM290.5 260 h8.1 v1h-8.1zM306.7 269 h8.1 v1h-8.1zM379.5 283 h8.1 v1h-8.1z" shape-rendering="crispEdges"/>
<path fill="#b7b7db" d="M355.2 227 h8.1 v1h-8.1zM306.7 266 h8.1 v1h-8.1zM403.8 282 h8.1 v1h-8.1z" shape-rendering="crispEdges"/>
<path fill="#a59fcf" d="M371.4 227 h8.1 v1h-8.1z" shape-rendering="crispEdges"/>
<path fill="#8d8dc9" d="M379.5 227 h8.1 v1h-8.1zM363.3 228 h8.1 v1h-8.1zM395.7 228 h8.1 v1h-8.1zM387.6 264 h8.1 v1h-8.1zM387.6 265 h8.1 v1h-8.1zM379.5 284 h8.1 v1h-8.1z" shape-rendering="crispEdges"/>
<path fill="#9993cf" d="M387.6 227 h8.1 v1h-8.1zM403.8 284 h8.1 v1h-8.1z" shape-rendering="crispEdges"/>
<path fill="#b76f75" d="M274.3 228 h8.1 v1h-8.1zM322.9 263 h8.1 v1h-8.1zM282.4 272 h8.1 v1h-8.1zM395.7 279 h8.1 v1h-8.1zM314.8 281 h8.1 v1h-8.1zM290.5 285 h8.1 v1h-8.1zM306.7 289 h8.1 v1h-8.1zM306.7 290 h8.1 v1h-8.1zM290.5 291 h8.1 v1h-8.1zM282.4 296 h8.1 v1h-8.1zM395.7 297 h8.1 v1h-8.1zM322.9 302 h8.1 v1h-8.1zM403.8 302 h8.1 v1h-8.1zM331.0 307 h8.1 v1h-8.1zM322.9 308 h8.1 v1h-8.1zM331.0 314 h8.1 v1h-8.1zM314.8 320 h8.1 v1h-8.1zM314.8 321 h8.1 v1h-8.1zM314.8 323 h8.1 v1h-8.1z" shape-rendering="crispEdges"/>
<path fill="#b1abd5" d="M314.8 228 h8.1 v1h-8.1zM395.7 272 h8.1 v1h-8.1zM331.0 274 h8.1 v1h-8.1zM387.6 314 h8.1 v1h-8.1zM387.6 344 h8.1 v1h-8.1z" shape-rendering="crispEdges"/>
<path fill="#938dc9" d="M347.1 228 h8.1 v1h-8.1zM387.6 228 h8.1 v1h-8.1z" shape-rendering="crispEdges"/>
<path fill="#aba5d5" d="M355.2 228 h8.1 v1h-8.1zM331.0 271 h8.1 v1h-8.1z" shape-rendering="crispEdges"/>
<path fill="#635db7" d="M298.6 229 h8.1 v1h-8.1z" shape-rendering="crispEdges"/>
<path fill="#5751b1" d="M314.8 229 h8.1 v1h-8.1zM339.1 229 h8.1 v1h-8.1z" shape-rendering="crispEdges"/>
<path fill="#453fab" d="M347.1 229 h8.1 v1h-8.1zM322.9 254 h8.1 v1h-8.1z" shape-rendering="crispEdges"/>
<path fill="#5d57b7" d="M363.3 229 h8.1 v1h-8.1zM379.5 229 h8.1 v1h-8.1zM387.6 267 h8.1 v1h-8.1z" shape-rendering="crispEdges"/>
<path fill="#f3eded" d="M290.5 231 h8.1 v1h-8.1zM274.3 241 h8.1 v1h-8.1zM282.4 258 h8.1 v1h-8.1zM306.7 314 h8.1 v1h-8.1zM298.6 335 h16.2 v1h-16.2z" shape-rendering="crispEdges"/>
<path fill="#c9c3e1" d="M290.5 233 h8.1 v1h-8.1zM290.5 251 h8.1 v1h-8.1zM290.5 252 h8.1 v1h-8.1zM290.5 253 h8.1 v1h-8.1zM290.5 254 h8.1 v1h-8.1zM290.5 255 h8.1 v1h-8.1zM274.3 268 h8.1 v1h-8.1zM395.7 269 h8.1 v1h-8.1zM331.0 270 h8.1 v1h-8.1zM395.7 304 h8.1 v1h-8.1zM298.6 306 h8.1 v1h-8.1zM403.8 334 h8.1 v1h-8.1z" shape-rendering="crispEdges"/>
<path fill="#dbdbe7" d="M274.3 234 h8.1 v1h-8.1zM274.3 245 h8.1 v1h-8.1zM290.5 245 h8.1 v1h-8.1zM331.0 272 h8.1 v1h-8.1zM282.4 292 h8.1 v1h-8.1zM298.6 313 h8.1 v1h-8.1zM387.6 336 h8.1 v1h-8.1zM298.6 339 h8.1 v1h-8.1z" shape-rendering="crispEdges"/>
<path fill="#2d279f" d="M306.7 234 h8.1 v1h-8.1zM403.8 236 h8.1 v1h-8.1z" shape-rendering="crispEdges"/>
<path fill="#e7d5db" d="M290.5 235 h8.1 v1h-8.1zM298.6 265 h8.1 v1h-8.1zM395.7 306 h8.1 v1h-8.1zM314.8 332 h8.1 v1h-8.1z" shape-rendering="crispEdges"/>
<path fill="#c98d93" d="M274.3 236 h8.1 v1h-8.1zM314.8 287 h8.1 v1h-8.1zM290.5 298 h8.1 v1h-8.1zM395.7 344 h8.1 v1h-8.1z" shape-rendering="crispEdges"/>
<path fill="#c99393" d="M290.5 236 h8.1 v1h-8.1zM282.4 277 h8.1 v1h-8.1zM395.7 281 h8.1 v1h-8.1zM298.6 288 h8.1 v1h-8.1zM403.8 314 h8.1 v1h-8.1zM306.7 322 h8.1 v1h-8.1zM314.8 326 h8.1 v1h-8.1zM314.8 338 h16.2 v1h-16.2zM322.9 342 h8.1 v1h-8.1zM314.8 343 h8.1 v1h-8.1z" shape-rendering="crispEdges"/>
<path fill="#cfa5a5" d="M274.3 237 h8.1 v1h-8.1zM339.1 272 h8.1 v1h-8.1zM331.0 293 h8.1 v1h-8.1zM314.8 301 h8.1 v1h-8.1zM282.4 304 h8.1 v1h-8.1zM322.9 304 h8.1 v1h-8.1zM282.4 308 h8.1 v1h-8.1zM395.7 317 h8.1 v1h-8.1zM314.8 318 h8.1 v1h-8.1zM298.6 329 h8.1 v1h-8.1zM306.7 339 h16.2 v1h-16.2zM314.8 342 h8.1 v1h-8.1z" shape-rendering="crispEdges"/>
<path fill="#e7cfcf" d="M282.4 237 h8.1 v1h-8.1zM274.3 242 h8.1 v1h-8.1zM355.2 283 h8.1 v1h-8.1z" shape-rendering="crispEdges"/>
<path fill="#d5abab" d="M274.3 238 h8.1 v1h-8.1zM290.5 266 h8.1 v1h-8.1zM298.6 285 h8.1 v1h-8.1zM314.8 300 h8.1 v1h-8.1zM331.0 336 h8.1 v1h-8.1zM314.8 340 h8.1 v1h-8.1zM306.7 344 h8.1 v1h-8.1z" shape-rendering="crispEdges"/>
<path fill="#dbc3c3" d="M290.5 243 h8.1 v1h-8.1zM298.6 278 h8.1 v1h-8.1zM355.2 284 h8.1 v1h-8.1zM403.8 306 h8.1 v1h-8.1zM306.7 310 h8.1 v1h-8.1zM298.6 330 h8.1 v1h-8.1zM395.7 334 h8.1 v1h-8.1z" shape-rendering="crispEdges"/>
<path fill="#e7e7ed" d="M274.3 244 h8.1 v1h-8.1zM290.5 247 h8.1 v1h-8.1zM314.8 272 h8.1 v1h-8.1zM298.6 307 h8.1 v1h-8.1zM298.6 328 h8.1 v1h-8.1z" shape-rendering="crispEdges"/>
<path fill="#e1c3c9" d="M290.5 244 h8.1 v1h-8.1zM347.1 284 h8.1 v1h-8.1zM306.7 295 h8.1 v1h-8.1zM306.7 303 h8.1 v1h-8.1zM306.7 306 h8.1 v1h-8.1zM395.7 311 h8.1 v1h-8.1zM314.8 333 h8.1 v1h-8.1z" shape-rendering="crispEdges"/>
<path fill="#332da5" d="M314.8 244 h8.1 v1h-8.1z" shape-rendering="crispEdges"/>
<path fill="#6363b7" d="M282.4 246 h8.1 v1h-8.1zM282.4 247 h8.1 v1h-8.1zM395.7 270 h8.1 v1h-8.1zM387.6 334 h8.1 v1h-8.1z" shape-rendering="crispEdges"/>
<path fill="#3f39ab" d="M282.4 252 h8.1 v1h-8.1zM282.4 262 h8.1 v1h-8.1zM387.6 322 h8.1 v1h-8.1z" shape-rendering="crispEdges"/>
<path fill="#dbb7bd" d="M274.3 258 h8.1 v1h-8.1zM403.8 260 h8.1 v1h-8.1zM339.1 283 h8.1 v1h-8.1zM282.4 291 h8.1 v1h-8.1zM395.7 295 h8.1 v1h-8.1zM314.8 304 h8.1 v1h-8.1zM314.8 327 h8.1 v1h-8.1zM298.6 331 h8.1 v1h-8.1zM306.7 340 h8.1 v1h-8.1z" shape-rendering="crispEdges"/>
<path fill="#c3878d" d="M298.6 260 h8.1 v1h-8.1zM282.4 274 h8.1 v1h-8.1zM314.8 290 h8.1 v1h-8.1zM322.9 300 h8.1 v1h-8.1zM298.6 302 h8.1 v1h-8.1zM331.0 305 h8.1 v1h-8.1zM331.0 309 h8.1 v1h-8.1zM331.0 328 h8.1 v1h-8.1zM403.8 339 h8.1 v1h-8.1zM322.9 340 h8.1 v1h-8.1zM403.8 341 h8.1 v1h-8.1zM395.7 342 h8.1 v1h-8.1zM314.8 344 h8.1 v1h-8.1z" shape-rendering="crispEdges"/>
<path fill="#ab575d" d="M306.7 260 h8.1 v1h-8.1zM331.0 265 h8.1 v1h-8.1zM314.8 268 h8.1 v1h-8.1zM371.4 271 h8.1 v1h-8.1zM314.8 276 h8.1 v1h-8.1zM298.6 280 h8.1 v1h-8.1zM290.5 297 h8.1 v1h-8.1zM290.5 305 h8.1 v1h-8.1zM331.0 306 h8.1 v1h-8.1zM282.4 311 h8.1 v1h-8.1zM331.0 323 h8.1 v1h-8.1zM331.0 329 h8.1 v1h-8.1zM274.3 336 h8.1 v1h-8.1z" shape-rendering="crispEdges"/>
<path fill="#b7757b" d="M314.8 260 h8.1 v1h-8.1zM314.8 261 h8.1 v1h-8.1zM322.9 269 h8.1 v1h-8.1zM306.7 281 h8.1 v1h-8.1zM306.7 285 h8.1 v1h-8.1zM395.7 285 h8.1 v1h-8.1zM322.9 299 h8.1 v1h-8.1zM322.9 303 h8.1 v1h-8.1zM331.0 311 h8.1 v1h-8.1zM395.7 326 h8.1 v1h-8.1zM322.9 330 h8.1 v1h-8.1zM322.9 331 h8.1 v1h-8.1zM403.8 331 h8.1 v1h-8.1zM403.8 338 h8.1 v1h-8.1z" shape-rendering="crispEdges"/>
<path fill="#b16369" d="M331.0 260 h8.1 v1h-8.1zM314.8 267 h8.1 v1h-8.1zM314.8 269 h8.1 v1h-8.1zM363.3 270 h8.1 v1h-8.1zM274.3 274 h8.1 v1h-8.1zM290.5 275 h8.1 v1h-8.1zM290.5 276 h8.1 v1h-8.1zM290.5 277 h8.1 v1h-8.1zM339.1 282 h16.2 v1h-16.2zM395.7 288 h8.1 v1h-8.1zM322.9 289 h8.1 v1h-8.1zM282.4 290 h16.2 v1h-16.2zM322.9 290 h8.1 v1h-8.1zM322.9 291 h8.1 v1h-8.1zM395.7 291 h8.1 v1h-8.1zM395.7 292 h8.1 v1h-8.1zM331.0 295 h8.1 v1h-8.1zM331.0 296 h8.1 v1h-8.1zM282.4 297 h8.1 v1h-8.1zM314.8 299 h8.1 v1h-8.1zM395.7 302 h8.1 v1h-8.1zM395.7 319 h8.1 v1h-8.1zM322.9 320 h8.1 v1h-8.1zM322.9 325 h8.1 v1h-8.1zM274.3 334 h16.2 v1h-16.2zM282.4 337 h8.1 v1h-8.1zM403.8 343 h8.1 v1h-8.1z" shape-rendering="crispEdges"/>
<path fill="#993333" d="M339.1 260 h8.1 v1h-8.1zM363.3 265 h8.1 v1h-8.1zM363.3 276 h8.1 v1h-8.1zM347.1 290 h8.1 v1h-8.1zM339.1 304 h8.1 v1h-8.1zM363.3 309 h8.1 v1h-8.1zM282.4 322 h8.1 v1h-8.1zM282.4 325 h8.1 v1h-8.1zM371.4 333 h8.1 v1h-8.1z" shape-rendering="crispEdges"/>
<path fill="#932127" d="M347.1 260 h8.1 v1h-8.1zM339.1 261 h8.1 v1h-8.1zM363.3 266 h8.1 v1h-8.1zM379.5 266 h8.1 v1h-8.1zM339.1 267 h8.1 v1h-8.1zM347.1 268 h8.1 v1h-8.1zM371.4 274 h8.1 v1h-8.1zM339.1 275 h8.1 v1h-8.1zM379.5 275 h8.1 v1h-8.1zM363.3 278 h8.1 v1h-8.1zM371.4 280 h8.1 v1h-8.1zM363.3 285 h8.1 v1h-8.1zM339.1 286 h8.1 v1h-8.1zM363.3 286 h8.1 v1h-8.1zM371.4 287 h8.1 v1h-8.1zM363.3 288 h8.1 v1h-8.1zM379.5 290 h8.1 v1h-8.1zM355.2 291 h8.1 v1h-8.1zM379.5 295 h8.1 v1h-8.1zM347.1 296 h16.2 v1h-16.2zM347.1 298 h8.1 v1h-8.1zM371.4 299 h8.1 v1h-8.1zM290.5 300 h8.1 v1h-8.1zM339.1 300 h8.1 v1h-8.1zM355.2 300 h8.1 v1h-8.1zM347.1 301 h8.1 v1h-8.1zM371.4 302 h8.1 v1h-8.1zM363.3 303 h8.1 v1h-8.1zM371.4 304 h8.1 v1h-8.1zM379.5 306 h8.1 v1h-8.1zM363.3 308 h16.2 v1h-16.2zM355.2 309 h8.1 v1h-8.1zM347.1 310 h8.1 v1h-8.1zM371.4 311 h8.1 v1h-8.1zM290.5 312 h8.1 v1h-8.1zM347.1 312 h8.1 v1h-8.1zM371.4 312 h16.2 v1h-16.2zM339.1 315 h8.1 v1h-8.1zM290.5 319 h8.1 v1h-8.1zM339.1 319 h8.1 v1h-8.1zM363.3 319 h8.1 v1h-8.1zM363.3 320 h8.1 v1h-8.1zM379.5 321 h8.1 v1h-8.1zM274.3 322 h8.1 v1h-8.1zM347.1 322 h8.1 v1h-8.1zM363.3 322 h8.1 v1h-8.1zM274.3 323 h8.1 v1h-8.1zM371.4 323 h8.1 v1h-8.1zM379.5 328 h8.1 v1h-8.1zM282.4 330 h16.2 v1h-16.2zM371.4 330 h8.1 v1h-8.1zM403.8 330 h8.1 v1h-8.1zM355.2 331 h8.1 v1h-8.1zM379.5 336 h8.1 v1h-8.1zM371.4 341 h8.1 v1h-8.1zM339.1 342 h24.3 v1h-24.3z" shape-rendering="crispEdges"/>
<path fill="#9f3f45" d="M355.2 260 h8.1 v1h-8.1zM371.4 260 h8.1 v1h-8.1zM379.5 261 h8.1 v1h-8.1zM339.1 265 h8.1 v1h-8.1zM379.5 265 h8.1 v1h-8.1zM322.9 266 h8.1 v1h-8.1zM339.1 266 h8.1 v1h-8.1zM355.2 266 h8.1 v1h-8.1zM355.2 270 h8.1 v1h-8.1zM274.3 290 h8.1 v1h-8.1zM331.0 291 h8.1 v1h-8.1zM347.1 294 h8.1 v1h-8.1zM347.1 295 h8.1 v1h-8.1zM274.3 296 h8.1 v1h-8.1zM363.3 300 h8.1 v1h-8.1zM347.1 306 h8.1 v1h-8.1zM290.5 307 h8.1 v1h-8.1zM363.3 307 h8.1 v1h-8.1zM274.3 310 h8.1 v1h-8.1zM339.1 313 h8.1 v1h-8.1zM363.3 313 h8.1 v1h-8.1zM395.7 323 h8.1 v1h-8.1zM290.5 327 h8.1 v1h-8.1zM363.3 327 h8.1 v1h-8.1zM347.1 332 h8.1 v1h-8.1zM363.3 332 h8.1 v1h-8.1zM347.1 335 h8.1 v1h-8.1zM363.3 335 h8.1 v1h-8.1zM347.1 344 h8.1 v1h-8.1z" shape-rendering="crispEdges"/>
<path fill="#993339" d="M363.3 260 h8.1 v1h-8.1zM379.5 260 h8.1 v1h-8.1zM371.4 261 h8.1 v1h-8.1zM371.4 262 h8.1 v1h-8.1zM306.7 263 h8.1 v1h-8.1zM339.1 263 h8.1 v1h-8.1zM339.1 264 h8.1 v1h-8.1zM355.2 264 h8.1 v1h-8.1zM371.4 264 h16.2 v1h-16.2zM347.1 265 h8.1 v1h-8.1zM371.4 265 h8.1 v1h-8.1zM355.2 267 h16.2 v1h-16.2zM347.1 269 h8.1 v1h-8.1zM379.5 270 h8.1 v1h-8.1zM363.3 272 h8.1 v1h-8.1zM379.5 272 h8.1 v1h-8.1zM363.3 274 h8.1 v1h-8.1zM371.4 275 h8.1 v1h-8.1zM363.3 279 h8.1 v1h-8.1zM322.9 280 h8.1 v1h-8.1zM403.8 280 h8.1 v1h-8.1zM339.1 292 h16.2 v1h-16.2zM371.4 292 h8.1 v1h-8.1zM339.1 293 h8.1 v1h-8.1zM355.2 293 h16.2 v1h-16.2zM339.1 297 h8.1 v1h-8.1zM282.4 302 h8.1 v1h-8.1zM347.1 303 h8.1 v1h-8.1zM371.4 303 h8.1 v1h-8.1zM347.1 304 h16.2 v1h-16.2zM339.1 310 h8.1 v1h-8.1zM371.4 310 h8.1 v1h-8.1zM347.1 311 h8.1 v1h-8.1zM282.4 312 h8.1 v1h-8.1zM379.5 313 h8.1 v1h-8.1zM282.4 317 h8.1 v1h-8.1zM363.3 317 h8.1 v1h-8.1zM371.4 318 h8.1 v1h-8.1zM274.3 319 h8.1 v1h-8.1zM282.4 321 h8.1 v1h-8.1zM339.1 322 h8.1 v1h-8.1zM395.7 325 h8.1 v1h-8.1zM363.3 326 h8.1 v1h-8.1zM347.1 327 h8.1 v1h-8.1zM290.5 328 h8.1 v1h-8.1zM347.1 328 h8.1 v1h-8.1zM371.4 328 h8.1 v1h-8.1zM339.1 332 h8.1 v1h-8.1zM355.2 333 h8.1 v1h-8.1zM355.2 334 h16.2 v1h-16.2zM379.5 334 h8.1 v1h-8.1zM355.2 336 h8.1 v1h-8.1zM371.4 336 h8.1 v1h-8.1zM274.3 340 h8.1 v1h-8.1zM347.1 340 h8.1 v1h-8.1zM371.4 340 h8.1 v1h-8.1zM282.4 341 h8.1 v1h-8.1zM355.2 341 h8.1 v1h-8.1zM339.1 344 h8.1 v1h-8.1zM363.3 344 h8.1 v1h-8.1z" shape-rendering="crispEdges"/>
<path fill="#6f6fbd" d="M387.6 260 h8.1 v1h-8.1zM387.6 263 h8.1 v1h-8.1zM282.4 271 h8.1 v1h-8.1zM395.7 271 h8.1 v1h-8.1zM274.3 282 h8.1 v1h-8.1zM395.7 283 h8.1 v1h-8.1zM387.6 287 h8.1 v1h-8.1zM387.6 310 h8.1 v1h-8.1z" shape-rendering="crispEdges"/>
<path fill="#9f393f" d="M306.7 261 h8.1 v1h-8.1zM347.1 261 h16.2 v1h-16.2zM314.8 262 h8.1 v1h-8.1zM379.5 263 h8.1 v1h-8.1zM355.2 265 h8.1 v1h-8.1zM363.3 268 h8.1 v1h-8.1zM379.5 273 h8.1 v1h-8.1zM290.5 274 h8.1 v1h-8.1zM322.9 276 h8.1 v1h-8.1zM314.8 278 h8.1 v1h-8.1zM347.1 278 h16.2 v1h-16.2zM306.7 279 h8.1 v1h-8.1zM339.1 279 h8.1 v1h-8.1zM371.4 279 h8.1 v1h-8.1zM290.5 280 h8.1 v1h-8.1zM331.0 280 h8.1 v1h-8.1zM322.9 281 h8.1 v1h-8.1zM379.5 281 h8.1 v1h-8.1zM363.3 287 h8.1 v1h-8.1zM339.1 291 h8.1 v1h-8.1zM339.1 294 h8.1 v1h-8.1zM282.4 298 h8.1 v1h-8.1zM347.1 300 h8.1 v1h-8.1zM363.3 301 h8.1 v1h-8.1zM363.3 304 h8.1 v1h-8.1zM363.3 305 h16.2 v1h-16.2zM274.3 307 h8.1 v1h-8.1zM339.1 307 h16.2 v1h-16.2zM339.1 309 h8.1 v1h-8.1zM379.5 310 h8.1 v1h-8.1zM355.2 313 h8.1 v1h-8.1zM274.3 318 h8.1 v1h-8.1zM290.5 321 h8.1 v1h-8.1zM274.3 326 h8.1 v1h-8.1zM347.1 326 h8.1 v1h-8.1zM274.3 327 h16.2 v1h-16.2zM274.3 332 h8.1 v1h-8.1zM339.1 334 h8.1 v1h-8.1zM371.4 334 h8.1 v1h-8.1zM339.1 335 h8.1 v1h-8.1zM282.4 338 h8.1 v1h-8.1zM290.5 339 h8.1 v1h-8.1zM274.3 343 h16.2 v1h-16.2z" shape-rendering="crispEdges"/>
<path fill="#b16363" d="M322.9 261 h8.1 v1h-8.1zM395.7 301 h8.1 v1h-8.1zM331.0 308 h8.1 v1h-8.1zM403.8 325 h8.1 v1h-8.1z" shape-rendering="crispEdges"/>
<path fill="#8d1b21" d="M363.3 261 h8.1 v1h-8.1zM347.1 262 h8.1 v1h-8.1zM347.1 274 h8.1 v1h-8.1zM379.5 274 h8.1 v1h-8.1zM347.1 275 h16.2 v1h-16.2zM371.4 276 h8.1 v1h-8.1zM371.4 277 h8.1 v1h-8.1zM339.1 278 h8.1 v1h-8.1zM347.1 280 h8.1 v1h-8.1zM339.1 281 h8.1 v1h-8.1zM347.1 286 h8.1 v1h-8.1zM379.5 287 h8.1 v1h-8.1zM339.1 288 h8.1 v1h-8.1zM395.7 289 h8.1 v1h-8.1zM371.4 290 h8.1 v1h-8.1zM379.5 292 h8.1 v1h-8.1zM379.5 293 h8.1 v1h-8.1zM355.2 294 h8.1 v1h-8.1zM339.1 295 h8.1 v1h-8.1zM347.1 297 h8.1 v1h-8.1zM371.4 297 h8.1 v1h-8.1zM355.2 298 h16.2 v1h-16.2zM379.5 298 h8.1 v1h-8.1zM347.1 299 h8.1 v1h-8.1zM363.3 299 h8.1 v1h-8.1zM379.5 300 h8.1 v1h-8.1zM274.3 301 h8.1 v1h-8.1zM347.1 302 h8.1 v1h-8.1zM379.5 307 h8.1 v1h-8.1zM339.1 308 h8.1 v1h-8.1zM379.5 309 h8.1 v1h-8.1zM363.3 311 h8.1 v1h-8.1zM363.3 312 h8.1 v1h-8.1zM379.5 314 h8.1 v1h-8.1zM274.3 315 h8.1 v1h-8.1zM355.2 315 h8.1 v1h-8.1zM355.2 316 h8.1 v1h-8.1zM355.2 317 h8.1 v1h-8.1zM379.5 317 h8.1 v1h-8.1zM379.5 318 h8.1 v1h-8.1zM282.4 320 h8.1 v1h-8.1zM355.2 321 h8.1 v1h-8.1zM355.2 322 h8.1 v1h-8.1zM363.3 323 h8.1 v1h-8.1zM274.3 325 h8.1 v1h-8.1zM347.1 325 h8.1 v1h-8.1zM379.5 326 h8.1 v1h-8.1zM274.3 328 h8.1 v1h-8.1zM355.2 328 h8.1 v1h-8.1zM282.4 329 h8.1 v1h-8.1zM371.4 329 h8.1 v1h-8.1zM339.1 330 h8.1 v1h-8.1zM339.1 331 h8.1 v1h-8.1zM363.3 331 h8.1 v1h-8.1zM347.1 336 h8.1 v1h-8.1zM379.5 338 h8.1 v1h-8.1zM371.4 339 h8.1 v1h-8.1zM379.5 342 h8.1 v1h-8.1zM347.1 343 h8.1 v1h-8.1zM379.5 343 h8.1 v1h-8.1z" shape-rendering="crispEdges"/>
<path fill="#932d33" d="M306.7 262 h8.1 v1h-8.1zM371.4 324 h8.1 v1h-8.1zM290.5 325 h8.1 v1h-8.1z" shape-rendering="crispEdges"/>
<path fill="#992d33" d="M322.9 262 h8.1 v1h-8.1zM379.5 262 h8.1 v1h-8.1zM363.3 264 h8.1 v1h-8.1zM331.0 266 h8.1 v1h-8.1zM371.4 267 h8.1 v1h-8.1zM339.1 268 h8.1 v1h-8.1zM379.5 269 h8.1 v1h-8.1zM282.4 273 h8.1 v1h-8.1zM363.3 273 h8.1 v1h-8.1zM355.2 276 h8.1 v1h-8.1zM379.5 276 h8.1 v1h-8.1zM347.1 277 h16.2 v1h-16.2zM339.1 280 h8.1 v1h-8.1zM355.2 280 h8.1 v1h-8.1zM347.1 287 h16.2 v1h-16.2zM290.5 292 h8.1 v1h-8.1zM379.5 294 h8.1 v1h-8.1zM339.1 296 h8.1 v1h-8.1zM363.3 296 h8.1 v1h-8.1zM282.4 299 h8.1 v1h-8.1zM371.4 300 h8.1 v1h-8.1zM282.4 301 h8.1 v1h-8.1zM339.1 301 h8.1 v1h-8.1zM274.3 302 h8.1 v1h-8.1zM282.4 303 h8.1 v1h-8.1zM339.1 303 h8.1 v1h-8.1zM339.1 305 h8.1 v1h-8.1zM355.2 305 h8.1 v1h-8.1zM339.1 306 h8.1 v1h-8.1zM363.3 306 h8.1 v1h-8.1zM290.5 309 h8.1 v1h-8.1zM290.5 311 h8.1 v1h-8.1zM339.1 311 h8.1 v1h-8.1zM274.3 312 h8.1 v1h-8.1zM347.1 314 h8.1 v1h-8.1zM363.3 314 h16.2 v1h-16.2zM282.4 315 h8.1 v1h-8.1zM395.7 316 h8.1 v1h-8.1zM339.1 317 h16.2 v1h-16.2zM339.1 318 h8.1 v1h-8.1zM363.3 318 h8.1 v1h-8.1zM347.1 319 h8.1 v1h-8.1zM347.1 323 h8.1 v1h-8.1zM363.3 328 h8.1 v1h-8.1zM395.7 330 h8.1 v1h-8.1zM371.4 332 h8.1 v1h-8.1zM379.5 335 h8.1 v1h-8.1zM363.3 336 h8.1 v1h-8.1zM339.1 337 h8.1 v1h-8.1zM363.3 337 h8.1 v1h-8.1zM379.5 337 h8.1 v1h-8.1zM339.1 339 h8.1 v1h-8.1zM363.3 339 h8.1 v1h-8.1zM290.5 341 h8.1 v1h-8.1zM339.1 341 h16.2 v1h-16.2zM379.5 341 h8.1 v1h-8.1zM363.3 342 h8.1 v1h-8.1zM355.2 344 h8.1 v1h-8.1zM371.4 344 h8.1 v1h-8.1z" shape-rendering="crispEdges"/>
<path fill="#9f3f3f" d="M331.0 262 h8.1 v1h-8.1zM290.5 318 h8.1 v1h-8.1zM290.5 324 h8.1 v1h-8.1zM282.4 328 h8.1 v1h-8.1zM347.1 333 h8.1 v1h-8.1zM290.5 336 h8.1 v1h-8.1zM339.1 336 h8.1 v1h-8.1zM290.5 337 h8.1 v1h-8.1z" shape-rendering="crispEdges"/>
<path fill="#870f15" d="M339.1 262 h8.1 v1h-8.1zM363.3 262 h8.1 v1h-8.1zM363.3 275 h8.1 v1h-8.1zM314.8 280 h8.1 v1h-8.1zM379.5 285 h8.1 v1h-8.1zM355.2 286 h8.1 v1h-8.1zM371.4 286 h8.1 v1h-8.1zM355.2 288 h8.1 v1h-8.1zM379.5 288 h8.1 v1h-8.1zM282.4 289 h16.2 v1h-16.2zM347.1 289 h24.3 v1h-24.3zM355.2 290 h16.2 v1h-16.2zM363.3 291 h16.2 v1h-16.2zM355.2 297 h8.1 v1h-8.1zM379.5 297 h8.1 v1h-8.1zM379.5 299 h8.1 v1h-8.1zM355.2 301 h8.1 v1h-8.1zM290.5 302 h8.1 v1h-8.1zM355.2 302 h8.1 v1h-8.1zM379.5 303 h8.1 v1h-8.1zM379.5 308 h8.1 v1h-8.1zM274.3 311 h8.1 v1h-8.1zM347.1 315 h8.1 v1h-8.1zM371.4 315 h16.2 v1h-16.2zM371.4 316 h8.1 v1h-8.1zM339.1 320 h8.1 v1h-8.1zM355.2 320 h8.1 v1h-8.1zM371.4 320 h16.2 v1h-16.2zM371.4 321 h8.1 v1h-8.1zM290.5 323 h8.1 v1h-8.1zM355.2 323 h8.1 v1h-8.1zM355.2 324 h8.1 v1h-8.1zM379.5 324 h8.1 v1h-8.1zM355.2 325 h8.1 v1h-8.1zM371.4 325 h16.2 v1h-16.2zM379.5 329 h8.1 v1h-8.1zM355.2 330 h8.1 v1h-8.1zM379.5 330 h8.1 v1h-8.1zM339.1 338 h8.1 v1h-8.1z" shape-rendering="crispEdges"/>
<path fill="#932727" d="M355.2 262 h8.1 v1h-8.1zM355.2 307 h8.1 v1h-8.1zM371.4 317 h8.1 v1h-8.1zM347.1 330 h8.1 v1h-8.1zM347.1 331 h8.1 v1h-8.1zM371.4 343 h8.1 v1h-8.1z" shape-rendering="crispEdges"/>
<path fill="#c99399" d="M395.7 262 h8.1 v1h-8.1zM347.1 271 h8.1 v1h-8.1zM298.6 277 h8.1 v1h-8.1zM274.3 279 h8.1 v1h-8.1zM403.8 285 h8.1 v1h-8.1zM298.6 289 h8.1 v1h-8.1zM387.6 290 h8.1 v1h-8.1zM322.9 293 h8.1 v1h-8.1zM306.7 299 h8.1 v1h-8.1zM403.8 300 h8.1 v1h-8.1zM403.8 307 h8.1 v1h-8.1zM314.8 311 h8.1 v1h-8.1zM314.8 317 h8.1 v1h-8.1zM306.7 323 h8.1 v1h-8.1zM314.8 324 h8.1 v1h-8.1zM403.8 324 h8.1 v1h-8.1zM306.7 325 h8.1 v1h-8.1zM314.8 328 h8.1 v1h-8.1zM331.0 334 h8.1 v1h-8.1zM331.0 339 h8.1 v1h-8.1zM331.0 340 h8.1 v1h-8.1zM322.9 343 h8.1 v1h-8.1z" shape-rendering="crispEdges"/>
<path fill="#a54b51" d="M314.8 263 h8.1 v1h-8.1zM371.4 266 h8.1 v1h-8.1zM379.5 267 h8.1 v1h-8.1zM339.1 270 h8.1 v1h-8.1zM371.4 270 h8.1 v1h-8.1zM306.7 276 h8.1 v1h-8.1zM322.9 279 h8.1 v1h-8.1zM355.2 279 h8.1 v1h-8.1zM282.4 280 h8.1 v1h-8.1zM306.7 280 h8.1 v1h-8.1zM282.4 285 h8.1 v1h-8.1zM395.7 286 h8.1 v1h-8.1zM331.0 299 h8.1 v1h-8.1zM274.3 306 h8.1 v1h-8.1zM290.5 317 h8.1 v1h-8.1zM347.1 318 h8.1 v1h-8.1zM395.7 329 h8.1 v1h-8.1zM290.5 332 h8.1 v1h-8.1zM290.5 335 h8.1 v1h-8.1zM282.4 336 h8.1 v1h-8.1zM347.1 337 h8.1 v1h-8.1zM274.3 342 h8.1 v1h-8.1zM403.8 344 h8.1 v1h-8.1z" shape-rendering="crispEdges"/>
<path fill="#9f4545" d="M331.0 263 h8.1 v1h-8.1zM379.5 278 h8.1 v1h-8.1zM395.7 299 h8.1 v1h-8.1zM282.4 314 h16.2 v1h-16.2zM282.4 319 h8.1 v1h-8.1zM282.4 326 h8.1 v1h-8.1zM339.1 333 h8.1 v1h-8.1zM379.5 333 h8.1 v1h-8.1zM290.5 340 h8.1 v1h-8.1z" shape-rendering="crispEdges"/>
<path fill="#93272d" d="M347.1 263 h8.1 v1h-8.1zM363.3 263 h16.2 v1h-16.2zM347.1 264 h8.1 v1h-8.1zM371.4 268 h8.1 v1h-8.1zM371.4 273 h8.1 v1h-8.1zM339.1 274 h8.1 v1h-8.1zM339.1 277 h8.1 v1h-8.1zM363.3 277 h8.1 v1h-8.1zM379.5 277 h8.1 v1h-8.1zM371.4 278 h8.1 v1h-8.1zM331.0 279 h8.1 v1h-8.1zM379.5 279 h8.1 v1h-8.1zM347.1 281 h8.1 v1h-8.1zM371.4 281 h8.1 v1h-8.1zM371.4 285 h8.1 v1h-8.1zM339.1 287 h8.1 v1h-8.1zM339.1 289 h8.1 v1h-8.1zM339.1 290 h8.1 v1h-8.1zM347.1 291 h8.1 v1h-8.1zM363.3 292 h8.1 v1h-8.1zM347.1 293 h8.1 v1h-8.1zM371.4 293 h8.1 v1h-8.1zM363.3 294 h16.2 v1h-16.2zM355.2 295 h24.3 v1h-24.3zM363.3 297 h8.1 v1h-8.1zM339.1 298 h8.1 v1h-8.1zM371.4 298 h8.1 v1h-8.1zM274.3 299 h8.1 v1h-8.1zM290.5 299 h8.1 v1h-8.1zM290.5 301 h8.1 v1h-8.1zM379.5 301 h8.1 v1h-8.1zM379.5 304 h8.1 v1h-8.1zM379.5 305 h8.1 v1h-8.1zM355.2 306 h8.1 v1h-8.1zM371.4 306 h8.1 v1h-8.1zM274.3 308 h8.1 v1h-8.1zM290.5 308 h8.1 v1h-8.1zM347.1 309 h8.1 v1h-8.1zM290.5 310 h8.1 v1h-8.1zM355.2 310 h16.2 v1h-16.2zM355.2 311 h8.1 v1h-8.1zM339.1 312 h8.1 v1h-8.1zM355.2 312 h8.1 v1h-8.1zM339.1 314 h8.1 v1h-8.1zM355.2 314 h8.1 v1h-8.1zM290.5 315 h8.1 v1h-8.1zM363.3 315 h8.1 v1h-8.1zM395.7 315 h8.1 v1h-8.1zM339.1 316 h8.1 v1h-8.1zM363.3 316 h8.1 v1h-8.1zM274.3 317 h8.1 v1h-8.1zM355.2 318 h8.1 v1h-8.1zM379.5 319 h8.1 v1h-8.1zM290.5 320 h8.1 v1h-8.1zM274.3 321 h8.1 v1h-8.1zM339.1 321 h8.1 v1h-8.1zM290.5 322 h8.1 v1h-8.1zM371.4 322 h8.1 v1h-8.1zM355.2 326 h8.1 v1h-8.1zM339.1 327 h8.1 v1h-8.1zM355.2 327 h8.1 v1h-8.1zM371.4 327 h16.2 v1h-16.2zM339.1 328 h8.1 v1h-8.1zM363.3 329 h8.1 v1h-8.1zM274.3 331 h8.1 v1h-8.1zM355.2 332 h8.1 v1h-8.1zM379.5 332 h8.1 v1h-8.1zM355.2 335 h8.1 v1h-8.1zM371.4 335 h8.1 v1h-8.1zM290.5 338 h8.1 v1h-8.1zM355.2 338 h8.1 v1h-8.1zM355.2 339 h8.1 v1h-8.1zM379.5 339 h8.1 v1h-8.1zM355.2 340 h16.2 v1h-16.2zM379.5 340 h8.1 v1h-8.1zM290.5 343 h8.1 v1h-8.1zM339.1 343 h8.1 v1h-8.1zM355.2 343 h16.2 v1h-16.2z" shape-rendering="crispEdges"/>
<path fill="#a5454b" d="M355.2 263 h8.1 v1h-8.1zM379.5 268 h8.1 v1h-8.1zM339.1 269 h8.1 v1h-8.1zM355.2 274 h8.1 v1h-8.1zM331.0 276 h8.1 v1h-8.1zM314.8 277 h16.2 v1h-16.2zM274.3 285 h8.1 v1h-8.1zM282.4 288 h8.1 v1h-8.1zM274.3 297 h8.1 v1h-8.1zM403.8 297 h8.1 v1h-8.1zM274.3 298 h8.1 v1h-8.1zM282.4 300 h8.1 v1h-8.1zM290.5 303 h8.1 v1h-8.1zM274.3 305 h8.1 v1h-8.1zM347.1 305 h8.1 v1h-8.1zM282.4 309 h8.1 v1h-8.1zM282.4 310 h8.1 v1h-8.1zM331.0 320 h8.1 v1h-8.1zM395.7 320 h8.1 v1h-8.1zM290.5 331 h8.1 v1h-8.1zM363.3 333 h8.1 v1h-8.1zM347.1 334 h8.1 v1h-8.1zM339.1 340 h8.1 v1h-8.1zM290.5 342 h8.1 v1h-8.1z" shape-rendering="crispEdges"/>
<path fill="#a55151" d="M314.8 264 h8.1 v1h-8.1zM379.5 282 h8.1 v1h-8.1zM331.0 285 h8.1 v1h-8.1zM403.8 288 h8.1 v1h-8.1zM395.7 290 h8.1 v1h-8.1zM403.8 292 h8.1 v1h-8.1zM395.7 338 h8.1 v1h-8.1z" shape-rendering="crispEdges"/>
<path fill="#ab5d5d" d="M322.9 264 h8.1 v1h-8.1zM282.4 306 h8.1 v1h-8.1z" shape-rendering="crispEdges"/>
<path fill="#b15d63" d="M331.0 264 h8.1 v1h-8.1zM322.9 265 h8.1 v1h-8.1zM274.3 275 h8.1 v1h-8.1zM331.0 281 h8.1 v1h-8.1zM290.5 286 h8.1 v1h-8.1zM290.5 288 h8.1 v1h-8.1zM274.3 304 h8.1 v1h-8.1zM395.7 308 h16.2 v1h-16.2zM331.0 317 h8.1 v1h-8.1zM331.0 324 h8.1 v1h-8.1zM403.8 329 h8.1 v1h-8.1zM290.5 333 h8.1 v1h-8.1zM274.3 337 h8.1 v1h-8.1z" shape-rendering="crispEdges"/>
<path fill="#ab5757" d="M314.8 265 h8.1 v1h-8.1zM322.9 267 h8.1 v1h-8.1zM363.3 271 h8.1 v1h-8.1zM331.0 286 h8.1 v1h-8.1zM331.0 292 h8.1 v1h-8.1zM274.3 303 h8.1 v1h-8.1zM403.8 320 h8.1 v1h-8.1zM282.4 344 h8.1 v1h-8.1z" shape-rendering="crispEdges"/>
<path fill="#b76f6f" d="M282.4 266 h8.1 v1h-8.1zM298.6 274 h8.1 v1h-8.1zM314.8 291 h8.1 v1h-8.1zM314.8 292 h16.2 v1h-16.2zM331.0 298 h8.1 v1h-8.1zM331.0 302 h8.1 v1h-8.1zM395.7 309 h8.1 v1h-8.1zM395.7 310 h8.1 v1h-8.1zM403.8 317 h8.1 v1h-8.1zM395.7 328 h8.1 v1h-8.1z" shape-rendering="crispEdges"/>
<path fill="#8d151b" d="M347.1 266 h8.1 v1h-8.1zM339.1 276 h16.2 v1h-16.2zM363.3 280 h8.1 v1h-8.1zM379.5 280 h8.1 v1h-8.1zM355.2 281 h16.2 v1h-16.2zM347.1 285 h16.2 v1h-16.2zM379.5 286 h8.1 v1h-8.1zM274.3 288 h8.1 v1h-8.1zM347.1 288 h8.1 v1h-8.1zM371.4 288 h8.1 v1h-8.1zM371.4 289 h16.2 v1h-16.2zM379.5 291 h8.1 v1h-8.1zM355.2 292 h8.1 v1h-8.1zM355.2 299 h8.1 v1h-8.1zM371.4 301 h8.1 v1h-8.1zM339.1 302 h8.1 v1h-8.1zM363.3 302 h8.1 v1h-8.1zM379.5 302 h8.1 v1h-8.1zM355.2 303 h8.1 v1h-8.1zM371.4 307 h8.1 v1h-8.1zM355.2 308 h8.1 v1h-8.1zM379.5 311 h8.1 v1h-8.1zM282.4 316 h16.2 v1h-16.2zM347.1 316 h8.1 v1h-8.1zM371.4 319 h8.1 v1h-8.1zM274.3 320 h8.1 v1h-8.1zM347.1 321 h8.1 v1h-8.1zM363.3 321 h8.1 v1h-8.1zM379.5 322 h8.1 v1h-8.1zM282.4 323 h8.1 v1h-8.1zM339.1 323 h8.1 v1h-8.1zM379.5 323 h8.1 v1h-8.1zM274.3 324 h16.2 v1h-16.2zM347.1 324 h8.1 v1h-8.1zM339.1 325 h8.1 v1h-8.1zM363.3 325 h8.1 v1h-8.1zM339.1 326 h8.1 v1h-8.1zM339.1 329 h24.3 v1h-24.3zM274.3 330 h8.1 v1h-8.1zM363.3 330 h8.1 v1h-8.1zM282.4 331 h8.1 v1h-8.1zM371.4 331 h8.1 v1h-8.1zM371.4 337 h8.1 v1h-8.1zM347.1 338 h8.1 v1h-8.1zM371.4 342 h8.1 v1h-8.1zM379.5 344 h8.1 v1h-8.1z" shape-rendering="crispEdges"/>
<path fill="#c99999" d="M290.5 267 h8.1 v1h-8.1zM298.6 276 h8.1 v1h-8.1zM274.3 286 h8.1 v1h-8.1zM387.6 289 h8.1 v1h-8.1zM322.9 294 h8.1 v1h-8.1zM314.8 307 h8.1 v1h-8.1zM387.6 308 h8.1 v1h-8.1zM314.8 330 h8.1 v1h-8.1zM322.9 335 h8.1 v1h-8.1zM403.8 335 h8.1 v1h-8.1zM322.9 336 h8.1 v1h-8.1z" shape-rendering="crispEdges"/>
<path fill="#ab5d63" d="M331.0 267 h8.1 v1h-8.1zM314.8 282 h8.1 v1h-8.1zM322.9 288 h8.1 v1h-8.1zM274.3 291 h8.1 v1h-8.1zM322.9 296 h8.1 v1h-8.1zM314.8 297 h8.1 v1h-8.1zM403.8 301 h8.1 v1h-8.1zM403.8 326 h8.1 v1h-8.1zM290.5 334 h8.1 v1h-8.1z" shape-rendering="crispEdges"/>
<path fill="#ab5157" d="M347.1 267 h8.1 v1h-8.1zM379.5 271 h8.1 v1h-8.1zM371.4 272 h8.1 v1h-8.1zM403.8 274 h8.1 v1h-8.1zM282.4 276 h8.1 v1h-8.1zM306.7 278 h8.1 v1h-8.1zM322.9 278 h16.2 v1h-16.2zM274.3 280 h8.1 v1h-8.1zM355.2 282 h8.1 v1h-8.1zM371.4 282 h8.1 v1h-8.1zM403.8 289 h8.1 v1h-8.1zM331.0 297 h8.1 v1h-8.1zM403.8 299 h8.1 v1h-8.1zM282.4 305 h8.1 v1h-8.1zM274.3 313 h8.1 v1h-8.1zM331.0 316 h8.1 v1h-8.1zM331.0 321 h8.1 v1h-8.1zM274.3 335 h8.1 v1h-8.1zM282.4 339 h8.1 v1h-8.1zM331.0 343 h8.1 v1h-8.1zM395.7 343 h8.1 v1h-8.1zM274.3 344 h8.1 v1h-8.1z" shape-rendering="crispEdges"/>
<path fill="#6963b7" d="M306.7 268 h8.1 v1h-8.1z" shape-rendering="crispEdges"/>
<path fill="#b77575" d="M322.9 268 h8.1 v1h-8.1zM403.8 275 h8.1 v1h-8.1zM395.7 280 h8.1 v1h-8.1zM403.8 291 h8.1 v1h-8.1zM306.7 292 h8.1 v1h-8.1zM290.5 296 h8.1 v1h-8.1zM314.8 302 h8.1 v1h-8.1zM395.7 322 h16.2 v1h-16.2zM331.0 325 h8.1 v1h-8.1zM331.0 338 h8.1 v1h-8.1z" shape-rendering="crispEdges"/>
<path fill="#993939" d="M355.2 268 h8.1 v1h-8.1zM363.3 269 h8.1 v1h-8.1zM274.3 277 h8.1 v1h-8.1zM282.4 286 h8.1 v1h-8.1zM274.3 289 h8.1 v1h-8.1zM371.4 338 h8.1 v1h-8.1zM363.3 341 h8.1 v1h-8.1z" shape-rendering="crispEdges"/>
<path fill="#8181c3" d="M387.6 268 h8.1 v1h-8.1zM403.8 270 h8.1 v1h-8.1zM387.6 306 h8.1 v1h-8.1zM387.6 316 h8.1 v1h-8.1zM387.6 332 h8.1 v1h-8.1z" shape-rendering="crispEdges"/>
<path fill="#c38787" d="M282.4 269 h8.1 v1h-8.1zM339.1 273 h16.2 v1h-16.2zM322.9 287 h8.1 v1h-8.1zM274.3 292 h8.1 v1h-8.1zM395.7 294 h8.1 v1h-8.1zM395.7 296 h16.2 v1h-16.2zM331.0 304 h8.1 v1h-8.1zM314.8 319 h8.1 v1h-8.1zM322.9 327 h8.1 v1h-8.1zM274.3 339 h8.1 v1h-8.1zM322.9 341 h8.1 v1h-8.1zM395.7 341 h8.1 v1h-8.1zM403.8 342 h8.1 v1h-8.1z" shape-rendering="crispEdges"/>
<path fill="#a54b4b" d="M355.2 269 h8.1 v1h-8.1zM371.4 269 h8.1 v1h-8.1zM331.0 290 h8.1 v1h-8.1zM274.3 300 h8.1 v1h-8.1z" shape-rendering="crispEdges"/>
<path fill="#7575bd" d="M290.5 270 h8.1 v1h-8.1zM387.6 284 h16.2 v1h-16.2zM387.6 340 h8.1 v1h-8.1z" shape-rendering="crispEdges"/>
<path fill="#bd8187" d="M347.1 270 h8.1 v1h-8.1zM347.1 272 h8.1 v1h-8.1zM395.7 276 h8.1 v1h-8.1zM395.7 277 h8.1 v1h-8.1zM314.8 295 h8.1 v1h-8.1zM331.0 300 h8.1 v1h-8.1zM322.9 315 h16.2 v1h-16.2zM322.9 324 h8.1 v1h-8.1zM395.7 327 h8.1 v1h-8.1zM403.8 328 h8.1 v1h-8.1zM314.8 329 h16.2 v1h-16.2zM331.0 330 h8.1 v1h-8.1zM274.3 333 h8.1 v1h-8.1zM331.0 344 h8.1 v1h-8.1z" shape-rendering="crispEdges"/>
<path fill="#0f0f99" d="M387.6 270 h8.1 v1h-8.1z" shape-rendering="crispEdges"/>
<path fill="#bd7b81" d="M355.2 271 h8.1 v1h-8.1zM355.2 272 h8.1 v1h-8.1zM395.7 274 h8.1 v1h-8.1zM282.4 279 h16.2 v1h-16.2zM298.6 281 h8.1 v1h-8.1zM306.7 282 h8.1 v1h-8.1zM314.8 285 h8.1 v1h-8.1zM322.9 295 h8.1 v1h-8.1zM314.8 296 h8.1 v1h-8.1zM306.7 297 h8.1 v1h-8.1zM322.9 297 h8.1 v1h-8.1zM314.8 298 h8.1 v1h-8.1zM322.9 301 h8.1 v1h-8.1zM395.7 303 h8.1 v1h-8.1zM322.9 310 h8.1 v1h-8.1zM331.0 312 h8.1 v1h-8.1zM395.7 314 h8.1 v1h-8.1zM403.8 315 h8.1 v1h-8.1zM322.9 321 h8.1 v1h-8.1zM403.8 321 h8.1 v1h-8.1zM387.6 329 h8.1 v1h-8.1zM331.0 331 h8.1 v1h-8.1zM331.0 332 h8.1 v1h-8.1zM331.0 337 h8.1 v1h-8.1z" shape-rendering="crispEdges"/>
<path fill="#5d5db7" d="M387.6 272 h8.1 v1h-8.1zM387.6 317 h8.1 v1h-8.1z" shape-rendering="crispEdges"/>
<path fill="#c3bde1" d="M306.7 273 h8.1 v1h-8.1z" shape-rendering="crispEdges"/>
<path fill="#cfcfe1" d="M314.8 273 h8.1 v1h-8.1zM395.7 282 h8.1 v1h-8.1zM363.3 283 h8.1 v1h-8.1zM387.6 302 h8.1 v1h-8.1z" shape-rendering="crispEdges"/>
<path fill="#c3bddb" d="M322.9 273 h8.1 v1h-8.1z" shape-rendering="crispEdges"/>
<path fill="#b16969" d="M282.4 275 h8.1 v1h-8.1zM274.3 281 h8.1 v1h-8.1zM282.4 313 h8.1 v1h-8.1zM322.9 316 h8.1 v1h-8.1zM331.0 327 h8.1 v1h-8.1z" shape-rendering="crispEdges"/>
<path fill="#bdb7db" d="M387.6 275 h8.1 v1h-8.1zM387.6 281 h8.1 v1h-8.1zM306.7 305 h8.1 v1h-8.1z" shape-rendering="crispEdges"/>
<path fill="#99393f" d="M331.0 277 h8.1 v1h-8.1zM371.4 309 h8.1 v1h-8.1zM347.1 313 h8.1 v1h-8.1zM363.3 324 h8.1 v1h-8.1zM347.1 339 h8.1 v1h-8.1z" shape-rendering="crispEdges"/>
<path fill="#932d2d" d="M347.1 279 h8.1 v1h-8.1zM379.5 296 h8.1 v1h-8.1zM379.5 316 h8.1 v1h-8.1zM347.1 320 h8.1 v1h-8.1zM355.2 337 h8.1 v1h-8.1z" shape-rendering="crispEdges"/>
<path fill="#a55157" d="M363.3 282 h8.1 v1h-8.1zM331.0 288 h8.1 v1h-8.1zM282.4 307 h8.1 v1h-8.1zM274.3 309 h8.1 v1h-8.1zM403.8 316 h8.1 v1h-8.1zM282.4 333 h8.1 v1h-8.1zM274.3 338 h8.1 v1h-8.1zM282.4 342 h8.1 v1h-8.1z" shape-rendering="crispEdges"/>
<path fill="#817bc3" d="M387.6 282 h8.1 v1h-8.1zM331.0 284 h8.1 v1h-8.1zM387.6 305 h8.1 v1h-8.1zM387.6 309 h8.1 v1h-8.1z" shape-rendering="crispEdges"/>
<path fill="#6f69bd" d="M331.0 283 h8.1 v1h-8.1zM387.6 283 h8.1 v1h-8.1z" shape-rendering="crispEdges"/>
<path fill="#f3f3f3" d="M363.3 284 h8.1 v1h-8.1zM298.6 309 h8.1 v1h-8.1zM298.6 334 h8.1 v1h-8.1z" shape-rendering="crispEdges"/>
<path fill="#b1b1d5" d="M371.4 284 h8.1 v1h-8.1zM387.6 341 h8.1 v1h-8.1z" shape-rendering="crispEdges"/>
<path fill="#bd757b" d="M322.9 285 h8.1 v1h-8.1zM331.0 287 h8.1 v1h-8.1zM395.7 307 h8.1 v1h-8.1zM314.8 308 h8.1 v1h-8.1zM322.9 319 h8.1 v1h-8.1zM322.9 322 h8.1 v1h-8.1zM395.7 324 h8.1 v1h-8.1zM290.5 326 h8.1 v1h-8.1zM331.0 326 h8.1 v1h-8.1z" shape-rendering="crispEdges"/>
<path fill="#932121" d="M339.1 285 h8.1 v1h-8.1z" shape-rendering="crispEdges"/>
<path fill="#bd8181" d="M314.8 286 h8.1 v1h-8.1zM282.4 295 h8.1 v1h-8.1zM403.8 298 h8.1 v1h-8.1zM322.9 309 h8.1 v1h-8.1zM331.0 322 h8.1 v1h-8.1zM274.3 341 h8.1 v1h-8.1z" shape-rendering="crispEdges"/>
<path fill="#cfabab" d="M395.7 287 h8.1 v1h-8.1zM322.9 317 h8.1 v1h-8.1zM282.4 340 h8.1 v1h-8.1z" shape-rendering="crispEdges"/>
<path fill="#9f454b" d="M314.8 289 h8.1 v1h-8.1zM331.0 289 h8.1 v1h-8.1zM371.4 313 h8.1 v1h-8.1zM290.5 329 h8.1 v1h-8.1z" shape-rendering="crispEdges"/>
<path fill="#d5b7b7" d="M395.7 293 h8.1 v1h-8.1z" shape-rendering="crispEdges"/>
<path fill="#8d2121" d="M371.4 296 h8.1 v1h-8.1zM339.1 299 h8.1 v1h-8.1zM347.1 308 h8.1 v1h-8.1zM355.2 319 h8.1 v1h-8.1zM339.1 324 h8.1 v1h-8.1zM371.4 326 h8.1 v1h-8.1zM379.5 331 h8.1 v1h-8.1zM363.3 338 h8.1 v1h-8.1z" shape-rendering="crispEdges"/>
<path fill="#cf999f" d="M322.9 306 h8.1 v1h-8.1z" shape-rendering="crispEdges"/>
<path fill="#756fbd" d="M387.6 320 h8.1 v1h-8.1z" shape-rendering="crispEdges"/>
<path fill="#3933a5" d="M387.6 325 h8.1 v1h-8.1z" shape-rendering="crispEdges"/>
<path fill="#6969b7" d="M387.6 335 h8.1 v1h-8.1z" shape-rendering="crispEdges"/>
<path d="M283.4 194.2 V183.4 H367.4 V193.2" stroke="#7a7a7a" stroke-width="0.6" fill="none"/>
<path d="M278.4 198.5 V194.2 H289.6 V195.8" stroke="#7a7a7a" stroke-width="0.6" fill="none"/>
<path d="M286.5 198.5 V195.8 H292.6 V198.5" stroke="#7a7a7a" stroke-width="0.6" fill="none"/>
<path d="M339.5 195.6 V193.2 H396.3 V195.4" stroke="#7a7a7a" stroke-width="0.6" fill="none"/>
<path d="M304 198.5 V196.4 H322 V195.6 H372 V196.6" stroke="#7a7a7a" stroke-width="0.6" fill="none"/>
<path d="M302 198.5 V197.2 H306 V198.5" stroke="#7a7a7a" stroke-width="0.6" fill="none"/>
<path d="M312 198.5 V196.4 M318 198.5 V197.4 H326 V198.5" stroke="#7a7a7a" stroke-width="0.6" fill="none"/>
<path d="M334 198.5 V196.6 H344 V198.5 M350 198.5 V196.8 H358 V195.6" stroke="#7a7a7a" stroke-width="0.6" fill="none"/>
<path d="M362 198.5 V196.6 H380 V198.5 M366 198.5 V197.4 H374 V198.5" stroke="#7a7a7a" stroke-width="0.6" fill="none"/>
<path d="M391 198.5 V195.4 H404 V196.5 M399.5 198.5 V196.5 H408 V198.5" stroke="#7a7a7a" stroke-width="0.6" fill="none"/>
<text transform="translate(276.70,348.6) rotate(90)" font-size="4.35" font-weight="bold" fill="#111">TALL_155</text>
<text transform="translate(284.79,348.6) rotate(90)" font-size="4.35" font-weight="bold" fill="#111">TALL_250</text>
<text transform="translate(292.89,348.6) rotate(90)" font-size="4.35" font-weight="bold" fill="#111">TALL_260</text>
<text transform="translate(300.98,348.6) rotate(90)" font-size="4.35" font-weight="bold" fill="#111">MDS_160</text>
<text transform="translate(309.07,348.6) rotate(90)" font-size="4.35" font-weight="bold" fill="#111">MDS_237</text>
<text transform="translate(317.17,348.6) rotate(90)" font-size="4.35" font-weight="bold" fill="#111">MDS_232</text>
<text transform="translate(325.26,348.6) rotate(90)" font-size="4.35" font-weight="bold" fill="#111">AML_230</text>
<text transform="translate(333.36,348.6) rotate(90)" font-size="4.35" font-weight="bold" fill="#111">AML_263</text>
<text transform="translate(341.45,348.6) rotate(90)" font-size="4.35" font-weight="bold" fill="#111">DP_204</text>
<text transform="translate(349.54,348.6) rotate(90)" font-size="4.35" font-weight="bold" fill="#111">DP_203</text>
<text transform="translate(357.64,348.6) rotate(90)" font-size="4.35" font-weight="bold" fill="#111">DP_208</text>
<text transform="translate(365.73,348.6) rotate(90)" font-size="4.35" font-weight="bold" fill="#111">LSK_203</text>
<text transform="translate(373.83,348.6) rotate(90)" font-size="4.35" font-weight="bold" fill="#111">LSK_204</text>
<text transform="translate(381.92,348.6) rotate(90)" font-size="4.35" font-weight="bold" fill="#111">LSK_208</text>
<text transform="translate(390.01,348.6) rotate(90)" font-size="4.35" font-weight="bold" fill="#111">AML_130</text>
<text transform="translate(398.11,348.6) rotate(90)" font-size="4.35" font-weight="bold" fill="#111">AML_121</text>
<text transform="translate(406.20,348.6) rotate(90)" font-size="4.35" font-weight="bold" fill="#111">MDS_158</text>
<defs><linearGradient id="ck" x1="0" y1="0" x2="0" y2="1"><stop offset="0" stop-color="#8e1a1e"/><stop offset="0.25" stop-color="#c47878"/><stop offset="0.52" stop-color="#f4f0f2"/><stop offset="0.78" stop-color="#7474c4"/><stop offset="1" stop-color="#1c1c96"/></linearGradient></defs>
<rect x="252" y="257.5" width="6.4" height="31.5" fill="url(#ck)"/>
<text x="256.4" y="244.9" font-size="4.0" font-weight="bold" text-anchor="middle" fill="#111">DNA</text>
<text x="256.4" y="249.5" font-size="4.0" font-weight="bold" text-anchor="middle" fill="#111">methylation</text>
<text x="256.4" y="254.1" font-size="4.0" font-weight="bold" text-anchor="middle" fill="#111">(percentage)</text>
<text x="260.4" y="259.8" font-size="4.3" font-weight="bold" fill="#222">100</text>
<text x="260.4" y="267.9" font-size="4.3" font-weight="bold" fill="#222">75</text>
<text x="260.4" y="275.9" font-size="4.3" font-weight="bold" fill="#222">50</text>
<text x="260.4" y="284.0" font-size="4.3" font-weight="bold" fill="#222">25</text>
<text x="0.6" y="351.2" font-size="11" font-weight="bold" fill="#000">D</text>
<line x1="95.4" y1="400.0" x2="113.2" y2="380.6" stroke="#444" stroke-width="0.6"/>
<line x1="95.4" y1="418.2" x2="115.8" y2="439.6" stroke="#444" stroke-width="0.6"/>
<path d="M58.77,405.30 L45.66,372.85 A35.00,35.00 0 0 1 75.47,374.55 Z" fill="#4B8C33"/>
<path d="M60.94,406.42 L77.64,375.66 A35.00,35.00 0 0 1 94.58,396.77 Z" fill="#7A65AA"/>
<path d="M61.60,408.23 L95.24,398.59 A35.00,35.00 0 0 1 95.63,416.41 Z" fill="#BFC9E2"/>
<path d="M59.15,411.25 L93.18,419.42 A35.00,35.00 0 0 1 30.38,431.17 Z" fill="#4A6A9C"/>
<path d="M55.73,407.44 L26.95,427.37 A35.00,35.00 0 0 1 42.61,374.99 Z" fill="#AE514C"/>
<text x="58.3" y="388.6" font-size="5.0" font-weight="bold" fill="#fff" text-anchor="middle">NS</text>
<text x="76.4" y="395.5" font-size="5.0" font-weight="bold" fill="#fff" text-anchor="middle">NS</text>
<text x="38.4" y="404.2" font-size="5.0" font-weight="bold" fill="#fff" text-anchor="middle">NS</text>
<text x="59.7" y="425.0" font-size="5.0" font-weight="bold" fill="#fff" text-anchor="middle">NS</text>
<text x="86.2" y="410.3" font-size="5.0" font-weight="bold" fill="#111" text-anchor="middle">Other</text>
<text x="60" y="365.6" font-size="5.0" font-weight="bold" fill="#111" text-anchor="middle">Intron</text>
<text x="95.5" y="381.7" font-size="5.0" font-weight="bold" fill="#111" text-anchor="middle">Exon</text>
<text x="23.9" y="389.1" font-size="5.0" font-weight="bold" fill="#111" text-anchor="end">Intergenic</text>
<text x="63.7" y="453.9" font-size="5.0" font-weight="bold" fill="#111" text-anchor="middle">Promoter</text>
<path d="M148.31,404.55 L104.33,403.39 A44.00,44.00 0 0 1 126.65,366.25 Z" fill="#B46564"/>
<path d="M150.97,404.45 L129.30,366.15 A44.00,44.00 0 0 1 154.34,360.58 Z" fill="#8DC8A1"/>
<path d="M152.10,404.53 L155.47,360.66 A44.00,44.00 0 0 1 178.27,369.16 Z" fill="#D6A6A1"/>
<path d="M152.89,405.06 L179.06,369.69 A44.00,44.00 0 0 1 190.84,382.80 Z" fill="#8C7EBA"/>
<path d="M153.86,405.55 L191.81,383.28 A44.00,44.00 0 0 1 197.44,399.50 Z" fill="#52B033"/>
<path d="M155.00,406.50 L198.58,400.45 A44.00,44.00 0 0 1 198.19,414.89 Z" fill="#B5ACD3"/>
<path d="M155.87,407.49 L199.06,415.89 A44.00,44.00 0 0 1 198.06,419.99 Z" fill="#A2B2CB"/>
<path d="M150.40,412.72 L192.59,425.22 A44.00,44.00 0 0 1 106.41,411.57 Z" fill="#7488AF"/>
<text x="125.2" y="392.8" font-size="5.0" font-weight="bold" fill="#3a1414" text-anchor="middle">Intergenic</text>
<text x="125.2" y="398.2" font-size="5.0" font-weight="bold" fill="#3a1414" text-anchor="middle">HYPER</text>
<text x="142.8" y="370.9" font-size="5.0" font-weight="bold" fill="#143a1e" text-anchor="middle">Intron</text>
<text x="142.8" y="376.6" font-size="5.0" font-weight="bold" fill="#143a1e" text-anchor="middle">HYPO</text>
<text x="148.5" y="434.5" font-size="5.0" font-weight="bold" fill="#141a2a" text-anchor="middle">Promoter HYPER</text>
<text x="175.6" y="355.6" font-size="5.0" font-weight="bold" fill="#111" text-anchor="middle">Intergenic</text>
<text x="175.7" y="361.3" font-size="5.0" font-weight="bold" fill="#111" text-anchor="middle">HYPO</text>
<text x="195.0" y="368.3" font-size="5.0" font-weight="bold" fill="#111" text-anchor="middle">Exon</text>
<text x="196.0" y="373.9" font-size="5.0" font-weight="bold" fill="#111" text-anchor="middle">HYPER</text>
<text x="206.1" y="386.8" font-size="5.0" font-weight="bold" fill="#111" text-anchor="middle">Intron</text>
<text x="207.6" y="392.4" font-size="5.0" font-weight="bold" fill="#111" text-anchor="middle">HYPER</text>
<text x="208.0" y="406.0" font-size="5.0" font-weight="bold" fill="#111" text-anchor="middle">Exon</text>
<text x="209.0" y="411.7" font-size="5.0" font-weight="bold" fill="#111" text-anchor="middle">HYPO</text>
<text x="211.0" y="420.9" font-size="5.0" font-weight="bold" fill="#111" text-anchor="middle">Promoter</text>
<text x="209.3" y="425.3" font-size="5.0" font-weight="bold" fill="#111" text-anchor="middle">HYPO</text>
<text x="242.9" y="384.4" font-size="10" font-weight="bold" fill="#000">E</text>
<rect x="312.0" y="392.0" width="92.4" height="175.7" fill="none" stroke="#777" stroke-width="0.7"/>
<line x1="358.3" x2="358.3" y1="392.0" y2="567.7" stroke="#777" stroke-width="0.7"/>
<text x="335.2" y="390.6" font-size="6" fill="#000" text-anchor="middle">Hyper</text>
<text x="380.4" y="390.6" font-size="6" fill="#000" text-anchor="middle">Hypo</text>
<text x="307.3" y="399.80" font-size="4.6" font-weight="bold" fill="#151515" text-anchor="end">CGI shore</text>
<line x1="308.6" x2="312" y1="398.20" y2="398.20" stroke="#555" stroke-width="0.5"/>
<text x="307.3" y="408.94" font-size="4.6" font-weight="bold" fill="#151515" text-anchor="end">CGI</text>
<line x1="308.6" x2="312" y1="407.34" y2="407.34" stroke="#555" stroke-width="0.5"/>
<text x="307.3" y="418.08" font-size="4.6" font-weight="bold" fill="#151515" text-anchor="end">HSC aging DMR</text>
<line x1="308.6" x2="312" y1="416.48" y2="416.48" stroke="#555" stroke-width="0.5"/>
<text x="307.3" y="427.22" font-size="4.6" font-weight="bold" fill="#151515" text-anchor="end">HSC UMR</text>
<line x1="308.6" x2="312" y1="425.62" y2="425.62" stroke="#555" stroke-width="0.5"/>
<text x="307.3" y="436.36" font-size="4.6" font-weight="bold" fill="#151515" text-anchor="end">HSC canyon edges</text>
<line x1="308.6" x2="312" y1="434.76" y2="434.76" stroke="#555" stroke-width="0.5"/>
<text x="307.3" y="445.50" font-size="4.6" font-weight="bold" fill="#151515" text-anchor="end">KO3a HSC UMR</text>
<line x1="308.6" x2="312" y1="443.90" y2="443.90" stroke="#555" stroke-width="0.5"/>
<text x="307.3" y="454.64" font-size="4.6" font-weight="bold" fill="#151515" text-anchor="end">KO3a HSC Hyper</text>
<line x1="308.6" x2="312" y1="453.04" y2="453.04" stroke="#555" stroke-width="0.5"/>
<text x="307.3" y="463.78" font-size="4.6" font-weight="bold" fill="#151515" text-anchor="end">KO3a HSC Hypo</text>
<line x1="308.6" x2="312" y1="462.18" y2="462.18" stroke="#555" stroke-width="0.5"/>
<text x="307.3" y="472.92" font-size="4.6" font-weight="bold" fill="#151515" text-anchor="end">BM enhancer</text>
<line x1="308.6" x2="312" y1="471.32" y2="471.32" stroke="#555" stroke-width="0.5"/>
<text x="307.3" y="482.06" font-size="4.6" font-weight="bold" fill="#151515" text-anchor="end">THY enhancer</text>
<line x1="308.6" x2="312" y1="480.46" y2="480.46" stroke="#555" stroke-width="0.5"/>
<text x="307.3" y="491.20" font-size="4.6" font-weight="bold" fill="#151515" text-anchor="end">THY Pol II</text>
<line x1="308.6" x2="312" y1="489.60" y2="489.60" stroke="#555" stroke-width="0.5"/>
<text x="307.3" y="500.34" font-size="4.6" font-weight="bold" fill="#151515" text-anchor="end">THY Ctcf</text>
<line x1="308.6" x2="312" y1="498.74" y2="498.74" stroke="#555" stroke-width="0.5"/>
<text x="307.3" y="509.48" font-size="4.6" font-weight="bold" fill="#151515" text-anchor="end">HPC Gata2</text>
<line x1="308.6" x2="312" y1="507.88" y2="507.88" stroke="#555" stroke-width="0.5"/>
<text x="307.3" y="518.62" font-size="4.6" font-weight="bold" fill="#151515" text-anchor="end">HPC Runx1</text>
<line x1="308.6" x2="312" y1="517.02" y2="517.02" stroke="#555" stroke-width="0.5"/>
<text x="307.3" y="527.76" font-size="4.6" font-weight="bold" fill="#151515" text-anchor="end">THY H3K27ac</text>
<line x1="308.6" x2="312" y1="526.16" y2="526.16" stroke="#555" stroke-width="0.5"/>
<text x="307.3" y="536.90" font-size="4.6" font-weight="bold" fill="#151515" text-anchor="end">THY H3K4me3</text>
<line x1="308.6" x2="312" y1="535.30" y2="535.30" stroke="#555" stroke-width="0.5"/>
<text x="307.3" y="546.04" font-size="4.6" font-weight="bold" fill="#151515" text-anchor="end">HSC H3K4me3</text>
<line x1="308.6" x2="312" y1="544.44" y2="544.44" stroke="#555" stroke-width="0.5"/>
<text x="307.3" y="555.18" font-size="4.6" font-weight="bold" fill="#151515" text-anchor="end">HSC H3K27me3</text>
<line x1="308.6" x2="312" y1="553.58" y2="553.58" stroke="#555" stroke-width="0.5"/>
<text x="307.3" y="564.32" font-size="4.6" font-weight="bold" fill="#151515" text-anchor="end">HSC Bivalent</text>
<line x1="308.6" x2="312" y1="562.72" y2="562.72" stroke="#555" stroke-width="0.5"/>
<line x1="322.6" x2="322.6" y1="567.7" y2="569.5" stroke="#555" stroke-width="0.5"/>
<text x="322.6" y="574.0" font-size="4.6" fill="#1a1a1a" text-anchor="middle">MDS</text>
<line x1="334.8" x2="334.8" y1="567.7" y2="569.5" stroke="#555" stroke-width="0.5"/>
<text x="334.8" y="574.0" font-size="4.6" fill="#1a1a1a" text-anchor="middle">AML</text>
<line x1="347.6" x2="347.6" y1="567.7" y2="569.5" stroke="#555" stroke-width="0.5"/>
<text x="347.6" y="574.0" font-size="4.6" fill="#1a1a1a" text-anchor="middle">TALL</text>
<line x1="367.3" x2="367.3" y1="567.7" y2="569.5" stroke="#555" stroke-width="0.5"/>
<text x="367.3" y="574.0" font-size="4.6" fill="#1a1a1a" text-anchor="middle">MDS</text>
<line x1="379.9" x2="379.9" y1="567.7" y2="569.5" stroke="#555" stroke-width="0.5"/>
<text x="379.9" y="574.0" font-size="4.6" fill="#1a1a1a" text-anchor="middle">AML</text>
<line x1="393.1" x2="393.1" y1="567.7" y2="569.5" stroke="#555" stroke-width="0.5"/>
<text x="393.1" y="574.0" font-size="4.6" fill="#1a1a1a" text-anchor="middle">TALL</text>
<circle cx="347.6" cy="398.20" r="4.20" fill="#111176"/>
<circle cx="367.3" cy="398.20" r="1.20" fill="#c8c8c8"/>
<circle cx="379.9" cy="398.20" r="1.20" fill="#c8c8c8"/>
<circle cx="393.1" cy="398.20" r="1.40" fill="#8a3a20"/>
<circle cx="347.6" cy="407.34" r="5.00" fill="#111176"/>
<circle cx="367.3" cy="407.34" r="1.20" fill="#c8c8c8"/>
<circle cx="379.9" cy="407.34" r="1.20" fill="#c8c8c8"/>
<circle cx="393.1" cy="407.34" r="1.20" fill="#c8c8c8"/>
<circle cx="347.6" cy="416.48" r="1.50" fill="#c8b450"/>
<circle cx="367.3" cy="416.48" r="1.50" fill="#6a2010"/>
<circle cx="379.9" cy="416.48" r="1.50" fill="#5a1a10"/>
<circle cx="393.1" cy="416.48" r="1.50" fill="#8a3a20"/>
<circle cx="347.6" cy="425.62" r="4.80" fill="#111176"/>
<circle cx="367.3" cy="425.62" r="1.20" fill="#c8c8c8"/>
<circle cx="379.9" cy="425.62" r="1.20" fill="#c8c8c8"/>
<circle cx="393.1" cy="425.62" r="1.40" fill="#8a3a20"/>
<circle cx="347.6" cy="434.76" r="1.90" fill="#8b9bd2"/>
<circle cx="367.3" cy="434.76" r="1.20" fill="#c8c8c8"/>
<circle cx="379.9" cy="434.76" r="1.20" fill="#c8c8c8"/>
<circle cx="393.1" cy="434.76" r="1.20" fill="#c8c8c8"/>
<circle cx="322.6" cy="443.90" r="2.70" fill="#c9c9c9"/>
<circle cx="334.8" cy="443.90" r="2.70" fill="#a31a1a"/>
<circle cx="347.6" cy="443.90" r="5.00" fill="#111176"/>
<circle cx="367.3" cy="443.90" r="1.20" fill="#c8c8c8"/>
<circle cx="379.9" cy="443.90" r="1.20" fill="#c8c8c8"/>
<circle cx="393.1" cy="443.90" r="1.50" fill="#d4a45e"/>
<circle cx="347.6" cy="453.04" r="1.40" fill="#7a2a1a"/>
<circle cx="367.3" cy="453.04" r="1.20" fill="#c8c8c8"/>
<circle cx="379.9" cy="453.04" r="1.20" fill="#c8c8c8"/>
<circle cx="393.1" cy="453.04" r="1.20" fill="#cdd3e2"/>
<circle cx="347.6" cy="462.18" r="1.20" fill="#ead3d3"/>
<circle cx="367.3" cy="462.18" r="1.50" fill="#d09040"/>
<circle cx="379.9" cy="462.18" r="1.50" fill="#c8a040"/>
<circle cx="393.1" cy="462.18" r="1.50" fill="#d4bc64"/>
<circle cx="347.6" cy="471.32" r="1.20" fill="#c8c8c8"/>
<circle cx="367.3" cy="471.32" r="1.20" fill="#c9d0b2"/>
<circle cx="379.9" cy="471.32" r="1.20" fill="#c8c8c8"/>
<circle cx="393.1" cy="471.32" r="1.30" fill="#c8d8a2"/>
<circle cx="347.6" cy="480.46" r="1.20" fill="#c8c8c8"/>
<circle cx="367.3" cy="480.46" r="1.20" fill="#cdd2c2"/>
<circle cx="379.9" cy="480.46" r="1.20" fill="#c8c8c8"/>
<circle cx="393.1" cy="480.46" r="2.00" fill="#111176"/>
<circle cx="347.6" cy="489.60" r="1.50" fill="#b2b872"/>
<circle cx="367.3" cy="489.60" r="1.20" fill="#c8c8c8"/>
<circle cx="379.9" cy="489.60" r="1.20" fill="#c8c8c8"/>
<circle cx="393.1" cy="489.60" r="1.20" fill="#d6d6d6"/>
<circle cx="347.6" cy="498.74" r="2.30" fill="#111176"/>
<circle cx="367.3" cy="498.74" r="1.40" fill="#6a2010"/>
<circle cx="379.9" cy="498.74" r="1.20" fill="#c8c8c8"/>
<circle cx="393.1" cy="498.74" r="1.40" fill="#a87450"/>
<circle cx="347.6" cy="507.88" r="1.20" fill="#c8c8c8"/>
<circle cx="367.3" cy="507.88" r="1.50" fill="#702010"/>
<circle cx="379.9" cy="507.88" r="1.40" fill="#401010"/>
<circle cx="393.1" cy="507.88" r="1.50" fill="#5a1a10"/>
<circle cx="347.6" cy="517.02" r="1.20" fill="#c8c8c8"/>
<circle cx="367.3" cy="517.02" r="1.20" fill="#c8c8c8"/>
<circle cx="379.9" cy="517.02" r="1.20" fill="#c8c8c8"/>
<circle cx="393.1" cy="517.02" r="1.50" fill="#701818"/>
<circle cx="347.6" cy="526.16" r="1.20" fill="#c8c8c8"/>
<circle cx="367.3" cy="526.16" r="1.20" fill="#c8c8c8"/>
<circle cx="379.9" cy="526.16" r="1.20" fill="#c8c8c8"/>
<circle cx="393.1" cy="526.16" r="1.50" fill="#701818"/>
<circle cx="347.6" cy="535.30" r="2.70" fill="#111176"/>
<circle cx="367.3" cy="535.30" r="1.20" fill="#c8c8c8"/>
<circle cx="379.9" cy="535.30" r="1.20" fill="#c8c8c8"/>
<circle cx="393.1" cy="535.30" r="1.20" fill="#c8c8c8"/>
<circle cx="347.6" cy="544.44" r="3.20" fill="#111176"/>
<circle cx="367.3" cy="544.44" r="1.20" fill="#c8c8c8"/>
<circle cx="379.9" cy="544.44" r="1.20" fill="#c8c8c8"/>
<circle cx="393.1" cy="544.44" r="1.40" fill="#8a3a20"/>
<circle cx="347.6" cy="553.58" r="2.60" fill="#111176"/>
<circle cx="367.3" cy="553.58" r="1.50" fill="#a07050"/>
<circle cx="379.9" cy="553.58" r="1.50" fill="#908040"/>
<circle cx="393.1" cy="553.58" r="1.20" fill="#c8c8c8"/>
<circle cx="347.6" cy="562.72" r="5.00" fill="#111176"/>
<circle cx="367.3" cy="562.72" r="1.60" fill="#6a1a10"/>
<circle cx="379.9" cy="562.72" r="1.60" fill="#6a1a10"/>
<circle cx="393.1" cy="562.72" r="1.60" fill="#5a1a10"/>
<text x="305.4" y="586.0" font-size="4.3" font-weight="bold" fill="#333" text-anchor="end">-log BH p-val</text>
<defs><linearGradient id="eg" x1="0" y1="0" x2="1" y2="0"><stop offset="0" stop-color="#b84a12"/><stop offset="0.18" stop-color="#e08a2c"/><stop offset="0.38" stop-color="#e6d068"/><stop offset="0.55" stop-color="#b2d896"/><stop offset="0.72" stop-color="#9ab8e0"/><stop offset="0.87" stop-color="#4a54b4"/><stop offset="1" stop-color="#14147a"/></linearGradient></defs>
<rect x="307.4" y="579.3" width="33.8" height="6.4" fill="url(#eg)"/>
<text x="314.8" y="590.4" font-size="4.0" fill="#222" text-anchor="middle">25</text>
<text x="323.0" y="590.4" font-size="4.0" fill="#222" text-anchor="middle">50</text>
<text x="331.4" y="590.4" font-size="4.0" fill="#222" text-anchor="middle">75</text>
<text x="339.8" y="590.4" font-size="4.0" fill="#222" text-anchor="middle">100</text>
<text x="349.2" y="584.0" font-size="4.3" font-weight="bold" fill="#222" text-anchor="middle">Odds</text>
<text x="349.2" y="588.0" font-size="4.3" font-weight="bold" fill="#222" text-anchor="middle">Ratio</text>
<circle cx="360.9" cy="583.7" r="0.9" fill="#000"/>
<text x="364.9" y="585.4" font-size="4.6" fill="#222" text-anchor="middle">2</text>
<circle cx="371.0" cy="583.7" r="1.4" fill="#000"/>
<text x="375.3" y="585.4" font-size="4.6" fill="#222" text-anchor="middle">5</text>
<circle cx="381.0" cy="583.7" r="2.0" fill="#000"/>
<text x="387.1" y="585.4" font-size="4.6" fill="#222" text-anchor="middle">10</text>
<circle cx="395.2" cy="583.7" r="3.4" fill="#000"/>
<text x="402.6" y="585.4" font-size="4.6" fill="#222" text-anchor="middle">20</text>
<text x="0.3" y="478.2" font-size="11" font-weight="bold" fill="#000">F</text>
<text x="103.4" y="484.2" font-size="6.1" fill="#111" textLength="41.7" lengthAdjust="spacingAndGlyphs">Enrichment ratio</text>
<text x="77.5" y="492.0" font-size="5.3" font-weight="bold" fill="#222" text-anchor="middle">0.0</text>
<line x1="78.1" x2="78.1" y1="493.6" y2="495" stroke="#999" stroke-width="0.5"/>
<text x="99.3" y="492.0" font-size="5.3" font-weight="bold" fill="#222" text-anchor="middle">2.0</text>
<line x1="99.9" x2="99.9" y1="493.6" y2="495" stroke="#999" stroke-width="0.5"/>
<text x="121.0" y="492.0" font-size="5.3" font-weight="bold" fill="#222" text-anchor="middle">4.0</text>
<line x1="121.6" x2="121.6" y1="493.6" y2="495" stroke="#999" stroke-width="0.5"/>
<text x="142.8" y="492.0" font-size="5.3" font-weight="bold" fill="#222" text-anchor="middle">6.0</text>
<line x1="143.4" x2="143.4" y1="493.6" y2="495" stroke="#999" stroke-width="0.5"/>
<text x="164.5" y="492.0" font-size="5.3" font-weight="bold" fill="#222" text-anchor="middle">8.0</text>
<line x1="165.1" x2="165.1" y1="493.6" y2="495" stroke="#999" stroke-width="0.5"/>
<line x1="78.1" x2="176.4" y1="495.1" y2="495.1" stroke="#aaa" stroke-width="0.6"/>
<rect x="78.4" y="498.8" width="32.0" height="6.1" fill="#9CBB5E"/>
<rect x="78.4" y="511.6" width="29.7" height="6.1" fill="#9CBB5E"/>
<rect x="78.4" y="524.6" width="35.9" height="6.1" fill="#9CBB5E"/>
<rect x="78.4" y="537.5" width="26.2" height="6.1" fill="#9CBB5E"/>
<rect x="78.4" y="550.1" width="32.0" height="6.1" fill="#9CBB5E"/>
<rect x="78.4" y="562.8" width="50.4" height="6.1" fill="#9CBB5E"/>
<rect x="78.4" y="575.5" width="95.9" height="6.1" fill="#9CBB5E"/>
<line x1="77.3" x2="77.3" y1="495.1" y2="584" stroke="#aaa" stroke-width="0.6"/>
<line x1="75.6" x2="77.3" y1="508.3" y2="508.3" stroke="#9aa8c8" stroke-width="0.5"/>
<line x1="75.6" x2="77.3" y1="521.1" y2="521.1" stroke="#9aa8c8" stroke-width="0.5"/>
<line x1="75.6" x2="77.3" y1="534.0" y2="534.0" stroke="#9aa8c8" stroke-width="0.5"/>
<line x1="75.6" x2="77.3" y1="546.9" y2="546.9" stroke="#9aa8c8" stroke-width="0.5"/>
<line x1="75.6" x2="77.3" y1="559.4" y2="559.4" stroke="#9aa8c8" stroke-width="0.5"/>
<line x1="75.6" x2="77.3" y1="572.1" y2="572.1" stroke="#9aa8c8" stroke-width="0.5"/>
<line x1="75.6" x2="77.3" y1="584.0" y2="584.0" stroke="#9aa8c8" stroke-width="0.5"/>
<text x="73.5" y="500.1" font-size="4.5" font-weight="bold" fill="#1a1a1a" text-anchor="end">Negative regulation</text>
<text x="71.5" y="505.7" font-size="4.5" font-weight="bold" fill="#1a1a1a" text-anchor="end">of transcription</text>
<text x="71.0" y="513.1" font-size="4.5" font-weight="bold" fill="#1a1a1a" text-anchor="end">Negative regulation of</text>
<text x="73.2" y="518.7" font-size="4.5" font-weight="bold" fill="#1a1a1a" text-anchor="end">programmed cell death</text>
<text x="72.7" y="525.9" font-size="4.5" font-weight="bold" fill="#1a1a1a" text-anchor="end">Negative regulation of</text>
<text x="71.8" y="531.9" font-size="4.5" font-weight="bold" fill="#1a1a1a" text-anchor="end">cell proliferation</text>
<text x="72.7" y="542.2" font-size="4.5" font-weight="bold" fill="#1a1a1a" text-anchor="end">Lymphoblastic leukemia</text>
<text x="71.8" y="555.0" font-size="4.5" font-weight="bold" fill="#1a1a1a" text-anchor="end">Methylated in ALL</text>
<text x="72.7" y="564.4" font-size="4.5" font-weight="bold" fill="#1a1a1a" text-anchor="end">Methylated de novo</text>
<text x="71.8" y="570.0" font-size="4.5" font-weight="bold" fill="#1a1a1a" text-anchor="end">in cancer</text>
<text x="73.9" y="577.2" font-size="4.5" font-weight="bold" fill="#1a1a1a" text-anchor="end">H3K27me3 in normal and</text>
<text x="71.8" y="583.5" font-size="4.5" font-weight="bold" fill="#1a1a1a" text-anchor="end">methylated in cancer</text>
</svg>
</body></html>
